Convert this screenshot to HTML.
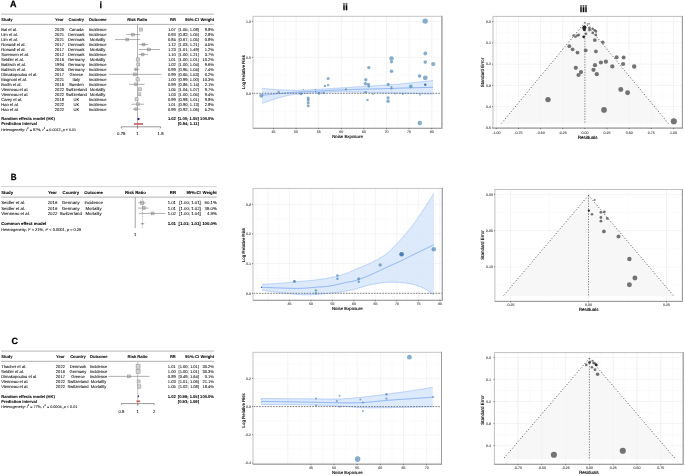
<!DOCTYPE html>
<html><head><meta charset="utf-8"><style>
html,body{margin:0;padding:0;background:#fff;}
svg{display:block;font-family:"Liberation Sans",sans-serif;will-change:transform;text-rendering:geometricPrecision;}
</style></head><body>
<svg width="685" height="476" viewBox="0 0 685 476">
<rect width="685" height="476" fill="#fff"/>
<line x1="1" y1="14.2" x2="214" y2="14.2" stroke="#b0b0b0" stroke-width="0.9" />
<line x1="1" y1="24.4" x2="214" y2="24.4" stroke="#a8a8a8" stroke-width="0.9" />
<text x="1.2" y="21.08" font-size="4.1" text-anchor="start" font-weight="bold" fill="#000"  stroke="#000" stroke-width="0.05">Study</text>
<text x="59.4" y="21.08" font-size="4.1" text-anchor="middle" font-weight="bold" fill="#000"  stroke="#000" stroke-width="0.05">Year</text>
<text x="76.3" y="21.08" font-size="4.1" text-anchor="middle" font-weight="bold" fill="#000"  stroke="#000" stroke-width="0.05">Country</text>
<text x="97.7" y="21.08" font-size="4.1" text-anchor="middle" font-weight="bold" fill="#000"  stroke="#000" stroke-width="0.05">Outcome</text>
<text x="137.2" y="21.08" font-size="4.1" text-anchor="middle" font-weight="bold" fill="#000"  stroke="#000" stroke-width="0.05">Risk Ratio</text>
<text x="175.9" y="21.08" font-size="4.1" text-anchor="end" font-weight="bold" fill="#000"  stroke="#000" stroke-width="0.05">RR</text>
<text x="198.9" y="21.08" font-size="4.1" text-anchor="end" font-weight="bold" fill="#000"  stroke="#000" stroke-width="0.05">95%-CI</text>
<text x="214" y="21.08" font-size="4.1" text-anchor="end" font-weight="bold" fill="#000"  stroke="#000" stroke-width="0.05">Weight</text>
<line x1="137.5" y1="24.4" x2="137.5" y2="128.6" stroke="#ababab" stroke-width="0.9" />
<text x="1.2" y="31.08" font-size="4.1" text-anchor="start" font-weight="normal" fill="#000"  stroke="#000" stroke-width="0.05">Bai et al.</text>
<text x="59.4" y="31.08" font-size="4.1" text-anchor="middle" font-weight="normal" fill="#000"  stroke="#000" stroke-width="0.05">2020</text>
<text x="76.3" y="31.08" font-size="4.1" text-anchor="middle" font-weight="normal" fill="#000"  stroke="#000" stroke-width="0.05">Canada</text>
<text x="97.7" y="31.08" font-size="4.1" text-anchor="middle" font-weight="normal" fill="#000"  stroke="#000" stroke-width="0.05">Incidence</text>
<text x="175.9" y="31.08" font-size="4.1" text-anchor="end" font-weight="normal" fill="#000"  stroke="#000" stroke-width="0.05">1.07</text>
<text x="198.9" y="31.08" font-size="4.1" text-anchor="end" font-weight="normal" fill="#000"  stroke="#000" stroke-width="0.05">[1.05; 1.08]</text>
<text x="214" y="31.08" font-size="4.1" text-anchor="end" font-weight="normal" fill="#000"  stroke="#000" stroke-width="0.05">9.8%</text>
<rect x="139.5" y="28.1" width="3" height="3" fill="#d2d2d2" stroke="#969696" stroke-width="0.55" />
<text x="1.2" y="36.05" font-size="4.1" text-anchor="start" font-weight="normal" fill="#000"  stroke="#000" stroke-width="0.05">Lim et al.</text>
<text x="59.4" y="36.05" font-size="4.1" text-anchor="middle" font-weight="normal" fill="#000"  stroke="#000" stroke-width="0.05">2021</text>
<text x="76.3" y="36.05" font-size="4.1" text-anchor="middle" font-weight="normal" fill="#000"  stroke="#000" stroke-width="0.05">Denmark</text>
<text x="97.7" y="36.05" font-size="4.1" text-anchor="middle" font-weight="normal" fill="#000"  stroke="#000" stroke-width="0.05">Incidence</text>
<text x="175.9" y="36.05" font-size="4.1" text-anchor="end" font-weight="normal" fill="#000"  stroke="#000" stroke-width="0.05">0.93</text>
<text x="198.9" y="36.05" font-size="4.1" text-anchor="end" font-weight="normal" fill="#000"  stroke="#000" stroke-width="0.05">[0.82; 1.05]</text>
<text x="214" y="36.05" font-size="4.1" text-anchor="end" font-weight="normal" fill="#000"  stroke="#000" stroke-width="0.05">2.8%</text>
<rect x="131.7" y="33.18" width="2.8" height="2.8" fill="#d2d2d2" stroke="#969696" stroke-width="0.55" />
<line x1="126.3" y1="34.58" x2="140.2" y2="34.58" stroke="#7a7a7a" stroke-width="0.6" />
<text x="1.2" y="41.03" font-size="4.1" text-anchor="start" font-weight="normal" fill="#000"  stroke="#000" stroke-width="0.05">Lim et al.</text>
<text x="59.4" y="41.03" font-size="4.1" text-anchor="middle" font-weight="normal" fill="#000"  stroke="#000" stroke-width="0.05">2021</text>
<text x="76.3" y="41.03" font-size="4.1" text-anchor="middle" font-weight="normal" fill="#000"  stroke="#000" stroke-width="0.05">Denmark</text>
<text x="97.7" y="41.03" font-size="4.1" text-anchor="middle" font-weight="normal" fill="#000"  stroke="#000" stroke-width="0.05">Mortality</text>
<text x="175.9" y="41.03" font-size="4.1" text-anchor="end" font-weight="normal" fill="#000"  stroke="#000" stroke-width="0.05">0.84</text>
<text x="198.9" y="41.03" font-size="4.1" text-anchor="end" font-weight="normal" fill="#000"  stroke="#000" stroke-width="0.05">[0.67; 1.05]</text>
<text x="214" y="41.03" font-size="4.1" text-anchor="end" font-weight="normal" fill="#000"  stroke="#000" stroke-width="0.05">0.8%</text>
<rect x="125.9" y="38.15" width="2.8" height="2.8" fill="#d2d2d2" stroke="#969696" stroke-width="0.55" />
<line x1="115" y1="39.55" x2="140.2" y2="39.55" stroke="#7a7a7a" stroke-width="0.6" />
<text x="1.2" y="46" font-size="4.1" text-anchor="start" font-weight="normal" fill="#000"  stroke="#000" stroke-width="0.05">Roswall et al.</text>
<text x="59.4" y="46" font-size="4.1" text-anchor="middle" font-weight="normal" fill="#000"  stroke="#000" stroke-width="0.05">2017</text>
<text x="76.3" y="46" font-size="4.1" text-anchor="middle" font-weight="normal" fill="#000"  stroke="#000" stroke-width="0.05">Denmark</text>
<text x="97.7" y="46" font-size="4.1" text-anchor="middle" font-weight="normal" fill="#000"  stroke="#000" stroke-width="0.05">Incidence</text>
<text x="175.9" y="46" font-size="4.1" text-anchor="end" font-weight="normal" fill="#000"  stroke="#000" stroke-width="0.05">1.12</text>
<text x="198.9" y="46" font-size="4.1" text-anchor="end" font-weight="normal" fill="#000"  stroke="#000" stroke-width="0.05">[1.03; 1.21]</text>
<text x="214" y="46" font-size="4.1" text-anchor="end" font-weight="normal" fill="#000"  stroke="#000" stroke-width="0.05">4.5%</text>
<rect x="142.2" y="43.12" width="2.8" height="2.8" fill="#d2d2d2" stroke="#969696" stroke-width="0.55" />
<line x1="139" y1="44.52" x2="148" y2="44.52" stroke="#7a7a7a" stroke-width="0.6" />
<text x="1.2" y="50.98" font-size="4.1" text-anchor="start" font-weight="normal" fill="#000"  stroke="#000" stroke-width="0.05">Roswall et al.</text>
<text x="59.4" y="50.98" font-size="4.1" text-anchor="middle" font-weight="normal" fill="#000"  stroke="#000" stroke-width="0.05">2017</text>
<text x="76.3" y="50.98" font-size="4.1" text-anchor="middle" font-weight="normal" fill="#000"  stroke="#000" stroke-width="0.05">Denmark</text>
<text x="97.7" y="50.98" font-size="4.1" text-anchor="middle" font-weight="normal" fill="#000"  stroke="#000" stroke-width="0.05">Mortality</text>
<text x="175.9" y="50.98" font-size="4.1" text-anchor="end" font-weight="normal" fill="#000"  stroke="#000" stroke-width="0.05">1.23</text>
<text x="198.9" y="50.98" font-size="4.1" text-anchor="end" font-weight="normal" fill="#000"  stroke="#000" stroke-width="0.05">[1.01; 1.49]</text>
<text x="214" y="50.98" font-size="4.1" text-anchor="end" font-weight="normal" fill="#000"  stroke="#000" stroke-width="0.05">1.2%</text>
<rect x="147.5" y="48.1" width="2.8" height="2.8" fill="#d2d2d2" stroke="#969696" stroke-width="0.55" />
<line x1="138.9" y1="49.5" x2="159.9" y2="49.5" stroke="#7a7a7a" stroke-width="0.6" />
<text x="1.2" y="55.95" font-size="4.1" text-anchor="start" font-weight="normal" fill="#000"  stroke="#000" stroke-width="0.05">Sorensen et al.</text>
<text x="59.4" y="55.95" font-size="4.1" text-anchor="middle" font-weight="normal" fill="#000"  stroke="#000" stroke-width="0.05">2012</text>
<text x="76.3" y="55.95" font-size="4.1" text-anchor="middle" font-weight="normal" fill="#000"  stroke="#000" stroke-width="0.05">Denmark</text>
<text x="97.7" y="55.95" font-size="4.1" text-anchor="middle" font-weight="normal" fill="#000"  stroke="#000" stroke-width="0.05">Incidence</text>
<text x="175.9" y="55.95" font-size="4.1" text-anchor="end" font-weight="normal" fill="#000"  stroke="#000" stroke-width="0.05">1.10</text>
<text x="198.9" y="55.95" font-size="4.1" text-anchor="end" font-weight="normal" fill="#000"  stroke="#000" stroke-width="0.05">[1.00; 1.21]</text>
<text x="214" y="55.95" font-size="4.1" text-anchor="end" font-weight="normal" fill="#000"  stroke="#000" stroke-width="0.05">3.7%</text>
<rect x="141.2" y="53.08" width="2.8" height="2.8" fill="#d2d2d2" stroke="#969696" stroke-width="0.55" />
<line x1="138.5" y1="54.48" x2="148" y2="54.48" stroke="#7a7a7a" stroke-width="0.6" />
<text x="1.2" y="60.93" font-size="4.1" text-anchor="start" font-weight="normal" fill="#000"  stroke="#000" stroke-width="0.05">Seidler et al.</text>
<text x="59.4" y="60.93" font-size="4.1" text-anchor="middle" font-weight="normal" fill="#000"  stroke="#000" stroke-width="0.05">2016</text>
<text x="76.3" y="60.93" font-size="4.1" text-anchor="middle" font-weight="normal" fill="#000"  stroke="#000" stroke-width="0.05">Germany</text>
<text x="97.7" y="60.93" font-size="4.1" text-anchor="middle" font-weight="normal" fill="#000"  stroke="#000" stroke-width="0.05">Mortality</text>
<text x="175.9" y="60.93" font-size="4.1" text-anchor="end" font-weight="normal" fill="#000"  stroke="#000" stroke-width="0.05">1.01</text>
<text x="198.9" y="60.93" font-size="4.1" text-anchor="end" font-weight="normal" fill="#000"  stroke="#000" stroke-width="0.05">[1.00; 1.01]</text>
<text x="214" y="60.93" font-size="4.1" text-anchor="end" font-weight="normal" fill="#000"  stroke="#000" stroke-width="0.05">10.2%</text>
<rect x="136.2" y="57.85" width="3.2" height="3.2" fill="#d2d2d2" stroke="#969696" stroke-width="0.55" />
<text x="1.2" y="65.9" font-size="4.1" text-anchor="start" font-weight="normal" fill="#000"  stroke="#000" stroke-width="0.05">Babisch et al.</text>
<text x="59.4" y="65.9" font-size="4.1" text-anchor="middle" font-weight="normal" fill="#000"  stroke="#000" stroke-width="0.05">1994</text>
<text x="76.3" y="65.9" font-size="4.1" text-anchor="middle" font-weight="normal" fill="#000"  stroke="#000" stroke-width="0.05">Germany</text>
<text x="97.7" y="65.9" font-size="4.1" text-anchor="middle" font-weight="normal" fill="#000"  stroke="#000" stroke-width="0.05">Incidence</text>
<text x="175.9" y="65.9" font-size="4.1" text-anchor="end" font-weight="normal" fill="#000"  stroke="#000" stroke-width="0.05">1.02</text>
<text x="198.9" y="65.9" font-size="4.1" text-anchor="end" font-weight="normal" fill="#000"  stroke="#000" stroke-width="0.05">[1.00; 1.04]</text>
<text x="214" y="65.9" font-size="4.1" text-anchor="end" font-weight="normal" fill="#000"  stroke="#000" stroke-width="0.05">9.6%</text>
<rect x="136.8" y="62.92" width="3" height="3" fill="#d2d2d2" stroke="#969696" stroke-width="0.55" />
<text x="1.2" y="70.88" font-size="4.1" text-anchor="start" font-weight="normal" fill="#000"  stroke="#000" stroke-width="0.05">Babisch et al.</text>
<text x="59.4" y="70.88" font-size="4.1" text-anchor="middle" font-weight="normal" fill="#000"  stroke="#000" stroke-width="0.05">2005</text>
<text x="76.3" y="70.88" font-size="4.1" text-anchor="middle" font-weight="normal" fill="#000"  stroke="#000" stroke-width="0.05">Germany</text>
<text x="97.7" y="70.88" font-size="4.1" text-anchor="middle" font-weight="normal" fill="#000"  stroke="#000" stroke-width="0.05">Incidence</text>
<text x="175.9" y="70.88" font-size="4.1" text-anchor="end" font-weight="normal" fill="#000"  stroke="#000" stroke-width="0.05">0.99</text>
<text x="198.9" y="70.88" font-size="4.1" text-anchor="end" font-weight="normal" fill="#000"  stroke="#000" stroke-width="0.05">[0.95; 1.04]</text>
<text x="214" y="70.88" font-size="4.1" text-anchor="end" font-weight="normal" fill="#000"  stroke="#000" stroke-width="0.05">7.4%</text>
<rect x="134.9" y="68" width="2.8" height="2.8" fill="#d2d2d2" stroke="#969696" stroke-width="0.55" />
<line x1="134.2" y1="69.4" x2="139.4" y2="69.4" stroke="#7a7a7a" stroke-width="0.6" />
<text x="1.2" y="75.85" font-size="4.1" text-anchor="start" font-weight="normal" fill="#000"  stroke="#000" stroke-width="0.05">Dimakopoulou et al.</text>
<text x="59.4" y="75.85" font-size="4.1" text-anchor="middle" font-weight="normal" fill="#000"  stroke="#000" stroke-width="0.05">2017</text>
<text x="76.3" y="75.85" font-size="4.1" text-anchor="middle" font-weight="normal" fill="#000"  stroke="#000" stroke-width="0.05">Greece</text>
<text x="97.7" y="75.85" font-size="4.1" text-anchor="middle" font-weight="normal" fill="#000"  stroke="#000" stroke-width="0.05">Incidence</text>
<text x="175.9" y="75.85" font-size="4.1" text-anchor="end" font-weight="normal" fill="#000"  stroke="#000" stroke-width="0.05">0.99</text>
<text x="198.9" y="75.85" font-size="4.1" text-anchor="end" font-weight="normal" fill="#000"  stroke="#000" stroke-width="0.05">[0.65; 1.53]</text>
<text x="214" y="75.85" font-size="4.1" text-anchor="end" font-weight="normal" fill="#000"  stroke="#000" stroke-width="0.05">0.2%</text>
<rect x="133.6" y="72.97" width="2.8" height="2.8" fill="#d2d2d2" stroke="#969696" stroke-width="0.55" />
<line x1="108.8" y1="74.38" x2="161.5" y2="74.38" stroke="#7a7a7a" stroke-width="0.6" />
<text x="1.2" y="80.83" font-size="4.1" text-anchor="start" font-weight="normal" fill="#000"  stroke="#000" stroke-width="0.05">Magnoni et al.</text>
<text x="59.4" y="80.83" font-size="4.1" text-anchor="middle" font-weight="normal" fill="#000"  stroke="#000" stroke-width="0.05">2021</text>
<text x="76.3" y="80.83" font-size="4.1" text-anchor="middle" font-weight="normal" fill="#000"  stroke="#000" stroke-width="0.05">Italy</text>
<text x="97.7" y="80.83" font-size="4.1" text-anchor="middle" font-weight="normal" fill="#000"  stroke="#000" stroke-width="0.05">Incidence</text>
<text x="175.9" y="80.83" font-size="4.1" text-anchor="end" font-weight="normal" fill="#000"  stroke="#000" stroke-width="0.05">1.00</text>
<text x="198.9" y="80.83" font-size="4.1" text-anchor="end" font-weight="normal" fill="#000"  stroke="#000" stroke-width="0.05">[0.99; 1.00]</text>
<text x="214" y="80.83" font-size="4.1" text-anchor="end" font-weight="normal" fill="#000"  stroke="#000" stroke-width="0.05">10.3%</text>
<rect x="136" y="77.75" width="3.2" height="3.2" fill="#d2d2d2" stroke="#969696" stroke-width="0.55" />
<text x="1.2" y="85.8" font-size="4.1" text-anchor="start" font-weight="normal" fill="#000"  stroke="#000" stroke-width="0.05">Bodin et al.</text>
<text x="59.4" y="85.8" font-size="4.1" text-anchor="middle" font-weight="normal" fill="#000"  stroke="#000" stroke-width="0.05">2016</text>
<text x="76.3" y="85.8" font-size="4.1" text-anchor="middle" font-weight="normal" fill="#000"  stroke="#000" stroke-width="0.05">Sweden</text>
<text x="97.7" y="85.8" font-size="4.1" text-anchor="middle" font-weight="normal" fill="#000"  stroke="#000" stroke-width="0.05">Incidence</text>
<text x="175.9" y="85.8" font-size="4.1" text-anchor="end" font-weight="normal" fill="#000"  stroke="#000" stroke-width="0.05">0.99</text>
<text x="198.9" y="85.8" font-size="4.1" text-anchor="end" font-weight="normal" fill="#000"  stroke="#000" stroke-width="0.05">[0.86; 1.14]</text>
<text x="214" y="85.8" font-size="4.1" text-anchor="end" font-weight="normal" fill="#000"  stroke="#000" stroke-width="0.05">2.1%</text>
<rect x="134.7" y="82.92" width="2.8" height="2.8" fill="#d2d2d2" stroke="#969696" stroke-width="0.55" />
<line x1="129" y1="84.32" x2="144.6" y2="84.32" stroke="#7a7a7a" stroke-width="0.6" />
<text x="1.2" y="90.78" font-size="4.1" text-anchor="start" font-weight="normal" fill="#000"  stroke="#000" stroke-width="0.05">Vienneau et al.</text>
<text x="59.4" y="90.78" font-size="4.1" text-anchor="middle" font-weight="normal" fill="#000"  stroke="#000" stroke-width="0.05">2022</text>
<text x="76.3" y="90.78" font-size="4.1" text-anchor="middle" font-weight="normal" fill="#000"  stroke="#000" stroke-width="0.05">Switzerland</text>
<text x="97.7" y="90.78" font-size="4.1" text-anchor="middle" font-weight="normal" fill="#000"  stroke="#000" stroke-width="0.05">Mortality</text>
<text x="175.9" y="90.78" font-size="4.1" text-anchor="end" font-weight="normal" fill="#000"  stroke="#000" stroke-width="0.05">1.05</text>
<text x="198.9" y="90.78" font-size="4.1" text-anchor="end" font-weight="normal" fill="#000"  stroke="#000" stroke-width="0.05">[1.04; 1.07]</text>
<text x="214" y="90.78" font-size="4.1" text-anchor="end" font-weight="normal" fill="#000"  stroke="#000" stroke-width="0.05">9.7%</text>
<rect x="138.6" y="87.8" width="3" height="3" fill="#d2d2d2" stroke="#969696" stroke-width="0.55" />
<text x="1.2" y="95.75" font-size="4.1" text-anchor="start" font-weight="normal" fill="#000"  stroke="#000" stroke-width="0.05">Vienneau et al.</text>
<text x="59.4" y="95.75" font-size="4.1" text-anchor="middle" font-weight="normal" fill="#000"  stroke="#000" stroke-width="0.05">2022</text>
<text x="76.3" y="95.75" font-size="4.1" text-anchor="middle" font-weight="normal" fill="#000"  stroke="#000" stroke-width="0.05">Switzerland</text>
<text x="97.7" y="95.75" font-size="4.1" text-anchor="middle" font-weight="normal" fill="#000"  stroke="#000" stroke-width="0.05">Mortality</text>
<text x="175.9" y="95.75" font-size="4.1" text-anchor="end" font-weight="normal" fill="#000"  stroke="#000" stroke-width="0.05">1.03</text>
<text x="198.9" y="95.75" font-size="4.1" text-anchor="end" font-weight="normal" fill="#000"  stroke="#000" stroke-width="0.05">[1.00; 1.05]</text>
<text x="214" y="95.75" font-size="4.1" text-anchor="end" font-weight="normal" fill="#000"  stroke="#000" stroke-width="0.05">9.4%</text>
<rect x="137.8" y="92.78" width="3" height="3" fill="#d2d2d2" stroke="#969696" stroke-width="0.55" />
<text x="1.2" y="100.73" font-size="4.1" text-anchor="start" font-weight="normal" fill="#000"  stroke="#000" stroke-width="0.05">Carey et al.</text>
<text x="59.4" y="100.73" font-size="4.1" text-anchor="middle" font-weight="normal" fill="#000"  stroke="#000" stroke-width="0.05">2018</text>
<text x="76.3" y="100.73" font-size="4.1" text-anchor="middle" font-weight="normal" fill="#000"  stroke="#000" stroke-width="0.05">UK</text>
<text x="97.7" y="100.73" font-size="4.1" text-anchor="middle" font-weight="normal" fill="#000"  stroke="#000" stroke-width="0.05">Incidence</text>
<text x="175.9" y="100.73" font-size="4.1" text-anchor="end" font-weight="normal" fill="#000"  stroke="#000" stroke-width="0.05">0.99</text>
<text x="198.9" y="100.73" font-size="4.1" text-anchor="end" font-weight="normal" fill="#000"  stroke="#000" stroke-width="0.05">[0.98; 1.01]</text>
<text x="214" y="100.73" font-size="4.1" text-anchor="end" font-weight="normal" fill="#000"  stroke="#000" stroke-width="0.05">9.8%</text>
<rect x="135.1" y="97.75" width="3" height="3" fill="#d2d2d2" stroke="#969696" stroke-width="0.55" />
<text x="1.2" y="105.7" font-size="4.1" text-anchor="start" font-weight="normal" fill="#000"  stroke="#000" stroke-width="0.05">Hao et al.</text>
<text x="59.4" y="105.7" font-size="4.1" text-anchor="middle" font-weight="normal" fill="#000"  stroke="#000" stroke-width="0.05">2022</text>
<text x="76.3" y="105.7" font-size="4.1" text-anchor="middle" font-weight="normal" fill="#000"  stroke="#000" stroke-width="0.05">UK</text>
<text x="97.7" y="105.7" font-size="4.1" text-anchor="middle" font-weight="normal" fill="#000"  stroke="#000" stroke-width="0.05">Incidence</text>
<text x="175.9" y="105.7" font-size="4.1" text-anchor="end" font-weight="normal" fill="#000"  stroke="#000" stroke-width="0.05">1.01</text>
<text x="198.9" y="105.7" font-size="4.1" text-anchor="end" font-weight="normal" fill="#000"  stroke="#000" stroke-width="0.05">[0.90; 1.13]</text>
<text x="214" y="105.7" font-size="4.1" text-anchor="end" font-weight="normal" fill="#000"  stroke="#000" stroke-width="0.05">2.8%</text>
<rect x="136.6" y="102.82" width="2.8" height="2.8" fill="#d2d2d2" stroke="#969696" stroke-width="0.55" />
<line x1="131.3" y1="104.22" x2="144" y2="104.22" stroke="#7a7a7a" stroke-width="0.6" />
<text x="1.2" y="110.68" font-size="4.1" text-anchor="start" font-weight="normal" fill="#000"  stroke="#000" stroke-width="0.05">Hao et al.</text>
<text x="59.4" y="110.68" font-size="4.1" text-anchor="middle" font-weight="normal" fill="#000"  stroke="#000" stroke-width="0.05">2022</text>
<text x="76.3" y="110.68" font-size="4.1" text-anchor="middle" font-weight="normal" fill="#000"  stroke="#000" stroke-width="0.05">UK</text>
<text x="97.7" y="110.68" font-size="4.1" text-anchor="middle" font-weight="normal" fill="#000"  stroke="#000" stroke-width="0.05">Incidence</text>
<text x="175.9" y="110.68" font-size="4.1" text-anchor="end" font-weight="normal" fill="#000"  stroke="#000" stroke-width="0.05">0.99</text>
<text x="198.9" y="110.68" font-size="4.1" text-anchor="end" font-weight="normal" fill="#000"  stroke="#000" stroke-width="0.05">[0.92; 1.06]</text>
<text x="214" y="110.68" font-size="4.1" text-anchor="end" font-weight="normal" fill="#000"  stroke="#000" stroke-width="0.05">5.2%</text>
<rect x="134.8" y="107.8" width="2.8" height="2.8" fill="#d2d2d2" stroke="#969696" stroke-width="0.55" />
<line x1="133" y1="109.2" x2="140.4" y2="109.2" stroke="#7a7a7a" stroke-width="0.6" />
<text x="1.2" y="120.48" font-size="4.1" text-anchor="start" font-weight="bold" fill="#000"  stroke="#000" stroke-width="0.05">Random effects model (HK)</text>
<text x="175.9" y="120.48" font-size="4.1" text-anchor="end" font-weight="bold" fill="#000"  stroke="#000" stroke-width="0.05">1.02</text>
<text x="198.9" y="120.48" font-size="4.1" text-anchor="end" font-weight="bold" fill="#000"  stroke="#000" stroke-width="0.05">[1.00; 1.05]</text>
<text x="214" y="120.48" font-size="4.1" text-anchor="end" font-weight="bold" fill="#000"  stroke="#000" stroke-width="0.05">100.0%</text>
<text x="1.2" y="125.38" font-size="4.1" text-anchor="start" font-weight="bold" fill="#000"  stroke="#000" stroke-width="0.05">Prediction interval</text>
<text x="198.9" y="125.38" font-size="4.1" text-anchor="end" font-weight="bold" fill="#000"  stroke="#000" stroke-width="0.05">[0.94; 1.11]</text>
<text x="1.2" y="130.63" font-size="3.7" stroke="#000" stroke-width="0.06">Heterogeneity: <tspan font-style="italic">I</tspan><tspan dy="-1.6" font-size="2.6">2</tspan><tspan dy="1.6"> = 87%, </tspan><tspan font-style="italic">τ</tspan><tspan dy="-1.6" font-size="2.6">2</tspan><tspan dy="1.6"> = 0.0013, </tspan><tspan font-style="italic">p</tspan> &lt; 0.01</text>
<polygon points="137,119 138.5,117.7 140,119 138.5,120.3" fill="#1a1a86" stroke="none" stroke-width="1" />
<rect x="134" y="123.2" width="9" height="1.6" fill="#c65a5a" stroke="none" stroke-width="1" />
<line x1="121.3" y1="126.8" x2="160.6" y2="126.8" stroke="#555" stroke-width="0.6" />
<line x1="121.3" y1="126.8" x2="121.3" y2="128.4" stroke="#555" stroke-width="0.6" />
<text x="121.3" y="135.25" font-size="4.3" text-anchor="middle" font-weight="normal" fill="#000"  stroke="#000" stroke-width="0.05">0.75</text>
<line x1="137.5" y1="126.8" x2="137.5" y2="128.4" stroke="#555" stroke-width="0.6" />
<text x="137.5" y="135.25" font-size="4.3" text-anchor="middle" font-weight="normal" fill="#000"  stroke="#000" stroke-width="0.05">1</text>
<line x1="160.6" y1="126.8" x2="160.6" y2="128.4" stroke="#555" stroke-width="0.6" />
<text x="160.6" y="135.25" font-size="4.3" text-anchor="middle" font-weight="normal" fill="#000"  stroke="#000" stroke-width="0.05">1.5</text>
<text x="9.9" y="6.9" font-size="9" text-anchor="start" font-weight="bold" fill="#000" stroke="#000" stroke-width="0.25">A</text>
<text x="99.6" y="8.4" font-size="9" text-anchor="start" font-weight="bold" fill="#000" stroke="#000" stroke-width="0.25">i</text>
<line x1="1" y1="186.6" x2="216.8" y2="186.6" stroke="#cfcfcf" stroke-width="0.9" />
<line x1="1" y1="197.1" x2="216.8" y2="197.1" stroke="#a8a8a8" stroke-width="0.9" />
<text x="1.2" y="193.85" font-size="4.3" text-anchor="start" font-weight="bold" fill="#000"  stroke="#000" stroke-width="0.05">Study</text>
<text x="52.5" y="193.85" font-size="4.3" text-anchor="middle" font-weight="bold" fill="#000"  stroke="#000" stroke-width="0.05">Year</text>
<text x="70.8" y="193.85" font-size="4.3" text-anchor="middle" font-weight="bold" fill="#000"  stroke="#000" stroke-width="0.05">Country</text>
<text x="93.6" y="193.85" font-size="4.3" text-anchor="middle" font-weight="bold" fill="#000"  stroke="#000" stroke-width="0.05">Outcome</text>
<text x="135.4" y="193.85" font-size="4.3" text-anchor="middle" font-weight="bold" fill="#000"  stroke="#000" stroke-width="0.05">Risk Ratio</text>
<text x="176" y="193.85" font-size="4.3" text-anchor="end" font-weight="bold" fill="#000"  stroke="#000" stroke-width="0.05">RR</text>
<text x="200.8" y="193.85" font-size="4.3" text-anchor="end" font-weight="bold" fill="#000"  stroke="#000" stroke-width="0.05">95%-CI</text>
<text x="216.8" y="193.85" font-size="4.3" text-anchor="end" font-weight="bold" fill="#000"  stroke="#000" stroke-width="0.05">Weight</text>
<line x1="135.2" y1="197.1" x2="135.2" y2="228.2" stroke="#7a7a7a" stroke-width="0.7" />
<line x1="142.6" y1="197.1" x2="142.6" y2="228.2" stroke="#7a7a7a" stroke-width="0.5" stroke-dasharray="1.2,0.9"/>
<text x="1.2" y="204.35" font-size="4.3" text-anchor="start" font-weight="normal" fill="#000"  stroke="#000" stroke-width="0.05">Seidler et al.</text>
<text x="52.5" y="204.35" font-size="4.3" text-anchor="middle" font-weight="normal" fill="#000"  stroke="#000" stroke-width="0.05">2016</text>
<text x="70.8" y="204.35" font-size="4.3" text-anchor="middle" font-weight="normal" fill="#000"  stroke="#000" stroke-width="0.05">Germany</text>
<text x="93.6" y="204.35" font-size="4.3" text-anchor="middle" font-weight="normal" fill="#000"  stroke="#000" stroke-width="0.05">Incidence</text>
<text x="176" y="204.35" font-size="4.3" text-anchor="end" font-weight="normal" fill="#000"  stroke="#000" stroke-width="0.05">1.01</text>
<text x="200.8" y="204.35" font-size="4.3" text-anchor="end" font-weight="normal" fill="#000"  stroke="#000" stroke-width="0.05">[1.00; 1.01]</text>
<text x="216.8" y="204.35" font-size="4.3" text-anchor="end" font-weight="normal" fill="#000"  stroke="#000" stroke-width="0.05">60.1%</text>
<rect x="140.4" y="201.1" width="3.4" height="3.4" fill="#d2d2d2" stroke="#969696" stroke-width="0.55" />
<line x1="138.1" y1="202.8" x2="145.7" y2="202.8" stroke="#7a7a7a" stroke-width="0.6" />
<text x="1.2" y="209.65" font-size="4.3" text-anchor="start" font-weight="normal" fill="#000"  stroke="#000" stroke-width="0.05">Seidler et al.</text>
<text x="52.5" y="209.65" font-size="4.3" text-anchor="middle" font-weight="normal" fill="#000"  stroke="#000" stroke-width="0.05">2016</text>
<text x="70.8" y="209.65" font-size="4.3" text-anchor="middle" font-weight="normal" fill="#000"  stroke="#000" stroke-width="0.05">Germany</text>
<text x="93.6" y="209.65" font-size="4.3" text-anchor="middle" font-weight="normal" fill="#000"  stroke="#000" stroke-width="0.05">Mortality</text>
<text x="176" y="209.65" font-size="4.3" text-anchor="end" font-weight="normal" fill="#000"  stroke="#000" stroke-width="0.05">1.01</text>
<text x="200.8" y="209.65" font-size="4.3" text-anchor="end" font-weight="normal" fill="#000"  stroke="#000" stroke-width="0.05">[1.00; 1.02]</text>
<text x="216.8" y="209.65" font-size="4.3" text-anchor="end" font-weight="normal" fill="#000"  stroke="#000" stroke-width="0.05">35.0%</text>
<rect x="142.25" y="206.65" width="2.9" height="2.9" fill="#d2d2d2" stroke="#969696" stroke-width="0.55" />
<line x1="138" y1="208.1" x2="148.5" y2="208.1" stroke="#7a7a7a" stroke-width="0.6" />
<text x="1.2" y="214.95" font-size="4.3" text-anchor="start" font-weight="normal" fill="#000"  stroke="#000" stroke-width="0.05">Vienneau et al.</text>
<text x="52.5" y="214.95" font-size="4.3" text-anchor="middle" font-weight="normal" fill="#000"  stroke="#000" stroke-width="0.05">2022</text>
<text x="70.8" y="214.95" font-size="4.3" text-anchor="middle" font-weight="normal" fill="#000"  stroke="#000" stroke-width="0.05">Switzerland</text>
<text x="93.6" y="214.95" font-size="4.3" text-anchor="middle" font-weight="normal" fill="#000"  stroke="#000" stroke-width="0.05">Mortality</text>
<text x="176" y="214.95" font-size="4.3" text-anchor="end" font-weight="normal" fill="#000"  stroke="#000" stroke-width="0.05">1.02</text>
<text x="200.8" y="214.95" font-size="4.3" text-anchor="end" font-weight="normal" fill="#000"  stroke="#000" stroke-width="0.05">[1.00; 1.04]</text>
<text x="216.8" y="214.95" font-size="4.3" text-anchor="end" font-weight="normal" fill="#000"  stroke="#000" stroke-width="0.05">4.9%</text>
<rect x="151.2" y="212" width="2.8" height="2.8" fill="#d2d2d2" stroke="#969696" stroke-width="0.55" />
<line x1="138.9" y1="213.4" x2="165.4" y2="213.4" stroke="#7a7a7a" stroke-width="0.6" />
<text x="1.2" y="225.45" font-size="4.3" text-anchor="start" font-weight="bold" fill="#000"  stroke="#000" stroke-width="0.05">Common effect model</text>
<text x="176" y="225.45" font-size="4.3" text-anchor="end" font-weight="bold" fill="#000"  stroke="#000" stroke-width="0.05">1.01</text>
<text x="200.8" y="225.45" font-size="4.3" text-anchor="end" font-weight="bold" fill="#000"  stroke="#000" stroke-width="0.05">[1.01; 1.01]</text>
<text x="216.8" y="225.45" font-size="4.3" text-anchor="end" font-weight="bold" fill="#000"  stroke="#000" stroke-width="0.05">100.0%</text>
<text x="1.2" y="231.32" font-size="3.95" stroke="#000" stroke-width="0.06">Heterogeneity: <tspan font-style="italic">I</tspan><tspan dy="-1.3" font-size="2.8">2</tspan><tspan dy="1.3"> = 21%, </tspan><tspan font-style="italic">τ</tspan><tspan dy="-1.3" font-size="2.8">2</tspan><tspan dy="1.3"> &lt; 0.0001, </tspan><tspan font-style="italic">p</tspan> = 0.28</text>
<polygon points="140.4,223.8 142.5,222.8 144.6,223.8 142.5,224.8" fill="#9a9a9a" stroke="none" stroke-width="1" />
<text x="135.2" y="236.1" font-size="4.3" text-anchor="middle" font-weight="normal" fill="#000"  stroke="#000" stroke-width="0.05">1</text>
<g transform="translate(10.8,0) scale(0.9,1)">
<text x="0" y="179.9" font-size="9" text-anchor="start" font-weight="bold" fill="#000" stroke="#000" stroke-width="0.25">B</text>
</g>
<line x1="1" y1="351.1" x2="214" y2="351.1" stroke="#b0b0b0" stroke-width="0.9" />
<line x1="1" y1="361.3" x2="214" y2="361.3" stroke="#a8a8a8" stroke-width="0.9" />
<text x="1.2" y="357.78" font-size="4.1" text-anchor="start" font-weight="bold" fill="#000"  stroke="#000" stroke-width="0.05">Study</text>
<text x="60.4" y="357.78" font-size="4.1" text-anchor="middle" font-weight="bold" fill="#000"  stroke="#000" stroke-width="0.05">Year</text>
<text x="78" y="357.78" font-size="4.1" text-anchor="middle" font-weight="bold" fill="#000"  stroke="#000" stroke-width="0.05">Country</text>
<text x="98.6" y="357.78" font-size="4.1" text-anchor="middle" font-weight="bold" fill="#000"  stroke="#000" stroke-width="0.05">Outcome</text>
<text x="137.6" y="357.78" font-size="4.1" text-anchor="middle" font-weight="bold" fill="#000"  stroke="#000" stroke-width="0.05">Risk Ratio</text>
<text x="175.8" y="357.78" font-size="4.1" text-anchor="end" font-weight="bold" fill="#000"  stroke="#000" stroke-width="0.05">RR</text>
<text x="199" y="357.78" font-size="4.1" text-anchor="end" font-weight="bold" fill="#000"  stroke="#000" stroke-width="0.05">95%-CI</text>
<text x="214" y="357.78" font-size="4.1" text-anchor="end" font-weight="bold" fill="#000"  stroke="#000" stroke-width="0.05">Weight</text>
<line x1="137.7" y1="361.3" x2="137.7" y2="406" stroke="#bdbdbd" stroke-width="0.9" />
<text x="1.2" y="367.68" font-size="4.1" text-anchor="start" font-weight="normal" fill="#000"  stroke="#000" stroke-width="0.05">Thacher et al.</text>
<text x="60.4" y="367.68" font-size="4.1" text-anchor="middle" font-weight="normal" fill="#000"  stroke="#000" stroke-width="0.05">2022</text>
<text x="78" y="367.68" font-size="4.1" text-anchor="middle" font-weight="normal" fill="#000"  stroke="#000" stroke-width="0.05">Denmark</text>
<text x="98.6" y="367.68" font-size="4.1" text-anchor="middle" font-weight="normal" fill="#000"  stroke="#000" stroke-width="0.05">Incidence</text>
<text x="175.8" y="367.68" font-size="4.1" text-anchor="end" font-weight="normal" fill="#000"  stroke="#000" stroke-width="0.05">1.01</text>
<text x="199" y="367.68" font-size="4.1" text-anchor="end" font-weight="normal" fill="#000"  stroke="#000" stroke-width="0.05">[1.00; 1.01]</text>
<text x="214" y="367.68" font-size="4.1" text-anchor="end" font-weight="normal" fill="#000"  stroke="#000" stroke-width="0.05">30.2%</text>
<rect x="136.1" y="364.2" width="4" height="4" fill="#d2d2d2" stroke="#969696" stroke-width="0.55" />
<text x="1.2" y="372.76" font-size="4.1" text-anchor="start" font-weight="normal" fill="#000"  stroke="#000" stroke-width="0.05">Seidler et al.</text>
<text x="60.4" y="372.76" font-size="4.1" text-anchor="middle" font-weight="normal" fill="#000"  stroke="#000" stroke-width="0.05">2016</text>
<text x="78" y="372.76" font-size="4.1" text-anchor="middle" font-weight="normal" fill="#000"  stroke="#000" stroke-width="0.05">Germany</text>
<text x="98.6" y="372.76" font-size="4.1" text-anchor="middle" font-weight="normal" fill="#000"  stroke="#000" stroke-width="0.05">Incidence</text>
<text x="175.8" y="372.76" font-size="4.1" text-anchor="end" font-weight="normal" fill="#000"  stroke="#000" stroke-width="0.05">1.00</text>
<text x="199" y="372.76" font-size="4.1" text-anchor="end" font-weight="normal" fill="#000"  stroke="#000" stroke-width="0.05">[1.00; 1.01]</text>
<text x="214" y="372.76" font-size="4.1" text-anchor="end" font-weight="normal" fill="#000"  stroke="#000" stroke-width="0.05">30.3%</text>
<rect x="136.1" y="369.28" width="4" height="4" fill="#d2d2d2" stroke="#969696" stroke-width="0.55" />
<text x="1.2" y="377.84" font-size="4.1" text-anchor="start" font-weight="normal" fill="#000"  stroke="#000" stroke-width="0.05">Dimakopoulou et al.</text>
<text x="60.4" y="377.84" font-size="4.1" text-anchor="middle" font-weight="normal" fill="#000"  stroke="#000" stroke-width="0.05">2017</text>
<text x="78" y="377.84" font-size="4.1" text-anchor="middle" font-weight="normal" fill="#000"  stroke="#000" stroke-width="0.05">Greece</text>
<text x="98.6" y="377.84" font-size="4.1" text-anchor="middle" font-weight="normal" fill="#000"  stroke="#000" stroke-width="0.05">Incidence</text>
<text x="175.8" y="377.84" font-size="4.1" text-anchor="end" font-weight="normal" fill="#000"  stroke="#000" stroke-width="0.05">0.89</text>
<text x="199" y="377.84" font-size="4.1" text-anchor="end" font-weight="normal" fill="#000"  stroke="#000" stroke-width="0.05">[0.49; 1.64]</text>
<text x="214" y="377.84" font-size="4.1" text-anchor="end" font-weight="normal" fill="#000"  stroke="#000" stroke-width="0.05">0.1%</text>
<rect x="127.6" y="374.96" width="2.8" height="2.8" fill="#d2d2d2" stroke="#969696" stroke-width="0.55" />
<line x1="108.5" y1="376.36" x2="149.5" y2="376.36" stroke="#7a7a7a" stroke-width="0.6" />
<text x="1.2" y="382.92" font-size="4.1" text-anchor="start" font-weight="normal" fill="#000"  stroke="#000" stroke-width="0.05">Vienneau et al.</text>
<text x="60.4" y="382.92" font-size="4.1" text-anchor="middle" font-weight="normal" fill="#000"  stroke="#000" stroke-width="0.05">2022</text>
<text x="78" y="382.92" font-size="4.1" text-anchor="middle" font-weight="normal" fill="#000"  stroke="#000" stroke-width="0.05">Switzerland</text>
<text x="98.6" y="382.92" font-size="4.1" text-anchor="middle" font-weight="normal" fill="#000"  stroke="#000" stroke-width="0.05">Mortality</text>
<text x="175.8" y="382.92" font-size="4.1" text-anchor="end" font-weight="normal" fill="#000"  stroke="#000" stroke-width="0.05">1.03</text>
<text x="199" y="382.92" font-size="4.1" text-anchor="end" font-weight="normal" fill="#000"  stroke="#000" stroke-width="0.05">[1.01; 1.06]</text>
<text x="214" y="382.92" font-size="4.1" text-anchor="end" font-weight="normal" fill="#000"  stroke="#000" stroke-width="0.05">21.1%</text>
<rect x="137.1" y="379.94" width="3" height="3" fill="#d2d2d2" stroke="#969696" stroke-width="0.55" />
<text x="1.2" y="388" font-size="4.1" text-anchor="start" font-weight="normal" fill="#000"  stroke="#000" stroke-width="0.05">Vienneau et al.</text>
<text x="60.4" y="388" font-size="4.1" text-anchor="middle" font-weight="normal" fill="#000"  stroke="#000" stroke-width="0.05">2022</text>
<text x="78" y="388" font-size="4.1" text-anchor="middle" font-weight="normal" fill="#000"  stroke="#000" stroke-width="0.05">Switzerland</text>
<text x="98.6" y="388" font-size="4.1" text-anchor="middle" font-weight="normal" fill="#000"  stroke="#000" stroke-width="0.05">Mortality</text>
<text x="175.8" y="388" font-size="4.1" text-anchor="end" font-weight="normal" fill="#000"  stroke="#000" stroke-width="0.05">1.05</text>
<text x="199" y="388" font-size="4.1" text-anchor="end" font-weight="normal" fill="#000"  stroke="#000" stroke-width="0.05">[1.02; 1.08]</text>
<text x="214" y="388" font-size="4.1" text-anchor="end" font-weight="normal" fill="#000"  stroke="#000" stroke-width="0.05">18.4%</text>
<rect x="137.4" y="384.82" width="3.4" height="3.4" fill="#d2d2d2" stroke="#969696" stroke-width="0.55" />
<text x="1.2" y="397.88" font-size="4.1" text-anchor="start" font-weight="bold" fill="#000"  stroke="#000" stroke-width="0.05">Random effects model (HK)</text>
<text x="175.8" y="397.88" font-size="4.1" text-anchor="end" font-weight="bold" fill="#000"  stroke="#000" stroke-width="0.05">1.02</text>
<text x="199" y="397.88" font-size="4.1" text-anchor="end" font-weight="bold" fill="#000"  stroke="#000" stroke-width="0.05">[0.99; 1.05]</text>
<text x="214" y="397.88" font-size="4.1" text-anchor="end" font-weight="bold" fill="#000"  stroke="#000" stroke-width="0.05">100.0%</text>
<text x="1.2" y="402.78" font-size="4.1" text-anchor="start" font-weight="bold" fill="#000"  stroke="#000" stroke-width="0.05">Prediction interval</text>
<text x="199" y="402.78" font-size="4.1" text-anchor="end" font-weight="bold" fill="#000"  stroke="#000" stroke-width="0.05">[0.93; 1.09]</text>
<text x="1.2" y="407.55" font-size="3.75" stroke="#000" stroke-width="0.06">Heterogeneity: <tspan font-style="italic">I</tspan><tspan dy="-1.2" font-size="2.6">2</tspan><tspan dy="1.2"> = 77%, </tspan><tspan font-style="italic">τ</tspan><tspan dy="-1.2" font-size="2.6">2</tspan><tspan dy="1.2"> = 0.0004, </tspan><tspan font-style="italic">p</tspan> &lt; 0.01</text>
<polygon points="137.6,396.2 138.4,394.9 139.2,396.2 138.4,397.5" fill="#1a1a86" stroke="none" stroke-width="1" />
<rect x="136.5" y="400.5" width="3.6" height="1.6" fill="#c65a5a" stroke="none" stroke-width="1" />
<line x1="121.4" y1="403.6" x2="154.1" y2="403.6" stroke="#555" stroke-width="0.6" />
<line x1="121.4" y1="403.6" x2="121.4" y2="405.2" stroke="#555" stroke-width="0.6" />
<text x="121.4" y="412.95" font-size="4.3" text-anchor="middle" font-weight="normal" fill="#000"  stroke="#000" stroke-width="0.05">0.5</text>
<line x1="137.8" y1="403.6" x2="137.8" y2="405.2" stroke="#555" stroke-width="0.6" />
<text x="137.8" y="412.95" font-size="4.3" text-anchor="middle" font-weight="normal" fill="#000"  stroke="#000" stroke-width="0.05">1</text>
<line x1="154.1" y1="403.6" x2="154.1" y2="405.2" stroke="#555" stroke-width="0.6" />
<text x="154.1" y="412.95" font-size="4.3" text-anchor="middle" font-weight="normal" fill="#000"  stroke="#000" stroke-width="0.05">2</text>
<text x="11.6" y="344.1" font-size="9" text-anchor="start" font-weight="bold" fill="#000" stroke="#000" stroke-width="0.25">C</text>
<rect x="253" y="16.3" width="188.5" height="112" fill="#fff" stroke="none" stroke-width="1" />
<line x1="262.2" y1="16.3" x2="262.2" y2="128.3" stroke="#f6f6f6" stroke-width="0.5" />
<line x1="284.8" y1="16.3" x2="284.8" y2="128.3" stroke="#f6f6f6" stroke-width="0.5" />
<line x1="307.4" y1="16.3" x2="307.4" y2="128.3" stroke="#f6f6f6" stroke-width="0.5" />
<line x1="330" y1="16.3" x2="330" y2="128.3" stroke="#f6f6f6" stroke-width="0.5" />
<line x1="352.6" y1="16.3" x2="352.6" y2="128.3" stroke="#f6f6f6" stroke-width="0.5" />
<line x1="375.2" y1="16.3" x2="375.2" y2="128.3" stroke="#f6f6f6" stroke-width="0.5" />
<line x1="397.8" y1="16.3" x2="397.8" y2="128.3" stroke="#f6f6f6" stroke-width="0.5" />
<line x1="420.4" y1="16.3" x2="420.4" y2="128.3" stroke="#f6f6f6" stroke-width="0.5" />
<line x1="253" y1="111.3" x2="441.5" y2="111.3" stroke="#f6f6f6" stroke-width="0.5" />
<line x1="253" y1="75.3" x2="441.5" y2="75.3" stroke="#f6f6f6" stroke-width="0.5" />
<line x1="253" y1="39.3" x2="441.5" y2="39.3" stroke="#f6f6f6" stroke-width="0.5" />
<line x1="273.5" y1="16.3" x2="273.5" y2="128.3" stroke="#ededed" stroke-width="0.6" />
<line x1="296.1" y1="16.3" x2="296.1" y2="128.3" stroke="#ededed" stroke-width="0.6" />
<line x1="318.7" y1="16.3" x2="318.7" y2="128.3" stroke="#ededed" stroke-width="0.6" />
<line x1="341.3" y1="16.3" x2="341.3" y2="128.3" stroke="#ededed" stroke-width="0.6" />
<line x1="363.9" y1="16.3" x2="363.9" y2="128.3" stroke="#ededed" stroke-width="0.6" />
<line x1="386.5" y1="16.3" x2="386.5" y2="128.3" stroke="#ededed" stroke-width="0.6" />
<line x1="409.1" y1="16.3" x2="409.1" y2="128.3" stroke="#ededed" stroke-width="0.6" />
<line x1="431.7" y1="16.3" x2="431.7" y2="128.3" stroke="#ededed" stroke-width="0.6" />
<line x1="253" y1="93.3" x2="441.5" y2="93.3" stroke="#ededed" stroke-width="0.6" />
<line x1="253" y1="57.3" x2="441.5" y2="57.3" stroke="#ededed" stroke-width="0.6" />
<line x1="253" y1="21.3" x2="441.5" y2="21.3" stroke="#ededed" stroke-width="0.6" />
<polygon points="262,88.3 262.32,88.33 262.65,88.36 262.98,88.39 263.3,88.42 263.62,88.45 263.95,88.49 264.27,88.52 264.6,88.55 264.93,88.58 265.25,88.61 265.57,88.65 265.9,88.68 266.23,88.71 266.55,88.75 266.88,88.78 267.2,88.81 267.52,88.84 267.85,88.88 268.18,88.91 268.5,88.94 268.82,88.97 269.15,89 269.48,89.03 269.8,89.07 270.12,89.1 270.45,89.13 270.77,89.16 271.1,89.19 271.43,89.22 271.75,89.24 272.07,89.27 272.4,89.3 272.73,89.33 273.05,89.35 273.38,89.38 273.7,89.41 274.02,89.43 274.35,89.45 274.68,89.48 275,89.5 275.38,89.53 275.75,89.55 276.12,89.57 276.5,89.6 276.88,89.62 277.25,89.64 277.62,89.67 278,89.69 278.38,89.71 278.75,89.73 279.12,89.75 279.5,89.77 279.88,89.79 280.25,89.81 280.62,89.83 281,89.85 281.38,89.87 281.75,89.88 282.12,89.9 282.5,89.92 282.88,89.93 283.25,89.95 283.62,89.97 284,89.98 284.38,90 284.75,90.01 285.12,90.03 285.5,90.04 285.88,90.06 286.25,90.07 286.62,90.08 287,90.1 287.38,90.11 287.75,90.12 288.12,90.14 288.5,90.15 288.88,90.16 289.25,90.18 289.62,90.19 290,90.2 290.25,90.21 290.5,90.22 290.75,90.22 291,90.23 291.25,90.24 291.5,90.25 291.75,90.25 292,90.26 292.25,90.27 292.5,90.27 292.75,90.28 293,90.29 293.25,90.29 293.5,90.3 293.75,90.3 294,90.31 294.25,90.31 294.5,90.32 294.75,90.32 295,90.32 295.25,90.33 295.5,90.33 295.75,90.33 296,90.34 296.25,90.34 296.5,90.34 296.75,90.34 297,90.34 297.25,90.34 297.5,90.34 297.75,90.34 298,90.34 298.25,90.33 298.5,90.33 298.75,90.33 299,90.32 299.25,90.32 299.5,90.31 299.75,90.31 300,90.3 300.38,90.29 300.75,90.28 301.12,90.26 301.5,90.25 301.88,90.24 302.25,90.22 302.62,90.21 303,90.19 303.38,90.17 303.75,90.16 304.12,90.14 304.5,90.12 304.88,90.1 305.25,90.08 305.62,90.06 306,90.04 306.38,90.02 306.75,90 307.12,89.98 307.5,89.96 307.88,89.93 308.25,89.91 308.62,89.89 309,89.87 309.38,89.84 309.75,89.82 310.12,89.8 310.5,89.77 310.88,89.75 311.25,89.73 311.62,89.7 312,89.68 312.38,89.66 312.75,89.63 313.12,89.61 313.5,89.59 313.88,89.57 314.25,89.54 314.62,89.52 315,89.5 315.62,89.46 316.25,89.43 316.88,89.39 317.5,89.36 318.12,89.32 318.75,89.28 319.38,89.25 320,89.21 320.62,89.17 321.25,89.14 321.88,89.1 322.5,89.06 323.12,89.03 323.75,88.99 324.38,88.95 325,88.92 325.62,88.88 326.25,88.84 326.88,88.8 327.5,88.77 328.12,88.73 328.75,88.69 329.38,88.65 330,88.61 330.62,88.58 331.25,88.54 331.88,88.5 332.5,88.46 333.12,88.42 333.75,88.39 334.38,88.35 335,88.31 335.62,88.27 336.25,88.23 336.88,88.19 337.5,88.16 338.12,88.12 338.75,88.08 339.38,88.04 340,88 340.38,87.98 340.75,87.95 341.12,87.93 341.5,87.9 341.88,87.88 342.25,87.86 342.62,87.83 343,87.81 343.38,87.78 343.75,87.76 344.12,87.73 344.5,87.71 344.88,87.68 345.25,87.65 345.62,87.63 346,87.6 346.38,87.58 346.75,87.55 347.12,87.53 347.5,87.5 347.88,87.47 348.25,87.45 348.62,87.42 349,87.4 349.38,87.37 349.75,87.35 350.12,87.32 350.5,87.29 350.88,87.27 351.25,87.24 351.62,87.22 352,87.19 352.38,87.17 352.75,87.14 353.12,87.12 353.5,87.1 353.88,87.07 354.25,87.05 354.62,87.02 355,87 355.62,86.96 356.25,86.92 356.88,86.88 357.5,86.85 358.12,86.81 358.75,86.77 359.38,86.74 360,86.7 360.62,86.66 361.25,86.63 361.88,86.59 362.5,86.56 363.12,86.52 363.75,86.49 364.38,86.45 365,86.42 365.62,86.38 366.25,86.34 366.88,86.31 367.5,86.27 368.12,86.24 368.75,86.2 369.38,86.17 370,86.13 370.62,86.09 371.25,86.06 371.88,86.02 372.5,85.98 373.12,85.95 373.75,85.91 374.38,85.87 375,85.83 375.62,85.79 376.25,85.75 376.88,85.71 377.5,85.67 378.12,85.63 378.75,85.59 379.38,85.54 380,85.5 380.62,85.46 381.25,85.41 381.88,85.37 382.5,85.32 383.12,85.28 383.75,85.23 384.38,85.19 385,85.14 385.62,85.1 386.25,85.05 386.88,85.01 387.5,84.96 388.12,84.91 388.75,84.87 389.38,84.82 390,84.77 390.62,84.72 391.25,84.67 391.88,84.63 392.5,84.58 393.12,84.53 393.75,84.48 394.38,84.43 395,84.38 395.62,84.32 396.25,84.27 396.88,84.22 397.5,84.17 398.12,84.12 398.75,84.06 399.38,84.01 400,83.95 400.62,83.9 401.25,83.84 401.88,83.79 402.5,83.73 403.12,83.67 403.75,83.62 404.38,83.56 405,83.5 405.7,83.43 406.4,83.37 407.1,83.3 407.8,83.23 408.5,83.16 409.2,83.09 409.9,83.02 410.6,82.95 411.3,82.87 412,82.8 412.7,82.73 413.4,82.65 414.1,82.58 414.8,82.5 415.5,82.43 416.2,82.35 416.9,82.28 417.6,82.2 418.3,82.12 419,82.04 419.7,81.97 420.4,81.89 421.1,81.81 421.8,81.73 422.5,81.66 423.2,81.58 423.9,81.5 424.6,81.42 425.3,81.34 426,81.27 426.7,81.19 427.4,81.11 428.1,81.03 428.8,80.96 429.5,80.88 430.2,80.8 430.9,80.73 431.6,80.65 432.3,80.58 433,80.5 433,94.2 432.3,94.18 431.6,94.15 430.9,94.13 430.2,94.11 429.5,94.09 428.8,94.06 428.1,94.04 427.4,94.02 426.7,94 426,93.97 425.3,93.95 424.6,93.93 423.9,93.9 423.2,93.88 422.5,93.86 421.8,93.83 421.1,93.81 420.4,93.79 419.7,93.77 419,93.74 418.3,93.72 417.6,93.7 416.9,93.67 416.2,93.65 415.5,93.63 414.8,93.61 414.1,93.58 413.4,93.56 412.7,93.54 412,93.52 411.3,93.5 410.6,93.47 409.9,93.45 409.2,93.43 408.5,93.41 407.8,93.39 407.1,93.36 406.4,93.34 405.7,93.32 405,93.3 404.38,93.28 403.75,93.26 403.12,93.24 402.5,93.23 401.88,93.21 401.25,93.19 400.62,93.17 400,93.15 399.38,93.13 398.75,93.11 398.12,93.1 397.5,93.08 396.88,93.06 396.25,93.04 395.62,93.03 395,93.01 394.38,92.99 393.75,92.97 393.12,92.95 392.5,92.94 391.88,92.92 391.25,92.9 390.62,92.88 390,92.87 389.38,92.85 388.75,92.83 388.12,92.82 387.5,92.8 386.88,92.78 386.25,92.77 385.62,92.75 385,92.73 384.38,92.72 383.75,92.7 383.12,92.68 382.5,92.67 381.88,92.65 381.25,92.63 380.62,92.62 380,92.6 379.38,92.58 378.75,92.57 378.12,92.55 377.5,92.54 376.88,92.52 376.25,92.5 375.62,92.49 375,92.47 374.38,92.45 373.75,92.44 373.12,92.42 372.5,92.41 371.88,92.39 371.25,92.37 370.62,92.36 370,92.34 369.38,92.33 368.75,92.31 368.12,92.3 367.5,92.28 366.88,92.27 366.25,92.25 365.62,92.24 365,92.22 364.38,92.21 363.75,92.19 363.12,92.18 362.5,92.16 361.88,92.15 361.25,92.13 360.62,92.12 360,92.11 359.38,92.09 358.75,92.08 358.12,92.06 357.5,92.05 356.88,92.04 356.25,92.03 355.62,92.01 355,92 354.62,91.99 354.25,91.98 353.88,91.98 353.5,91.97 353.12,91.96 352.75,91.95 352.38,91.94 352,91.93 351.62,91.92 351.25,91.92 350.88,91.91 350.5,91.9 350.12,91.89 349.75,91.88 349.38,91.87 349,91.86 348.62,91.86 348.25,91.85 347.88,91.84 347.5,91.83 347.12,91.83 346.75,91.82 346.38,91.81 346,91.81 345.62,91.8 345.25,91.8 344.88,91.79 344.5,91.79 344.12,91.79 343.75,91.79 343.38,91.78 343,91.78 342.62,91.78 342.25,91.78 341.88,91.78 341.5,91.78 341.12,91.79 340.75,91.79 340.38,91.79 340,91.8 339.38,91.81 338.75,91.82 338.12,91.83 337.5,91.84 336.88,91.85 336.25,91.86 335.62,91.87 335,91.89 334.38,91.9 333.75,91.91 333.12,91.93 332.5,91.94 331.88,91.96 331.25,91.97 330.62,91.99 330,92 329.38,92.02 328.75,92.04 328.12,92.06 327.5,92.07 326.88,92.09 326.25,92.11 325.62,92.14 325,92.16 324.38,92.18 323.75,92.2 323.12,92.22 322.5,92.25 321.88,92.27 321.25,92.3 320.62,92.33 320,92.35 319.38,92.38 318.75,92.41 318.12,92.44 317.5,92.47 316.88,92.5 316.25,92.53 315.62,92.57 315,92.6 314.62,92.62 314.25,92.64 313.88,92.67 313.5,92.69 313.12,92.72 312.75,92.75 312.38,92.78 312,92.81 311.62,92.84 311.25,92.87 310.88,92.9 310.5,92.93 310.12,92.97 309.75,93 309.38,93.04 309,93.07 308.62,93.11 308.25,93.15 307.88,93.18 307.5,93.22 307.12,93.26 306.75,93.3 306.38,93.34 306,93.38 305.62,93.42 305.25,93.46 304.88,93.5 304.5,93.54 304.12,93.58 303.75,93.62 303.38,93.66 303,93.7 302.62,93.74 302.25,93.77 301.88,93.81 301.5,93.85 301.12,93.89 300.75,93.93 300.38,93.96 300,94 299.75,94.02 299.5,94.05 299.25,94.07 299,94.09 298.75,94.11 298.5,94.13 298.25,94.14 298,94.16 297.75,94.18 297.5,94.2 297.25,94.21 297,94.23 296.75,94.25 296.5,94.26 296.25,94.28 296,94.3 295.75,94.32 295.5,94.33 295.25,94.35 295,94.37 294.75,94.39 294.5,94.41 294.25,94.43 294,94.45 293.75,94.47 293.5,94.5 293.25,94.52 293,94.55 292.75,94.58 292.5,94.61 292.25,94.64 292,94.67 291.75,94.7 291.5,94.74 291.25,94.78 291,94.82 290.75,94.86 290.5,94.9 290.25,94.95 290,95 289.62,95.08 289.25,95.15 288.88,95.23 288.5,95.31 288.12,95.4 287.75,95.48 287.38,95.57 287,95.66 286.62,95.75 286.25,95.84 285.88,95.93 285.5,96.02 285.12,96.12 284.75,96.21 284.38,96.31 284,96.41 283.62,96.51 283.25,96.61 282.88,96.71 282.5,96.81 282.12,96.92 281.75,97.02 281.38,97.13 281,97.23 280.62,97.34 280.25,97.45 279.88,97.55 279.5,97.66 279.12,97.77 278.75,97.88 278.38,97.99 278,98.1 277.62,98.22 277.25,98.33 276.88,98.44 276.5,98.55 276.12,98.66 275.75,98.78 275.38,98.89 275,99 274.68,99.1 274.35,99.2 274.02,99.3 273.7,99.4 273.38,99.5 273.05,99.61 272.73,99.71 272.4,99.82 272.07,99.92 271.75,100.03 271.43,100.14 271.1,100.25 270.77,100.36 270.45,100.47 270.12,100.58 269.8,100.69 269.48,100.8 269.15,100.91 268.82,101.02 268.5,101.14 268.18,101.25 267.85,101.36 267.52,101.48 267.2,101.59 266.88,101.71 266.55,101.82 266.23,101.93 265.9,102.05 265.57,102.16 265.25,102.28 264.93,102.39 264.6,102.5 264.27,102.62 263.95,102.73 263.62,102.84 263.3,102.96 262.98,103.07 262.65,103.18 262.32,103.29 262,103.4" fill="rgb(212,229,251)" stroke="none" stroke-width="1" fill-opacity="0.8"/>
<polyline points="262,88.3 262.32,88.33 262.65,88.36 262.98,88.39 263.3,88.42 263.62,88.45 263.95,88.49 264.27,88.52 264.6,88.55 264.93,88.58 265.25,88.61 265.57,88.65 265.9,88.68 266.23,88.71 266.55,88.75 266.88,88.78 267.2,88.81 267.52,88.84 267.85,88.88 268.18,88.91 268.5,88.94 268.82,88.97 269.15,89 269.48,89.03 269.8,89.07 270.12,89.1 270.45,89.13 270.77,89.16 271.1,89.19 271.43,89.22 271.75,89.24 272.07,89.27 272.4,89.3 272.73,89.33 273.05,89.35 273.38,89.38 273.7,89.41 274.02,89.43 274.35,89.45 274.68,89.48 275,89.5 275.38,89.53 275.75,89.55 276.12,89.57 276.5,89.6 276.88,89.62 277.25,89.64 277.62,89.67 278,89.69 278.38,89.71 278.75,89.73 279.12,89.75 279.5,89.77 279.88,89.79 280.25,89.81 280.62,89.83 281,89.85 281.38,89.87 281.75,89.88 282.12,89.9 282.5,89.92 282.88,89.93 283.25,89.95 283.62,89.97 284,89.98 284.38,90 284.75,90.01 285.12,90.03 285.5,90.04 285.88,90.06 286.25,90.07 286.62,90.08 287,90.1 287.38,90.11 287.75,90.12 288.12,90.14 288.5,90.15 288.88,90.16 289.25,90.18 289.62,90.19 290,90.2 290.25,90.21 290.5,90.22 290.75,90.22 291,90.23 291.25,90.24 291.5,90.25 291.75,90.25 292,90.26 292.25,90.27 292.5,90.27 292.75,90.28 293,90.29 293.25,90.29 293.5,90.3 293.75,90.3 294,90.31 294.25,90.31 294.5,90.32 294.75,90.32 295,90.32 295.25,90.33 295.5,90.33 295.75,90.33 296,90.34 296.25,90.34 296.5,90.34 296.75,90.34 297,90.34 297.25,90.34 297.5,90.34 297.75,90.34 298,90.34 298.25,90.33 298.5,90.33 298.75,90.33 299,90.32 299.25,90.32 299.5,90.31 299.75,90.31 300,90.3 300.38,90.29 300.75,90.28 301.12,90.26 301.5,90.25 301.88,90.24 302.25,90.22 302.62,90.21 303,90.19 303.38,90.17 303.75,90.16 304.12,90.14 304.5,90.12 304.88,90.1 305.25,90.08 305.62,90.06 306,90.04 306.38,90.02 306.75,90 307.12,89.98 307.5,89.96 307.88,89.93 308.25,89.91 308.62,89.89 309,89.87 309.38,89.84 309.75,89.82 310.12,89.8 310.5,89.77 310.88,89.75 311.25,89.73 311.62,89.7 312,89.68 312.38,89.66 312.75,89.63 313.12,89.61 313.5,89.59 313.88,89.57 314.25,89.54 314.62,89.52 315,89.5 315.62,89.46 316.25,89.43 316.88,89.39 317.5,89.36 318.12,89.32 318.75,89.28 319.38,89.25 320,89.21 320.62,89.17 321.25,89.14 321.88,89.1 322.5,89.06 323.12,89.03 323.75,88.99 324.38,88.95 325,88.92 325.62,88.88 326.25,88.84 326.88,88.8 327.5,88.77 328.12,88.73 328.75,88.69 329.38,88.65 330,88.61 330.62,88.58 331.25,88.54 331.88,88.5 332.5,88.46 333.12,88.42 333.75,88.39 334.38,88.35 335,88.31 335.62,88.27 336.25,88.23 336.88,88.19 337.5,88.16 338.12,88.12 338.75,88.08 339.38,88.04 340,88 340.38,87.98 340.75,87.95 341.12,87.93 341.5,87.9 341.88,87.88 342.25,87.86 342.62,87.83 343,87.81 343.38,87.78 343.75,87.76 344.12,87.73 344.5,87.71 344.88,87.68 345.25,87.65 345.62,87.63 346,87.6 346.38,87.58 346.75,87.55 347.12,87.53 347.5,87.5 347.88,87.47 348.25,87.45 348.62,87.42 349,87.4 349.38,87.37 349.75,87.35 350.12,87.32 350.5,87.29 350.88,87.27 351.25,87.24 351.62,87.22 352,87.19 352.38,87.17 352.75,87.14 353.12,87.12 353.5,87.1 353.88,87.07 354.25,87.05 354.62,87.02 355,87 355.62,86.96 356.25,86.92 356.88,86.88 357.5,86.85 358.12,86.81 358.75,86.77 359.38,86.74 360,86.7 360.62,86.66 361.25,86.63 361.88,86.59 362.5,86.56 363.12,86.52 363.75,86.49 364.38,86.45 365,86.42 365.62,86.38 366.25,86.34 366.88,86.31 367.5,86.27 368.12,86.24 368.75,86.2 369.38,86.17 370,86.13 370.62,86.09 371.25,86.06 371.88,86.02 372.5,85.98 373.12,85.95 373.75,85.91 374.38,85.87 375,85.83 375.62,85.79 376.25,85.75 376.88,85.71 377.5,85.67 378.12,85.63 378.75,85.59 379.38,85.54 380,85.5 380.62,85.46 381.25,85.41 381.88,85.37 382.5,85.32 383.12,85.28 383.75,85.23 384.38,85.19 385,85.14 385.62,85.1 386.25,85.05 386.88,85.01 387.5,84.96 388.12,84.91 388.75,84.87 389.38,84.82 390,84.77 390.62,84.72 391.25,84.67 391.88,84.63 392.5,84.58 393.12,84.53 393.75,84.48 394.38,84.43 395,84.38 395.62,84.32 396.25,84.27 396.88,84.22 397.5,84.17 398.12,84.12 398.75,84.06 399.38,84.01 400,83.95 400.62,83.9 401.25,83.84 401.88,83.79 402.5,83.73 403.12,83.67 403.75,83.62 404.38,83.56 405,83.5 405.7,83.43 406.4,83.37 407.1,83.3 407.8,83.23 408.5,83.16 409.2,83.09 409.9,83.02 410.6,82.95 411.3,82.87 412,82.8 412.7,82.73 413.4,82.65 414.1,82.58 414.8,82.5 415.5,82.43 416.2,82.35 416.9,82.28 417.6,82.2 418.3,82.12 419,82.04 419.7,81.97 420.4,81.89 421.1,81.81 421.8,81.73 422.5,81.66 423.2,81.58 423.9,81.5 424.6,81.42 425.3,81.34 426,81.27 426.7,81.19 427.4,81.11 428.1,81.03 428.8,80.96 429.5,80.88 430.2,80.8 430.9,80.73 431.6,80.65 432.3,80.58 433,80.5" fill="none" stroke="rgb(135,175,242)" stroke-width="0.55" />
<polyline points="262,103.4 262.32,103.29 262.65,103.18 262.98,103.07 263.3,102.96 263.62,102.84 263.95,102.73 264.27,102.62 264.6,102.5 264.93,102.39 265.25,102.28 265.57,102.16 265.9,102.05 266.23,101.93 266.55,101.82 266.88,101.71 267.2,101.59 267.52,101.48 267.85,101.36 268.18,101.25 268.5,101.14 268.82,101.02 269.15,100.91 269.48,100.8 269.8,100.69 270.12,100.58 270.45,100.47 270.77,100.36 271.1,100.25 271.43,100.14 271.75,100.03 272.07,99.92 272.4,99.82 272.73,99.71 273.05,99.61 273.38,99.5 273.7,99.4 274.02,99.3 274.35,99.2 274.68,99.1 275,99 275.38,98.89 275.75,98.78 276.12,98.66 276.5,98.55 276.88,98.44 277.25,98.33 277.62,98.22 278,98.1 278.38,97.99 278.75,97.88 279.12,97.77 279.5,97.66 279.88,97.55 280.25,97.45 280.62,97.34 281,97.23 281.38,97.13 281.75,97.02 282.12,96.92 282.5,96.81 282.88,96.71 283.25,96.61 283.62,96.51 284,96.41 284.38,96.31 284.75,96.21 285.12,96.12 285.5,96.02 285.88,95.93 286.25,95.84 286.62,95.75 287,95.66 287.38,95.57 287.75,95.48 288.12,95.4 288.5,95.31 288.88,95.23 289.25,95.15 289.62,95.08 290,95 290.25,94.95 290.5,94.9 290.75,94.86 291,94.82 291.25,94.78 291.5,94.74 291.75,94.7 292,94.67 292.25,94.64 292.5,94.61 292.75,94.58 293,94.55 293.25,94.52 293.5,94.5 293.75,94.47 294,94.45 294.25,94.43 294.5,94.41 294.75,94.39 295,94.37 295.25,94.35 295.5,94.33 295.75,94.32 296,94.3 296.25,94.28 296.5,94.26 296.75,94.25 297,94.23 297.25,94.21 297.5,94.2 297.75,94.18 298,94.16 298.25,94.14 298.5,94.13 298.75,94.11 299,94.09 299.25,94.07 299.5,94.05 299.75,94.02 300,94 300.38,93.96 300.75,93.93 301.12,93.89 301.5,93.85 301.88,93.81 302.25,93.77 302.62,93.74 303,93.7 303.38,93.66 303.75,93.62 304.12,93.58 304.5,93.54 304.88,93.5 305.25,93.46 305.62,93.42 306,93.38 306.38,93.34 306.75,93.3 307.12,93.26 307.5,93.22 307.88,93.18 308.25,93.15 308.62,93.11 309,93.07 309.38,93.04 309.75,93 310.12,92.97 310.5,92.93 310.88,92.9 311.25,92.87 311.62,92.84 312,92.81 312.38,92.78 312.75,92.75 313.12,92.72 313.5,92.69 313.88,92.67 314.25,92.64 314.62,92.62 315,92.6 315.62,92.57 316.25,92.53 316.88,92.5 317.5,92.47 318.12,92.44 318.75,92.41 319.38,92.38 320,92.35 320.62,92.33 321.25,92.3 321.88,92.27 322.5,92.25 323.12,92.22 323.75,92.2 324.38,92.18 325,92.16 325.62,92.14 326.25,92.11 326.88,92.09 327.5,92.07 328.12,92.06 328.75,92.04 329.38,92.02 330,92 330.62,91.99 331.25,91.97 331.88,91.96 332.5,91.94 333.12,91.93 333.75,91.91 334.38,91.9 335,91.89 335.62,91.87 336.25,91.86 336.88,91.85 337.5,91.84 338.12,91.83 338.75,91.82 339.38,91.81 340,91.8 340.38,91.79 340.75,91.79 341.12,91.79 341.5,91.78 341.88,91.78 342.25,91.78 342.62,91.78 343,91.78 343.38,91.78 343.75,91.79 344.12,91.79 344.5,91.79 344.88,91.79 345.25,91.8 345.62,91.8 346,91.81 346.38,91.81 346.75,91.82 347.12,91.83 347.5,91.83 347.88,91.84 348.25,91.85 348.62,91.86 349,91.86 349.38,91.87 349.75,91.88 350.12,91.89 350.5,91.9 350.88,91.91 351.25,91.92 351.62,91.92 352,91.93 352.38,91.94 352.75,91.95 353.12,91.96 353.5,91.97 353.88,91.98 354.25,91.98 354.62,91.99 355,92 355.62,92.01 356.25,92.03 356.88,92.04 357.5,92.05 358.12,92.06 358.75,92.08 359.38,92.09 360,92.11 360.62,92.12 361.25,92.13 361.88,92.15 362.5,92.16 363.12,92.18 363.75,92.19 364.38,92.21 365,92.22 365.62,92.24 366.25,92.25 366.88,92.27 367.5,92.28 368.12,92.3 368.75,92.31 369.38,92.33 370,92.34 370.62,92.36 371.25,92.37 371.88,92.39 372.5,92.41 373.12,92.42 373.75,92.44 374.38,92.45 375,92.47 375.62,92.49 376.25,92.5 376.88,92.52 377.5,92.54 378.12,92.55 378.75,92.57 379.38,92.58 380,92.6 380.62,92.62 381.25,92.63 381.88,92.65 382.5,92.67 383.12,92.68 383.75,92.7 384.38,92.72 385,92.73 385.62,92.75 386.25,92.77 386.88,92.78 387.5,92.8 388.12,92.82 388.75,92.83 389.38,92.85 390,92.87 390.62,92.88 391.25,92.9 391.88,92.92 392.5,92.94 393.12,92.95 393.75,92.97 394.38,92.99 395,93.01 395.62,93.03 396.25,93.04 396.88,93.06 397.5,93.08 398.12,93.1 398.75,93.11 399.38,93.13 400,93.15 400.62,93.17 401.25,93.19 401.88,93.21 402.5,93.23 403.12,93.24 403.75,93.26 404.38,93.28 405,93.3 405.7,93.32 406.4,93.34 407.1,93.36 407.8,93.39 408.5,93.41 409.2,93.43 409.9,93.45 410.6,93.47 411.3,93.5 412,93.52 412.7,93.54 413.4,93.56 414.1,93.58 414.8,93.61 415.5,93.63 416.2,93.65 416.9,93.67 417.6,93.7 418.3,93.72 419,93.74 419.7,93.77 420.4,93.79 421.1,93.81 421.8,93.83 422.5,93.86 423.2,93.88 423.9,93.9 424.6,93.93 425.3,93.95 426,93.97 426.7,94 427.4,94.02 428.1,94.04 428.8,94.06 429.5,94.09 430.2,94.11 430.9,94.13 431.6,94.15 432.3,94.18 433,94.2" fill="none" stroke="rgb(135,175,242)" stroke-width="0.55" />
<polyline points="262,95.3 262.32,95.27 262.65,95.23 262.98,95.2 263.3,95.17 263.62,95.14 263.95,95.1 264.27,95.07 264.6,95.04 264.93,95.01 265.25,94.97 265.57,94.94 265.9,94.91 266.23,94.87 266.55,94.84 266.88,94.81 267.2,94.78 267.52,94.74 267.85,94.71 268.18,94.68 268.5,94.64 268.82,94.61 269.15,94.58 269.48,94.55 269.8,94.51 270.12,94.48 270.45,94.45 270.77,94.42 271.1,94.38 271.43,94.35 271.75,94.32 272.07,94.29 272.4,94.25 272.73,94.22 273.05,94.19 273.38,94.16 273.7,94.13 274.02,94.09 274.35,94.06 274.68,94.03 275,94 275.38,93.96 275.75,93.93 276.12,93.89 276.5,93.85 276.88,93.82 277.25,93.78 277.62,93.74 278,93.71 278.38,93.67 278.75,93.63 279.12,93.6 279.5,93.56 279.88,93.52 280.25,93.49 280.62,93.45 281,93.41 281.38,93.38 281.75,93.34 282.12,93.31 282.5,93.27 282.88,93.23 283.25,93.2 283.62,93.16 284,93.13 284.38,93.09 284.75,93.06 285.12,93.02 285.5,92.99 285.88,92.95 286.25,92.92 286.62,92.89 287,92.85 287.38,92.82 287.75,92.79 288.12,92.76 288.5,92.72 288.88,92.69 289.25,92.66 289.62,92.63 290,92.6 290.25,92.58 290.5,92.56 290.75,92.54 291,92.52 291.25,92.51 291.5,92.49 291.75,92.47 292,92.45 292.25,92.44 292.5,92.42 292.75,92.4 293,92.39 293.25,92.37 293.5,92.36 293.75,92.34 294,92.33 294.25,92.31 294.5,92.3 294.75,92.28 295,92.27 295.25,92.26 295.5,92.24 295.75,92.23 296,92.22 296.25,92.2 296.5,92.19 296.75,92.17 297,92.16 297.25,92.15 297.5,92.14 297.75,92.12 298,92.11 298.25,92.1 298.5,92.08 298.75,92.07 299,92.05 299.25,92.04 299.5,92.03 299.75,92.01 300,92 300.38,91.98 300.75,91.96 301.12,91.94 301.5,91.92 301.88,91.9 302.25,91.87 302.62,91.85 303,91.83 303.38,91.81 303.75,91.79 304.12,91.77 304.5,91.75 304.88,91.73 305.25,91.71 305.62,91.69 306,91.67 306.38,91.65 306.75,91.63 307.12,91.61 307.5,91.59 307.88,91.57 308.25,91.55 308.62,91.53 309,91.51 309.38,91.49 309.75,91.47 310.12,91.45 310.5,91.43 310.88,91.41 311.25,91.39 311.62,91.37 312,91.35 312.38,91.33 312.75,91.31 313.12,91.29 313.5,91.28 313.88,91.26 314.25,91.24 314.62,91.22 315,91.2 315.62,91.17 316.25,91.14 316.88,91.11 317.5,91.08 318.12,91.04 318.75,91.01 319.38,90.98 320,90.95 320.62,90.92 321.25,90.89 321.88,90.86 322.5,90.83 323.12,90.8 323.75,90.77 324.38,90.74 325,90.71 325.62,90.68 326.25,90.64 326.88,90.61 327.5,90.58 328.12,90.55 328.75,90.52 329.38,90.49 330,90.46 330.62,90.43 331.25,90.4 331.88,90.38 332.5,90.35 333.12,90.32 333.75,90.29 334.38,90.26 335,90.23 335.62,90.2 336.25,90.17 336.88,90.14 337.5,90.11 338.12,90.08 338.75,90.06 339.38,90.03 340,90 340.38,89.98 340.75,89.97 341.12,89.95 341.5,89.93 341.88,89.92 342.25,89.9 342.62,89.88 343,89.87 343.38,89.85 343.75,89.83 344.12,89.82 344.5,89.8 344.88,89.78 345.25,89.77 345.62,89.75 346,89.73 346.38,89.72 346.75,89.7 347.12,89.69 347.5,89.67 347.88,89.66 348.25,89.64 348.62,89.63 349,89.61 349.38,89.6 349.75,89.58 350.12,89.57 350.5,89.55 350.88,89.54 351.25,89.53 351.62,89.51 352,89.5 352.38,89.49 352.75,89.47 353.12,89.46 353.5,89.45 353.88,89.43 354.25,89.42 354.62,89.41 355,89.4 355.62,89.38 356.25,89.36 356.88,89.35 357.5,89.33 358.12,89.31 358.75,89.3 359.38,89.28 360,89.26 360.62,89.25 361.25,89.23 361.88,89.22 362.5,89.2 363.12,89.19 363.75,89.18 364.38,89.16 365,89.15 365.62,89.13 366.25,89.12 366.88,89.11 367.5,89.09 368.12,89.08 368.75,89.07 369.38,89.05 370,89.04 370.62,89.03 371.25,89.01 371.88,89 372.5,88.99 373.12,88.97 373.75,88.96 374.38,88.94 375,88.93 375.62,88.91 376.25,88.9 376.88,88.88 377.5,88.87 378.12,88.85 378.75,88.83 379.38,88.82 380,88.8 380.62,88.78 381.25,88.76 381.88,88.75 382.5,88.73 383.12,88.71 383.75,88.69 384.38,88.67 385,88.65 385.62,88.63 386.25,88.61 386.88,88.59 387.5,88.57 388.12,88.55 388.75,88.53 389.38,88.51 390,88.49 390.62,88.46 391.25,88.44 391.88,88.42 392.5,88.4 393.12,88.38 393.75,88.36 394.38,88.34 395,88.32 395.62,88.3 396.25,88.27 396.88,88.25 397.5,88.23 398.12,88.21 398.75,88.19 399.38,88.17 400,88.15 400.62,88.13 401.25,88.11 401.88,88.09 402.5,88.07 403.12,88.05 403.75,88.04 404.38,88.02 405,88 405.7,87.98 406.4,87.96 407.1,87.94 407.8,87.92 408.5,87.9 409.2,87.88 409.9,87.87 410.6,87.85 411.3,87.83 412,87.81 412.7,87.79 413.4,87.78 414.1,87.76 414.8,87.74 415.5,87.72 416.2,87.71 416.9,87.69 417.6,87.67 418.3,87.66 419,87.64 419.7,87.62 420.4,87.6 421.1,87.59 421.8,87.57 422.5,87.55 423.2,87.54 423.9,87.52 424.6,87.5 425.3,87.49 426,87.47 426.7,87.45 427.4,87.44 428.1,87.42 428.8,87.4 429.5,87.39 430.2,87.37 430.9,87.35 431.6,87.33 432.3,87.32 433,87.3" fill="none" stroke="rgb(100,150,235)" stroke-width="0.7" />
<line x1="253.5" y1="93.3" x2="441" y2="93.3" stroke="#333" stroke-width="0.6" stroke-dasharray="1.6,1.2"/>
<circle cx="425.2" cy="21.1" r="2.7" fill="rgb(70,130,180)" fill-opacity="0.66"/>
<circle cx="425.3" cy="53.5" r="1.9" fill="rgb(70,130,180)" fill-opacity="0.66"/>
<circle cx="425.3" cy="62.1" r="1.8" fill="rgb(70,130,180)" fill-opacity="0.66"/>
<circle cx="433.2" cy="64.1" r="2.1" fill="rgb(70,130,180)" fill-opacity="0.66"/>
<circle cx="391.5" cy="58.4" r="2.2" fill="rgb(70,130,180)" fill-opacity="0.66"/>
<circle cx="391.5" cy="61.8" r="1.6" fill="rgb(70,130,180)" fill-opacity="0.66"/>
<circle cx="368.8" cy="67.6" r="1.7" fill="rgb(70,130,180)" fill-opacity="0.66"/>
<circle cx="391.5" cy="71.3" r="1.8" fill="rgb(70,130,180)" fill-opacity="0.66"/>
<circle cx="419.6" cy="76.1" r="1.8" fill="rgb(70,130,180)" fill-opacity="0.66"/>
<circle cx="425.3" cy="77.8" r="2.4" fill="rgb(70,130,180)" fill-opacity="0.66"/>
<circle cx="365.8" cy="79.8" r="1.7" fill="rgb(70,130,180)" fill-opacity="0.66"/>
<circle cx="365.5" cy="83.8" r="1.8" fill="rgb(70,130,180)" fill-opacity="0.66"/>
<circle cx="368.5" cy="84.4" r="1.6" fill="rgb(70,130,180)" fill-opacity="0.66"/>
<circle cx="368.8" cy="86.4" r="1.2" fill="rgb(70,130,180)" fill-opacity="0.66"/>
<circle cx="388.2" cy="84.4" r="1.6" fill="rgb(70,130,180)" fill-opacity="0.66"/>
<circle cx="391.5" cy="87" r="1.1" fill="rgb(70,130,180)" fill-opacity="0.66"/>
<circle cx="391.5" cy="88.8" r="1" fill="rgb(70,130,180)" fill-opacity="0.66"/>
<circle cx="410.8" cy="86.4" r="1.8" fill="rgb(70,130,180)" fill-opacity="0.66"/>
<circle cx="425.3" cy="84.8" r="1.2" fill="rgb(40,100,160)" fill-opacity="0.9"/>
<circle cx="365.5" cy="92.3" r="1.3" fill="rgb(70,130,180)" fill-opacity="0.66"/>
<circle cx="373" cy="93.9" r="0.9" fill="rgb(70,130,180)" fill-opacity="0.66"/>
<circle cx="395.3" cy="93.9" r="0.7" fill="rgb(70,130,180)" fill-opacity="0.66"/>
<circle cx="402.6" cy="93.9" r="1" fill="rgb(70,130,180)" fill-opacity="0.66"/>
<circle cx="420" cy="94.9" r="0.8" fill="rgb(70,130,180)" fill-opacity="0.66"/>
<circle cx="367.5" cy="99.9" r="1.2" fill="rgb(70,130,180)" fill-opacity="0.66"/>
<circle cx="388.1" cy="97.8" r="1.6" fill="rgb(70,130,180)" fill-opacity="0.66"/>
<circle cx="388.1" cy="101.2" r="1.7" fill="rgb(70,130,180)" fill-opacity="0.66"/>
<circle cx="419.8" cy="123" r="2.2" fill="rgb(70,130,180)" fill-opacity="0.66"/>
<circle cx="261.3" cy="95.7" r="2" fill="rgb(70,130,180)" fill-opacity="0.66"/>
<circle cx="278.6" cy="91.9" r="1.2" fill="rgb(70,130,180)" fill-opacity="0.66"/>
<circle cx="303.3" cy="89.4" r="0.6" fill="rgb(70,130,180)" fill-opacity="0.66"/>
<circle cx="301" cy="93.7" r="1.5" fill="rgb(70,130,180)" fill-opacity="0.66"/>
<circle cx="308.2" cy="98.1" r="1.5" fill="rgb(70,130,180)" fill-opacity="0.66"/>
<circle cx="308.2" cy="100.1" r="1.5" fill="rgb(70,130,180)" fill-opacity="0.66"/>
<circle cx="308.2" cy="102.7" r="1.5" fill="rgb(70,130,180)" fill-opacity="0.66"/>
<circle cx="308.2" cy="105.8" r="1.5" fill="rgb(70,130,180)" fill-opacity="0.66"/>
<circle cx="315.5" cy="89.4" r="0.6" fill="rgb(70,130,180)" fill-opacity="0.66"/>
<circle cx="315.5" cy="91.5" r="0.7" fill="rgb(70,130,180)" fill-opacity="0.66"/>
<circle cx="318.9" cy="93.3" r="1.5" fill="rgb(70,130,180)" fill-opacity="0.66"/>
<circle cx="323.7" cy="93" r="1.2" fill="rgb(70,130,180)" fill-opacity="0.66"/>
<circle cx="324.9" cy="86" r="1.2" fill="rgb(70,130,180)" fill-opacity="0.66"/>
<circle cx="328.1" cy="85.1" r="1.2" fill="rgb(70,130,180)" fill-opacity="0.66"/>
<circle cx="328.1" cy="78.5" r="1.5" fill="rgb(70,130,180)" fill-opacity="0.66"/>
<circle cx="346" cy="89.4" r="1.1" fill="rgb(70,130,180)" fill-opacity="0.66"/>
<rect x="253" y="16.3" width="188.5" height="112" fill="none" stroke="#c4c4c4" stroke-width="1" />
<line x1="442.1" y1="15.8" x2="442.1" y2="128.8" stroke="#9a9a9a" stroke-width="1" />
<line x1="253" y1="128.3" x2="441.5" y2="128.3" stroke="#9a9a9a" stroke-width="1" />
<line x1="273.5" y1="128.3" x2="273.5" y2="129.3" stroke="#333" stroke-width="0.6" />
<text x="273.5" y="132.8" font-size="3.6" text-anchor="middle" font-weight="normal" fill="#1e1e1e"  stroke="#1e1e1e" stroke-width="0.05">45</text>
<line x1="296.1" y1="128.3" x2="296.1" y2="129.3" stroke="#333" stroke-width="0.6" />
<text x="296.1" y="132.8" font-size="3.6" text-anchor="middle" font-weight="normal" fill="#1e1e1e"  stroke="#1e1e1e" stroke-width="0.05">50</text>
<line x1="318.7" y1="128.3" x2="318.7" y2="129.3" stroke="#333" stroke-width="0.6" />
<text x="318.7" y="132.8" font-size="3.6" text-anchor="middle" font-weight="normal" fill="#1e1e1e"  stroke="#1e1e1e" stroke-width="0.05">55</text>
<line x1="341.3" y1="128.3" x2="341.3" y2="129.3" stroke="#333" stroke-width="0.6" />
<text x="341.3" y="132.8" font-size="3.6" text-anchor="middle" font-weight="normal" fill="#1e1e1e"  stroke="#1e1e1e" stroke-width="0.05">60</text>
<line x1="363.9" y1="128.3" x2="363.9" y2="129.3" stroke="#333" stroke-width="0.6" />
<text x="363.9" y="132.8" font-size="3.6" text-anchor="middle" font-weight="normal" fill="#1e1e1e"  stroke="#1e1e1e" stroke-width="0.05">65</text>
<line x1="386.5" y1="128.3" x2="386.5" y2="129.3" stroke="#333" stroke-width="0.6" />
<text x="386.5" y="132.8" font-size="3.6" text-anchor="middle" font-weight="normal" fill="#1e1e1e"  stroke="#1e1e1e" stroke-width="0.05">70</text>
<line x1="409.1" y1="128.3" x2="409.1" y2="129.3" stroke="#333" stroke-width="0.6" />
<text x="409.1" y="132.8" font-size="3.6" text-anchor="middle" font-weight="normal" fill="#1e1e1e"  stroke="#1e1e1e" stroke-width="0.05">75</text>
<line x1="431.7" y1="128.3" x2="431.7" y2="129.3" stroke="#333" stroke-width="0.6" />
<text x="431.7" y="132.8" font-size="3.6" text-anchor="middle" font-weight="normal" fill="#1e1e1e"  stroke="#1e1e1e" stroke-width="0.05">80</text>
<line x1="252" y1="93.3" x2="253" y2="93.3" stroke="#333" stroke-width="0.6" />
<text x="251" y="94.6" font-size="3.6" text-anchor="end" font-weight="normal" fill="#1e1e1e"  stroke="#1e1e1e" stroke-width="0.05">0.0</text>
<line x1="252" y1="57.3" x2="253" y2="57.3" stroke="#333" stroke-width="0.6" />
<text x="251" y="58.6" font-size="3.6" text-anchor="end" font-weight="normal" fill="#1e1e1e"  stroke="#1e1e1e" stroke-width="0.05">0.5</text>
<line x1="252" y1="21.3" x2="253" y2="21.3" stroke="#333" stroke-width="0.6" />
<text x="251" y="22.6" font-size="3.6" text-anchor="end" font-weight="normal" fill="#1e1e1e"  stroke="#1e1e1e" stroke-width="0.05">1.0</text>
<text x="0" y="0" font-size="4.4" text-anchor="middle" fill="#000" stroke="#000" stroke-width="0.12" transform="translate(244.6,72.2) rotate(-90)">Log Relative Risk</text>
<text x="347.5" y="138.25" font-size="4.35" text-anchor="middle" font-weight="normal" fill="#000" stroke="#000" stroke-width="0.12">Noise Exposure</text>
<text x="342.7" y="9.8" font-size="9" text-anchor="start" font-weight="bold" fill="#000" stroke="#000" stroke-width="0.25">ii</text>
<rect x="253" y="188.4" width="189.3" height="111.9" fill="#fff" stroke="none" stroke-width="1" />
<line x1="257.15" y1="188.4" x2="257.15" y2="300.3" stroke="#f6f6f6" stroke-width="0.5" />
<line x1="278.65" y1="188.4" x2="278.65" y2="300.3" stroke="#f6f6f6" stroke-width="0.5" />
<line x1="300.15" y1="188.4" x2="300.15" y2="300.3" stroke="#f6f6f6" stroke-width="0.5" />
<line x1="321.65" y1="188.4" x2="321.65" y2="300.3" stroke="#f6f6f6" stroke-width="0.5" />
<line x1="343.15" y1="188.4" x2="343.15" y2="300.3" stroke="#f6f6f6" stroke-width="0.5" />
<line x1="364.65" y1="188.4" x2="364.65" y2="300.3" stroke="#f6f6f6" stroke-width="0.5" />
<line x1="386.15" y1="188.4" x2="386.15" y2="300.3" stroke="#f6f6f6" stroke-width="0.5" />
<line x1="407.65" y1="188.4" x2="407.65" y2="300.3" stroke="#f6f6f6" stroke-width="0.5" />
<line x1="429.15" y1="188.4" x2="429.15" y2="300.3" stroke="#f6f6f6" stroke-width="0.5" />
<line x1="253" y1="278.45" x2="442.3" y2="278.45" stroke="#f6f6f6" stroke-width="0.5" />
<line x1="253" y1="248.75" x2="442.3" y2="248.75" stroke="#f6f6f6" stroke-width="0.5" />
<line x1="253" y1="219.05" x2="442.3" y2="219.05" stroke="#f6f6f6" stroke-width="0.5" />
<line x1="253" y1="189.35" x2="442.3" y2="189.35" stroke="#f6f6f6" stroke-width="0.5" />
<line x1="267.9" y1="188.4" x2="267.9" y2="300.3" stroke="#ededed" stroke-width="0.6" />
<line x1="289.4" y1="188.4" x2="289.4" y2="300.3" stroke="#ededed" stroke-width="0.6" />
<line x1="310.9" y1="188.4" x2="310.9" y2="300.3" stroke="#ededed" stroke-width="0.6" />
<line x1="332.4" y1="188.4" x2="332.4" y2="300.3" stroke="#ededed" stroke-width="0.6" />
<line x1="353.9" y1="188.4" x2="353.9" y2="300.3" stroke="#ededed" stroke-width="0.6" />
<line x1="375.4" y1="188.4" x2="375.4" y2="300.3" stroke="#ededed" stroke-width="0.6" />
<line x1="396.9" y1="188.4" x2="396.9" y2="300.3" stroke="#ededed" stroke-width="0.6" />
<line x1="418.4" y1="188.4" x2="418.4" y2="300.3" stroke="#ededed" stroke-width="0.6" />
<line x1="439.9" y1="188.4" x2="439.9" y2="300.3" stroke="#ededed" stroke-width="0.6" />
<line x1="253" y1="293.3" x2="442.3" y2="293.3" stroke="#ededed" stroke-width="0.6" />
<line x1="253" y1="263.6" x2="442.3" y2="263.6" stroke="#ededed" stroke-width="0.6" />
<line x1="253" y1="233.9" x2="442.3" y2="233.9" stroke="#ededed" stroke-width="0.6" />
<line x1="253" y1="204.2" x2="442.3" y2="204.2" stroke="#ededed" stroke-width="0.6" />
<polygon points="262,284.4 262.48,284.37 262.95,284.34 263.43,284.31 263.9,284.28 264.38,284.25 264.85,284.23 265.32,284.2 265.8,284.17 266.27,284.14 266.75,284.11 267.23,284.09 267.7,284.06 268.18,284.03 268.65,284 269.12,283.98 269.6,283.95 270.07,283.92 270.55,283.89 271.02,283.87 271.5,283.84 271.98,283.81 272.45,283.78 272.93,283.75 273.4,283.72 273.88,283.69 274.35,283.66 274.82,283.63 275.3,283.6 275.77,283.57 276.25,283.54 276.73,283.51 277.2,283.48 277.68,283.45 278.15,283.41 278.62,283.38 279.1,283.34 279.57,283.31 280.05,283.27 280.52,283.24 281,283.2 281.48,283.16 281.95,283.12 282.43,283.08 282.9,283.04 283.38,283 283.85,282.96 284.32,282.92 284.8,282.88 285.27,282.83 285.75,282.79 286.23,282.74 286.7,282.7 287.18,282.65 287.65,282.61 288.12,282.56 288.6,282.52 289.07,282.47 289.55,282.42 290.02,282.38 290.5,282.33 290.98,282.28 291.45,282.23 291.93,282.19 292.4,282.14 292.88,282.09 293.35,282.04 293.82,282 294.3,281.95 294.77,281.9 295.25,281.85 295.73,281.81 296.2,281.76 296.68,281.71 297.15,281.67 297.62,281.62 298.1,281.58 298.57,281.53 299.05,281.49 299.52,281.44 300,281.4 300.38,281.37 300.75,281.33 301.12,281.3 301.5,281.27 301.88,281.24 302.25,281.21 302.62,281.18 303,281.15 303.38,281.12 303.75,281.09 304.12,281.06 304.5,281.03 304.88,281.01 305.25,280.98 305.62,280.95 306,280.92 306.38,280.9 306.75,280.87 307.12,280.84 307.5,280.81 307.88,280.78 308.25,280.75 308.62,280.72 309,280.69 309.38,280.66 309.75,280.63 310.12,280.6 310.5,280.57 310.88,280.53 311.25,280.5 311.62,280.46 312,280.43 312.38,280.39 312.75,280.35 313.12,280.31 313.5,280.27 313.88,280.23 314.25,280.19 314.62,280.15 315,280.1 315.38,280.05 315.75,280.01 316.12,279.96 316.5,279.91 316.88,279.86 317.25,279.81 317.62,279.76 318,279.71 318.38,279.66 318.75,279.61 319.12,279.56 319.5,279.5 319.88,279.45 320.25,279.4 320.62,279.34 321,279.29 321.38,279.23 321.75,279.17 322.12,279.11 322.5,279.06 322.88,279 323.25,278.94 323.62,278.88 324,278.81 324.38,278.75 324.75,278.69 325.12,278.62 325.5,278.56 325.88,278.49 326.25,278.42 326.62,278.36 327,278.29 327.38,278.22 327.75,278.15 328.12,278.07 328.5,278 328.88,277.93 329.25,277.85 329.62,277.78 330,277.7 330.38,277.62 330.75,277.54 331.12,277.47 331.5,277.39 331.88,277.31 332.25,277.23 332.62,277.15 333,277.06 333.38,276.98 333.75,276.9 334.12,276.81 334.5,276.73 334.88,276.64 335.25,276.56 335.62,276.47 336,276.38 336.38,276.29 336.75,276.2 337.12,276.11 337.5,276.02 337.88,275.93 338.25,275.83 338.62,275.74 339,275.64 339.38,275.54 339.75,275.44 340.12,275.34 340.5,275.24 340.88,275.14 341.25,275.03 341.62,274.93 342,274.82 342.38,274.71 342.75,274.6 343.12,274.49 343.5,274.37 343.88,274.26 344.25,274.14 344.62,274.02 345,273.9 345.26,273.82 345.51,273.73 345.77,273.64 346.03,273.55 346.29,273.45 346.55,273.35 346.8,273.26 347.06,273.15 347.32,273.05 347.57,272.95 347.83,272.84 348.09,272.73 348.35,272.62 348.61,272.51 348.86,272.4 349.12,272.29 349.38,272.18 349.63,272.06 349.89,271.95 350.15,271.83 350.41,271.71 350.67,271.59 350.92,271.48 351.18,271.36 351.44,271.24 351.69,271.12 351.95,271 352.21,270.88 352.47,270.76 352.73,270.65 352.98,270.53 353.24,270.41 353.5,270.29 353.75,270.18 354.01,270.06 354.27,269.95 354.53,269.83 354.79,269.72 355.04,269.61 355.3,269.5 355.69,269.34 356.07,269.18 356.45,269.02 356.84,268.86 357.23,268.7 357.61,268.54 358,268.39 358.38,268.23 358.76,268.08 359.15,267.93 359.54,267.77 359.92,267.62 360.31,267.47 360.69,267.31 361.07,267.16 361.46,267.01 361.85,266.86 362.23,266.7 362.62,266.55 363,266.39 363.38,266.24 363.77,266.08 364.15,265.92 364.54,265.77 364.93,265.61 365.31,265.45 365.69,265.28 366.08,265.12 366.46,264.96 366.85,264.79 367.24,264.62 367.62,264.45 368,264.28 368.39,264.1 368.77,263.92 369.16,263.74 369.55,263.56 369.93,263.38 370.31,263.19 370.7,263 371.08,262.81 371.46,262.62 371.85,262.43 372.23,262.24 372.61,262.05 373,261.86 373.38,261.67 373.76,261.48 374.14,261.29 374.52,261.09 374.91,260.9 375.29,260.7 375.67,260.51 376.06,260.31 376.44,260.11 376.82,259.91 377.2,259.71 377.58,259.5 377.97,259.3 378.35,259.09 378.73,258.87 379.12,258.66 379.5,258.44 379.88,258.22 380.26,258 380.64,257.78 381.03,257.55 381.41,257.31 381.79,257.08 382.18,256.84 382.56,256.59 382.94,256.35 383.32,256.09 383.7,255.84 384.09,255.58 384.47,255.31 384.85,255.04 385.24,254.77 385.62,254.49 386,254.2 386.31,253.97 386.61,253.73 386.92,253.49 387.22,253.24 387.52,252.99 387.83,252.73 388.13,252.46 388.44,252.2 388.75,251.93 389.05,251.65 389.36,251.37 389.66,251.09 389.96,250.8 390.27,250.51 390.57,250.22 390.88,249.92 391.19,249.62 391.49,249.32 391.8,249.01 392.1,248.71 392.4,248.4 392.71,248.09 393.01,247.77 393.32,247.46 393.62,247.14 393.93,246.82 394.24,246.5 394.54,246.18 394.84,245.86 395.15,245.53 395.45,245.21 395.76,244.89 396.06,244.56 396.37,244.24 396.68,243.91 396.98,243.59 397.28,243.27 397.59,242.94 397.89,242.62 398.2,242.3 398.47,242.02 398.74,241.73 399.01,241.44 399.28,241.15 399.55,240.86 399.82,240.57 400.09,240.28 400.36,239.99 400.63,239.69 400.9,239.4 401.17,239.1 401.44,238.8 401.71,238.5 401.98,238.2 402.25,237.9 402.52,237.59 402.79,237.29 403.06,236.98 403.33,236.68 403.6,236.37 403.87,236.06 404.14,235.75 404.41,235.44 404.68,235.13 404.95,234.82 405.22,234.5 405.49,234.19 405.76,233.87 406.03,233.55 406.3,233.23 406.57,232.92 406.84,232.6 407.11,232.27 407.38,231.95 407.65,231.63 407.92,231.31 408.19,230.98 408.46,230.65 408.73,230.33 409,230 409.19,229.76 409.39,229.52 409.58,229.28 409.78,229.04 409.98,228.8 410.17,228.56 410.37,228.31 410.56,228.07 410.75,227.82 410.95,227.57 411.14,227.32 411.34,227.08 411.54,226.82 411.73,226.57 411.93,226.32 412.12,226.07 412.31,225.81 412.51,225.56 412.7,225.3 412.9,225.04 413.1,224.78 413.29,224.52 413.49,224.26 413.68,224 413.88,223.74 414.07,223.47 414.26,223.21 414.46,222.95 414.66,222.68 414.85,222.41 415.05,222.14 415.24,221.88 415.44,221.61 415.63,221.34 415.82,221.07 416.02,220.79 416.22,220.52 416.41,220.25 416.61,219.97 416.8,219.7 416.98,219.44 417.17,219.18 417.35,218.92 417.53,218.66 417.71,218.4 417.9,218.13 418.08,217.86 418.26,217.6 418.44,217.33 418.62,217.06 418.81,216.79 418.99,216.52 419.17,216.24 419.36,215.97 419.54,215.7 419.72,215.42 419.9,215.14 420.09,214.87 420.27,214.59 420.45,214.31 420.63,214.04 420.81,213.76 421,213.48 421.18,213.2 421.36,212.92 421.55,212.64 421.73,212.36 421.91,212.07 422.09,211.79 422.28,211.51 422.46,211.23 422.64,210.95 422.82,210.67 423,210.39 423.19,210.1 423.37,209.82 423.55,209.54 423.74,209.26 423.92,208.98 424.1,208.7 424.35,208.32 424.6,207.94 424.84,207.56 425.09,207.18 425.34,206.79 425.59,206.41 425.83,206.03 426.08,205.65 426.33,205.26 426.58,204.88 426.82,204.49 427.07,204.11 427.32,203.73 427.56,203.34 427.81,202.95 428.06,202.57 428.31,202.18 428.56,201.8 428.8,201.41 429.05,201.03 429.3,200.64 429.55,200.25 429.79,199.87 430.04,199.48 430.29,199.09 430.54,198.71 430.78,198.32 431.03,197.93 431.28,197.55 431.52,197.16 431.77,196.77 432.02,196.39 432.27,196 432.51,195.61 432.76,195.23 433.01,194.84 433.26,194.46 433.5,194.07 433.75,193.69 434,193.3 434,295.1 433.75,294.93 433.5,294.77 433.26,294.6 433.01,294.43 432.76,294.26 432.51,294.09 432.27,293.92 432.02,293.75 431.77,293.57 431.52,293.4 431.28,293.23 431.03,293.05 430.78,292.88 430.54,292.7 430.29,292.53 430.04,292.36 429.79,292.18 429.55,292.01 429.3,291.84 429.05,291.67 428.8,291.49 428.56,291.32 428.31,291.15 428.06,290.99 427.81,290.82 427.56,290.65 427.32,290.49 427.07,290.32 426.82,290.16 426.58,290 426.33,289.84 426.08,289.68 425.83,289.53 425.59,289.37 425.34,289.22 425.09,289.07 424.84,288.93 424.6,288.78 424.35,288.64 424.1,288.5 423.92,288.4 423.74,288.3 423.55,288.2 423.37,288.11 423.19,288.01 423,287.92 422.82,287.83 422.64,287.74 422.46,287.66 422.28,287.57 422.09,287.49 421.91,287.41 421.73,287.32 421.55,287.24 421.36,287.17 421.18,287.09 421,287.01 420.81,286.94 420.63,286.87 420.45,286.79 420.27,286.72 420.09,286.65 419.9,286.58 419.72,286.51 419.54,286.45 419.36,286.38 419.17,286.31 418.99,286.25 418.81,286.18 418.62,286.12 418.44,286.05 418.26,285.99 418.08,285.93 417.9,285.87 417.71,285.8 417.53,285.74 417.35,285.68 417.17,285.62 416.98,285.56 416.8,285.5 416.61,285.44 416.41,285.37 416.22,285.31 416.02,285.25 415.82,285.18 415.63,285.12 415.44,285.06 415.24,285 415.05,284.94 414.85,284.89 414.66,284.83 414.46,284.77 414.26,284.71 414.07,284.66 413.88,284.6 413.68,284.55 413.49,284.5 413.29,284.44 413.1,284.39 412.9,284.34 412.7,284.29 412.51,284.24 412.31,284.19 412.12,284.14 411.93,284.1 411.73,284.05 411.54,284 411.34,283.96 411.14,283.92 410.95,283.87 410.75,283.83 410.56,283.79 410.37,283.75 410.17,283.71 409.98,283.68 409.78,283.64 409.58,283.6 409.39,283.57 409.19,283.53 409,283.5 408.73,283.46 408.46,283.41 408.19,283.37 407.92,283.33 407.65,283.29 407.38,283.25 407.11,283.21 406.84,283.17 406.57,283.14 406.3,283.1 406.03,283.06 405.76,283.03 405.49,283 405.22,282.97 404.95,282.93 404.68,282.9 404.41,282.87 404.14,282.84 403.87,282.82 403.6,282.79 403.33,282.76 403.06,282.74 402.79,282.71 402.52,282.69 402.25,282.67 401.98,282.64 401.71,282.62 401.44,282.6 401.17,282.58 400.9,282.56 400.63,282.54 400.36,282.52 400.09,282.51 399.82,282.49 399.55,282.47 399.28,282.46 399.01,282.44 398.74,282.43 398.47,282.41 398.2,282.4 397.89,282.39 397.59,282.37 397.28,282.36 396.98,282.34 396.68,282.33 396.37,282.32 396.06,282.3 395.76,282.29 395.45,282.28 395.15,282.27 394.84,282.26 394.54,282.25 394.24,282.24 393.93,282.23 393.62,282.22 393.32,282.22 393.01,282.21 392.71,282.21 392.4,282.2 392.1,282.2 391.8,282.2 391.49,282.2 391.19,282.2 390.88,282.2 390.57,282.2 390.27,282.2 389.96,282.21 389.66,282.21 389.36,282.22 389.05,282.23 388.75,282.24 388.44,282.25 388.13,282.26 387.83,282.28 387.52,282.29 387.22,282.31 386.92,282.33 386.61,282.35 386.31,282.38 386,282.4 385.62,282.43 385.24,282.47 384.85,282.5 384.47,282.54 384.09,282.58 383.7,282.62 383.32,282.66 382.94,282.7 382.56,282.74 382.18,282.79 381.79,282.83 381.41,282.88 381.03,282.93 380.64,282.98 380.26,283.03 379.88,283.08 379.5,283.13 379.12,283.19 378.73,283.24 378.35,283.3 377.97,283.36 377.58,283.42 377.2,283.48 376.82,283.54 376.44,283.6 376.06,283.67 375.67,283.73 375.29,283.8 374.91,283.87 374.52,283.94 374.14,284.01 373.76,284.08 373.38,284.15 373,284.23 372.61,284.3 372.23,284.38 371.85,284.46 371.46,284.54 371.08,284.62 370.7,284.7 370.31,284.78 369.93,284.87 369.55,284.96 369.16,285.05 368.77,285.15 368.39,285.24 368,285.34 367.62,285.44 367.24,285.55 366.85,285.65 366.46,285.76 366.08,285.87 365.69,285.98 365.31,286.09 364.93,286.2 364.54,286.31 364.15,286.42 363.77,286.54 363.38,286.65 363,286.77 362.62,286.89 362.23,287 361.85,287.12 361.46,287.23 361.07,287.35 360.69,287.47 360.31,287.58 359.92,287.7 359.54,287.81 359.15,287.93 358.76,288.04 358.38,288.15 358,288.26 357.61,288.37 357.23,288.48 356.84,288.59 356.45,288.69 356.07,288.8 355.69,288.9 355.3,289 355.04,289.07 354.79,289.13 354.53,289.2 354.27,289.26 354.01,289.33 353.75,289.39 353.5,289.46 353.24,289.52 352.98,289.59 352.73,289.65 352.47,289.71 352.21,289.78 351.95,289.84 351.69,289.9 351.44,289.96 351.18,290.03 350.92,290.09 350.67,290.15 350.41,290.21 350.15,290.27 349.89,290.33 349.63,290.38 349.38,290.44 349.12,290.5 348.86,290.55 348.61,290.61 348.35,290.66 348.09,290.72 347.83,290.77 347.57,290.82 347.32,290.88 347.06,290.93 346.8,290.98 346.55,291.03 346.29,291.07 346.03,291.12 345.77,291.17 345.51,291.21 345.26,291.26 345,291.3 344.62,291.36 344.25,291.42 343.88,291.48 343.5,291.54 343.12,291.6 342.75,291.65 342.38,291.71 342,291.76 341.62,291.82 341.25,291.87 340.88,291.92 340.5,291.97 340.12,292.02 339.75,292.07 339.38,292.12 339,292.17 338.62,292.22 338.25,292.26 337.88,292.31 337.5,292.36 337.12,292.4 336.75,292.44 336.38,292.49 336,292.53 335.62,292.58 335.25,292.62 334.88,292.66 334.5,292.7 334.12,292.75 333.75,292.79 333.38,292.83 333,292.87 332.62,292.91 332.25,292.95 331.88,292.99 331.5,293.04 331.12,293.08 330.75,293.12 330.38,293.16 330,293.2 329.62,293.24 329.25,293.28 328.88,293.32 328.5,293.37 328.12,293.41 327.75,293.45 327.38,293.49 327,293.53 326.62,293.58 326.25,293.62 325.88,293.66 325.5,293.7 325.12,293.74 324.75,293.78 324.38,293.82 324,293.86 323.62,293.9 323.25,293.94 322.88,293.98 322.5,294.02 322.12,294.06 321.75,294.09 321.38,294.13 321,294.16 320.62,294.2 320.25,294.23 319.88,294.27 319.5,294.3 319.12,294.33 318.75,294.36 318.38,294.39 318,294.42 317.62,294.44 317.25,294.47 316.88,294.5 316.5,294.52 316.12,294.54 315.75,294.56 315.38,294.58 315,294.6 314.62,294.62 314.25,294.63 313.88,294.65 313.5,294.66 313.12,294.68 312.75,294.69 312.38,294.71 312,294.72 311.62,294.73 311.25,294.74 310.88,294.75 310.5,294.76 310.12,294.77 309.75,294.77 309.38,294.78 309,294.79 308.62,294.79 308.25,294.79 307.88,294.8 307.5,294.8 307.12,294.8 306.75,294.8 306.38,294.8 306,294.79 305.62,294.79 305.25,294.79 304.88,294.78 304.5,294.77 304.12,294.77 303.75,294.76 303.38,294.75 303,294.74 302.62,294.72 302.25,294.71 301.88,294.69 301.5,294.68 301.12,294.66 300.75,294.64 300.38,294.62 300,294.6 299.52,294.57 299.05,294.54 298.57,294.51 298.1,294.47 297.62,294.44 297.15,294.4 296.68,294.36 296.2,294.32 295.73,294.28 295.25,294.23 294.77,294.19 294.3,294.14 293.82,294.09 293.35,294.05 292.88,294 292.4,293.95 291.93,293.89 291.45,293.84 290.98,293.79 290.5,293.74 290.02,293.68 289.55,293.63 289.07,293.57 288.6,293.51 288.12,293.46 287.65,293.4 287.18,293.34 286.7,293.28 286.23,293.23 285.75,293.17 285.27,293.11 284.8,293.05 284.32,293 283.85,292.94 283.38,292.88 282.9,292.82 282.43,292.77 281.95,292.71 281.48,292.66 281,292.6 280.52,292.54 280.05,292.49 279.57,292.43 279.1,292.38 278.62,292.32 278.15,292.26 277.68,292.2 277.2,292.15 276.73,292.09 276.25,292.03 275.77,291.97 275.3,291.91 274.82,291.85 274.35,291.79 273.88,291.73 273.4,291.67 272.93,291.61 272.45,291.55 271.98,291.49 271.5,291.43 271.02,291.36 270.55,291.3 270.07,291.24 269.6,291.18 269.12,291.12 268.65,291.06 268.18,290.99 267.7,290.93 267.23,290.87 266.75,290.81 266.27,290.75 265.8,290.69 265.32,290.63 264.85,290.56 264.38,290.5 263.9,290.44 263.43,290.38 262.95,290.32 262.48,290.26 262,290.2" fill="rgb(212,229,251)" stroke="none" stroke-width="1" fill-opacity="0.8"/>
<polyline points="262,284.4 262.48,284.37 262.95,284.34 263.43,284.31 263.9,284.28 264.38,284.25 264.85,284.23 265.32,284.2 265.8,284.17 266.27,284.14 266.75,284.11 267.23,284.09 267.7,284.06 268.18,284.03 268.65,284 269.12,283.98 269.6,283.95 270.07,283.92 270.55,283.89 271.02,283.87 271.5,283.84 271.98,283.81 272.45,283.78 272.93,283.75 273.4,283.72 273.88,283.69 274.35,283.66 274.82,283.63 275.3,283.6 275.77,283.57 276.25,283.54 276.73,283.51 277.2,283.48 277.68,283.45 278.15,283.41 278.62,283.38 279.1,283.34 279.57,283.31 280.05,283.27 280.52,283.24 281,283.2 281.48,283.16 281.95,283.12 282.43,283.08 282.9,283.04 283.38,283 283.85,282.96 284.32,282.92 284.8,282.88 285.27,282.83 285.75,282.79 286.23,282.74 286.7,282.7 287.18,282.65 287.65,282.61 288.12,282.56 288.6,282.52 289.07,282.47 289.55,282.42 290.02,282.38 290.5,282.33 290.98,282.28 291.45,282.23 291.93,282.19 292.4,282.14 292.88,282.09 293.35,282.04 293.82,282 294.3,281.95 294.77,281.9 295.25,281.85 295.73,281.81 296.2,281.76 296.68,281.71 297.15,281.67 297.62,281.62 298.1,281.58 298.57,281.53 299.05,281.49 299.52,281.44 300,281.4 300.38,281.37 300.75,281.33 301.12,281.3 301.5,281.27 301.88,281.24 302.25,281.21 302.62,281.18 303,281.15 303.38,281.12 303.75,281.09 304.12,281.06 304.5,281.03 304.88,281.01 305.25,280.98 305.62,280.95 306,280.92 306.38,280.9 306.75,280.87 307.12,280.84 307.5,280.81 307.88,280.78 308.25,280.75 308.62,280.72 309,280.69 309.38,280.66 309.75,280.63 310.12,280.6 310.5,280.57 310.88,280.53 311.25,280.5 311.62,280.46 312,280.43 312.38,280.39 312.75,280.35 313.12,280.31 313.5,280.27 313.88,280.23 314.25,280.19 314.62,280.15 315,280.1 315.38,280.05 315.75,280.01 316.12,279.96 316.5,279.91 316.88,279.86 317.25,279.81 317.62,279.76 318,279.71 318.38,279.66 318.75,279.61 319.12,279.56 319.5,279.5 319.88,279.45 320.25,279.4 320.62,279.34 321,279.29 321.38,279.23 321.75,279.17 322.12,279.11 322.5,279.06 322.88,279 323.25,278.94 323.62,278.88 324,278.81 324.38,278.75 324.75,278.69 325.12,278.62 325.5,278.56 325.88,278.49 326.25,278.42 326.62,278.36 327,278.29 327.38,278.22 327.75,278.15 328.12,278.07 328.5,278 328.88,277.93 329.25,277.85 329.62,277.78 330,277.7 330.38,277.62 330.75,277.54 331.12,277.47 331.5,277.39 331.88,277.31 332.25,277.23 332.62,277.15 333,277.06 333.38,276.98 333.75,276.9 334.12,276.81 334.5,276.73 334.88,276.64 335.25,276.56 335.62,276.47 336,276.38 336.38,276.29 336.75,276.2 337.12,276.11 337.5,276.02 337.88,275.93 338.25,275.83 338.62,275.74 339,275.64 339.38,275.54 339.75,275.44 340.12,275.34 340.5,275.24 340.88,275.14 341.25,275.03 341.62,274.93 342,274.82 342.38,274.71 342.75,274.6 343.12,274.49 343.5,274.37 343.88,274.26 344.25,274.14 344.62,274.02 345,273.9 345.26,273.82 345.51,273.73 345.77,273.64 346.03,273.55 346.29,273.45 346.55,273.35 346.8,273.26 347.06,273.15 347.32,273.05 347.57,272.95 347.83,272.84 348.09,272.73 348.35,272.62 348.61,272.51 348.86,272.4 349.12,272.29 349.38,272.18 349.63,272.06 349.89,271.95 350.15,271.83 350.41,271.71 350.67,271.59 350.92,271.48 351.18,271.36 351.44,271.24 351.69,271.12 351.95,271 352.21,270.88 352.47,270.76 352.73,270.65 352.98,270.53 353.24,270.41 353.5,270.29 353.75,270.18 354.01,270.06 354.27,269.95 354.53,269.83 354.79,269.72 355.04,269.61 355.3,269.5 355.69,269.34 356.07,269.18 356.45,269.02 356.84,268.86 357.23,268.7 357.61,268.54 358,268.39 358.38,268.23 358.76,268.08 359.15,267.93 359.54,267.77 359.92,267.62 360.31,267.47 360.69,267.31 361.07,267.16 361.46,267.01 361.85,266.86 362.23,266.7 362.62,266.55 363,266.39 363.38,266.24 363.77,266.08 364.15,265.92 364.54,265.77 364.93,265.61 365.31,265.45 365.69,265.28 366.08,265.12 366.46,264.96 366.85,264.79 367.24,264.62 367.62,264.45 368,264.28 368.39,264.1 368.77,263.92 369.16,263.74 369.55,263.56 369.93,263.38 370.31,263.19 370.7,263 371.08,262.81 371.46,262.62 371.85,262.43 372.23,262.24 372.61,262.05 373,261.86 373.38,261.67 373.76,261.48 374.14,261.29 374.52,261.09 374.91,260.9 375.29,260.7 375.67,260.51 376.06,260.31 376.44,260.11 376.82,259.91 377.2,259.71 377.58,259.5 377.97,259.3 378.35,259.09 378.73,258.87 379.12,258.66 379.5,258.44 379.88,258.22 380.26,258 380.64,257.78 381.03,257.55 381.41,257.31 381.79,257.08 382.18,256.84 382.56,256.59 382.94,256.35 383.32,256.09 383.7,255.84 384.09,255.58 384.47,255.31 384.85,255.04 385.24,254.77 385.62,254.49 386,254.2 386.31,253.97 386.61,253.73 386.92,253.49 387.22,253.24 387.52,252.99 387.83,252.73 388.13,252.46 388.44,252.2 388.75,251.93 389.05,251.65 389.36,251.37 389.66,251.09 389.96,250.8 390.27,250.51 390.57,250.22 390.88,249.92 391.19,249.62 391.49,249.32 391.8,249.01 392.1,248.71 392.4,248.4 392.71,248.09 393.01,247.77 393.32,247.46 393.62,247.14 393.93,246.82 394.24,246.5 394.54,246.18 394.84,245.86 395.15,245.53 395.45,245.21 395.76,244.89 396.06,244.56 396.37,244.24 396.68,243.91 396.98,243.59 397.28,243.27 397.59,242.94 397.89,242.62 398.2,242.3 398.47,242.02 398.74,241.73 399.01,241.44 399.28,241.15 399.55,240.86 399.82,240.57 400.09,240.28 400.36,239.99 400.63,239.69 400.9,239.4 401.17,239.1 401.44,238.8 401.71,238.5 401.98,238.2 402.25,237.9 402.52,237.59 402.79,237.29 403.06,236.98 403.33,236.68 403.6,236.37 403.87,236.06 404.14,235.75 404.41,235.44 404.68,235.13 404.95,234.82 405.22,234.5 405.49,234.19 405.76,233.87 406.03,233.55 406.3,233.23 406.57,232.92 406.84,232.6 407.11,232.27 407.38,231.95 407.65,231.63 407.92,231.31 408.19,230.98 408.46,230.65 408.73,230.33 409,230 409.19,229.76 409.39,229.52 409.58,229.28 409.78,229.04 409.98,228.8 410.17,228.56 410.37,228.31 410.56,228.07 410.75,227.82 410.95,227.57 411.14,227.32 411.34,227.08 411.54,226.82 411.73,226.57 411.93,226.32 412.12,226.07 412.31,225.81 412.51,225.56 412.7,225.3 412.9,225.04 413.1,224.78 413.29,224.52 413.49,224.26 413.68,224 413.88,223.74 414.07,223.47 414.26,223.21 414.46,222.95 414.66,222.68 414.85,222.41 415.05,222.14 415.24,221.88 415.44,221.61 415.63,221.34 415.82,221.07 416.02,220.79 416.22,220.52 416.41,220.25 416.61,219.97 416.8,219.7 416.98,219.44 417.17,219.18 417.35,218.92 417.53,218.66 417.71,218.4 417.9,218.13 418.08,217.86 418.26,217.6 418.44,217.33 418.62,217.06 418.81,216.79 418.99,216.52 419.17,216.24 419.36,215.97 419.54,215.7 419.72,215.42 419.9,215.14 420.09,214.87 420.27,214.59 420.45,214.31 420.63,214.04 420.81,213.76 421,213.48 421.18,213.2 421.36,212.92 421.55,212.64 421.73,212.36 421.91,212.07 422.09,211.79 422.28,211.51 422.46,211.23 422.64,210.95 422.82,210.67 423,210.39 423.19,210.1 423.37,209.82 423.55,209.54 423.74,209.26 423.92,208.98 424.1,208.7 424.35,208.32 424.6,207.94 424.84,207.56 425.09,207.18 425.34,206.79 425.59,206.41 425.83,206.03 426.08,205.65 426.33,205.26 426.58,204.88 426.82,204.49 427.07,204.11 427.32,203.73 427.56,203.34 427.81,202.95 428.06,202.57 428.31,202.18 428.56,201.8 428.8,201.41 429.05,201.03 429.3,200.64 429.55,200.25 429.79,199.87 430.04,199.48 430.29,199.09 430.54,198.71 430.78,198.32 431.03,197.93 431.28,197.55 431.52,197.16 431.77,196.77 432.02,196.39 432.27,196 432.51,195.61 432.76,195.23 433.01,194.84 433.26,194.46 433.5,194.07 433.75,193.69 434,193.3" fill="none" stroke="rgb(135,175,242)" stroke-width="0.55" />
<polyline points="262,290.2 262.48,290.26 262.95,290.32 263.43,290.38 263.9,290.44 264.38,290.5 264.85,290.56 265.32,290.63 265.8,290.69 266.27,290.75 266.75,290.81 267.23,290.87 267.7,290.93 268.18,290.99 268.65,291.06 269.12,291.12 269.6,291.18 270.07,291.24 270.55,291.3 271.02,291.36 271.5,291.43 271.98,291.49 272.45,291.55 272.93,291.61 273.4,291.67 273.88,291.73 274.35,291.79 274.82,291.85 275.3,291.91 275.77,291.97 276.25,292.03 276.73,292.09 277.2,292.15 277.68,292.2 278.15,292.26 278.62,292.32 279.1,292.38 279.57,292.43 280.05,292.49 280.52,292.54 281,292.6 281.48,292.66 281.95,292.71 282.43,292.77 282.9,292.82 283.38,292.88 283.85,292.94 284.32,293 284.8,293.05 285.27,293.11 285.75,293.17 286.23,293.23 286.7,293.28 287.18,293.34 287.65,293.4 288.12,293.46 288.6,293.51 289.07,293.57 289.55,293.63 290.02,293.68 290.5,293.74 290.98,293.79 291.45,293.84 291.93,293.89 292.4,293.95 292.88,294 293.35,294.05 293.82,294.09 294.3,294.14 294.77,294.19 295.25,294.23 295.73,294.28 296.2,294.32 296.68,294.36 297.15,294.4 297.62,294.44 298.1,294.47 298.57,294.51 299.05,294.54 299.52,294.57 300,294.6 300.38,294.62 300.75,294.64 301.12,294.66 301.5,294.68 301.88,294.69 302.25,294.71 302.62,294.72 303,294.74 303.38,294.75 303.75,294.76 304.12,294.77 304.5,294.77 304.88,294.78 305.25,294.79 305.62,294.79 306,294.79 306.38,294.8 306.75,294.8 307.12,294.8 307.5,294.8 307.88,294.8 308.25,294.79 308.62,294.79 309,294.79 309.38,294.78 309.75,294.77 310.12,294.77 310.5,294.76 310.88,294.75 311.25,294.74 311.62,294.73 312,294.72 312.38,294.71 312.75,294.69 313.12,294.68 313.5,294.66 313.88,294.65 314.25,294.63 314.62,294.62 315,294.6 315.38,294.58 315.75,294.56 316.12,294.54 316.5,294.52 316.88,294.5 317.25,294.47 317.62,294.44 318,294.42 318.38,294.39 318.75,294.36 319.12,294.33 319.5,294.3 319.88,294.27 320.25,294.23 320.62,294.2 321,294.16 321.38,294.13 321.75,294.09 322.12,294.06 322.5,294.02 322.88,293.98 323.25,293.94 323.62,293.9 324,293.86 324.38,293.82 324.75,293.78 325.12,293.74 325.5,293.7 325.88,293.66 326.25,293.62 326.62,293.58 327,293.53 327.38,293.49 327.75,293.45 328.12,293.41 328.5,293.37 328.88,293.32 329.25,293.28 329.62,293.24 330,293.2 330.38,293.16 330.75,293.12 331.12,293.08 331.5,293.04 331.88,292.99 332.25,292.95 332.62,292.91 333,292.87 333.38,292.83 333.75,292.79 334.12,292.75 334.5,292.7 334.88,292.66 335.25,292.62 335.62,292.58 336,292.53 336.38,292.49 336.75,292.44 337.12,292.4 337.5,292.36 337.88,292.31 338.25,292.26 338.62,292.22 339,292.17 339.38,292.12 339.75,292.07 340.12,292.02 340.5,291.97 340.88,291.92 341.25,291.87 341.62,291.82 342,291.76 342.38,291.71 342.75,291.65 343.12,291.6 343.5,291.54 343.88,291.48 344.25,291.42 344.62,291.36 345,291.3 345.26,291.26 345.51,291.21 345.77,291.17 346.03,291.12 346.29,291.07 346.55,291.03 346.8,290.98 347.06,290.93 347.32,290.88 347.57,290.82 347.83,290.77 348.09,290.72 348.35,290.66 348.61,290.61 348.86,290.55 349.12,290.5 349.38,290.44 349.63,290.38 349.89,290.33 350.15,290.27 350.41,290.21 350.67,290.15 350.92,290.09 351.18,290.03 351.44,289.96 351.69,289.9 351.95,289.84 352.21,289.78 352.47,289.71 352.73,289.65 352.98,289.59 353.24,289.52 353.5,289.46 353.75,289.39 354.01,289.33 354.27,289.26 354.53,289.2 354.79,289.13 355.04,289.07 355.3,289 355.69,288.9 356.07,288.8 356.45,288.69 356.84,288.59 357.23,288.48 357.61,288.37 358,288.26 358.38,288.15 358.76,288.04 359.15,287.93 359.54,287.81 359.92,287.7 360.31,287.58 360.69,287.47 361.07,287.35 361.46,287.23 361.85,287.12 362.23,287 362.62,286.89 363,286.77 363.38,286.65 363.77,286.54 364.15,286.42 364.54,286.31 364.93,286.2 365.31,286.09 365.69,285.98 366.08,285.87 366.46,285.76 366.85,285.65 367.24,285.55 367.62,285.44 368,285.34 368.39,285.24 368.77,285.15 369.16,285.05 369.55,284.96 369.93,284.87 370.31,284.78 370.7,284.7 371.08,284.62 371.46,284.54 371.85,284.46 372.23,284.38 372.61,284.3 373,284.23 373.38,284.15 373.76,284.08 374.14,284.01 374.52,283.94 374.91,283.87 375.29,283.8 375.67,283.73 376.06,283.67 376.44,283.6 376.82,283.54 377.2,283.48 377.58,283.42 377.97,283.36 378.35,283.3 378.73,283.24 379.12,283.19 379.5,283.13 379.88,283.08 380.26,283.03 380.64,282.98 381.03,282.93 381.41,282.88 381.79,282.83 382.18,282.79 382.56,282.74 382.94,282.7 383.32,282.66 383.7,282.62 384.09,282.58 384.47,282.54 384.85,282.5 385.24,282.47 385.62,282.43 386,282.4 386.31,282.38 386.61,282.35 386.92,282.33 387.22,282.31 387.52,282.29 387.83,282.28 388.13,282.26 388.44,282.25 388.75,282.24 389.05,282.23 389.36,282.22 389.66,282.21 389.96,282.21 390.27,282.2 390.57,282.2 390.88,282.2 391.19,282.2 391.49,282.2 391.8,282.2 392.1,282.2 392.4,282.2 392.71,282.21 393.01,282.21 393.32,282.22 393.62,282.22 393.93,282.23 394.24,282.24 394.54,282.25 394.84,282.26 395.15,282.27 395.45,282.28 395.76,282.29 396.06,282.3 396.37,282.32 396.68,282.33 396.98,282.34 397.28,282.36 397.59,282.37 397.89,282.39 398.2,282.4 398.47,282.41 398.74,282.43 399.01,282.44 399.28,282.46 399.55,282.47 399.82,282.49 400.09,282.51 400.36,282.52 400.63,282.54 400.9,282.56 401.17,282.58 401.44,282.6 401.71,282.62 401.98,282.64 402.25,282.67 402.52,282.69 402.79,282.71 403.06,282.74 403.33,282.76 403.6,282.79 403.87,282.82 404.14,282.84 404.41,282.87 404.68,282.9 404.95,282.93 405.22,282.97 405.49,283 405.76,283.03 406.03,283.06 406.3,283.1 406.57,283.14 406.84,283.17 407.11,283.21 407.38,283.25 407.65,283.29 407.92,283.33 408.19,283.37 408.46,283.41 408.73,283.46 409,283.5 409.19,283.53 409.39,283.57 409.58,283.6 409.78,283.64 409.98,283.68 410.17,283.71 410.37,283.75 410.56,283.79 410.75,283.83 410.95,283.87 411.14,283.92 411.34,283.96 411.54,284 411.73,284.05 411.93,284.1 412.12,284.14 412.31,284.19 412.51,284.24 412.7,284.29 412.9,284.34 413.1,284.39 413.29,284.44 413.49,284.5 413.68,284.55 413.88,284.6 414.07,284.66 414.26,284.71 414.46,284.77 414.66,284.83 414.85,284.89 415.05,284.94 415.24,285 415.44,285.06 415.63,285.12 415.82,285.18 416.02,285.25 416.22,285.31 416.41,285.37 416.61,285.44 416.8,285.5 416.98,285.56 417.17,285.62 417.35,285.68 417.53,285.74 417.71,285.8 417.9,285.87 418.08,285.93 418.26,285.99 418.44,286.05 418.62,286.12 418.81,286.18 418.99,286.25 419.17,286.31 419.36,286.38 419.54,286.45 419.72,286.51 419.9,286.58 420.09,286.65 420.27,286.72 420.45,286.79 420.63,286.87 420.81,286.94 421,287.01 421.18,287.09 421.36,287.17 421.55,287.24 421.73,287.32 421.91,287.41 422.09,287.49 422.28,287.57 422.46,287.66 422.64,287.74 422.82,287.83 423,287.92 423.19,288.01 423.37,288.11 423.55,288.2 423.74,288.3 423.92,288.4 424.1,288.5 424.35,288.64 424.6,288.78 424.84,288.93 425.09,289.07 425.34,289.22 425.59,289.37 425.83,289.53 426.08,289.68 426.33,289.84 426.58,290 426.82,290.16 427.07,290.32 427.32,290.49 427.56,290.65 427.81,290.82 428.06,290.99 428.31,291.15 428.56,291.32 428.8,291.49 429.05,291.67 429.3,291.84 429.55,292.01 429.79,292.18 430.04,292.36 430.29,292.53 430.54,292.7 430.78,292.88 431.03,293.05 431.28,293.23 431.52,293.4 431.77,293.57 432.02,293.75 432.27,293.92 432.51,294.09 432.76,294.26 433.01,294.43 433.26,294.6 433.5,294.77 433.75,294.93 434,295.1" fill="none" stroke="rgb(135,175,242)" stroke-width="0.55" />
<polyline points="262,287.3 262.48,287.32 262.95,287.34 263.43,287.35 263.9,287.37 264.38,287.39 264.85,287.41 265.32,287.43 265.8,287.44 266.27,287.46 266.75,287.48 267.23,287.5 267.7,287.52 268.18,287.54 268.65,287.56 269.12,287.58 269.6,287.59 270.07,287.61 270.55,287.63 271.02,287.65 271.5,287.67 271.98,287.69 272.45,287.71 272.93,287.72 273.4,287.74 273.88,287.76 274.35,287.78 274.82,287.79 275.3,287.81 275.77,287.83 276.25,287.85 276.73,287.86 277.2,287.88 277.68,287.9 278.15,287.91 278.62,287.93 279.1,287.94 279.57,287.96 280.05,287.97 280.52,287.99 281,288 281.48,288.01 281.95,288.03 282.43,288.04 282.9,288.06 283.38,288.08 283.85,288.09 284.32,288.11 284.8,288.12 285.27,288.14 285.75,288.16 286.23,288.18 286.7,288.19 287.18,288.21 287.65,288.23 288.12,288.24 288.6,288.26 289.07,288.27 289.55,288.29 290.02,288.3 290.5,288.32 290.98,288.33 291.45,288.34 291.93,288.36 292.4,288.37 292.88,288.38 293.35,288.39 293.82,288.4 294.3,288.41 294.77,288.41 295.25,288.42 295.73,288.42 296.2,288.43 296.68,288.43 297.15,288.43 297.62,288.43 298.1,288.43 298.57,288.42 299.05,288.42 299.52,288.41 300,288.4 300.38,288.39 300.75,288.38 301.12,288.37 301.5,288.35 301.88,288.34 302.25,288.32 302.62,288.3 303,288.28 303.38,288.26 303.75,288.24 304.12,288.22 304.5,288.19 304.88,288.17 305.25,288.14 305.62,288.11 306,288.08 306.38,288.05 306.75,288.02 307.12,287.99 307.5,287.96 307.88,287.93 308.25,287.9 308.62,287.86 309,287.83 309.38,287.8 309.75,287.76 310.12,287.73 310.5,287.69 310.88,287.66 311.25,287.63 311.62,287.59 312,287.56 312.38,287.52 312.75,287.49 313.12,287.46 313.5,287.43 313.88,287.39 314.25,287.36 314.62,287.33 315,287.3 315.38,287.27 315.75,287.24 316.12,287.21 316.5,287.19 316.88,287.16 317.25,287.13 317.62,287.11 318,287.08 318.38,287.06 318.75,287.04 319.12,287.01 319.5,286.99 319.88,286.96 320.25,286.94 320.62,286.92 321,286.89 321.38,286.87 321.75,286.84 322.12,286.81 322.5,286.79 322.88,286.76 323.25,286.73 323.62,286.7 324,286.67 324.38,286.64 324.75,286.61 325.12,286.58 325.5,286.54 325.88,286.51 326.25,286.47 326.62,286.43 327,286.39 327.38,286.35 327.75,286.31 328.12,286.26 328.5,286.21 328.88,286.16 329.25,286.11 329.62,286.06 330,286 330.38,285.94 330.75,285.88 331.12,285.82 331.5,285.75 331.88,285.68 332.25,285.61 332.62,285.54 333,285.46 333.38,285.39 333.75,285.31 334.12,285.23 334.5,285.15 334.88,285.07 335.25,284.99 335.62,284.9 336,284.81 336.38,284.73 336.75,284.64 337.12,284.55 337.5,284.46 337.88,284.37 338.25,284.28 338.62,284.19 339,284.1 339.38,284.01 339.75,283.92 340.12,283.83 340.5,283.74 340.88,283.65 341.25,283.56 341.62,283.47 342,283.38 342.38,283.29 342.75,283.2 343.12,283.12 343.5,283.03 343.88,282.95 344.25,282.86 344.62,282.78 345,282.7 345.26,282.65 345.51,282.59 345.77,282.54 346.03,282.49 346.29,282.44 346.55,282.39 346.8,282.35 347.06,282.3 347.32,282.26 347.57,282.21 347.83,282.17 348.09,282.12 348.35,282.08 348.61,282.04 348.86,281.99 349.12,281.95 349.38,281.9 349.63,281.86 349.89,281.82 350.15,281.77 350.41,281.73 350.67,281.68 350.92,281.63 351.18,281.58 351.44,281.54 351.69,281.48 351.95,281.43 352.21,281.38 352.47,281.33 352.73,281.27 352.98,281.21 353.24,281.15 353.5,281.09 353.75,281.03 354.01,280.96 354.27,280.9 354.53,280.83 354.79,280.75 355.04,280.68 355.3,280.6 355.69,280.48 356.07,280.36 356.45,280.24 356.84,280.11 357.23,279.99 357.61,279.86 358,279.73 358.38,279.6 358.76,279.47 359.15,279.33 359.54,279.2 359.92,279.06 360.31,278.92 360.69,278.79 361.07,278.64 361.46,278.5 361.85,278.36 362.23,278.22 362.62,278.07 363,277.92 363.38,277.78 363.77,277.63 364.15,277.48 364.54,277.33 364.93,277.17 365.31,277.02 365.69,276.87 366.08,276.71 366.46,276.56 366.85,276.4 367.24,276.24 367.62,276.09 368,275.93 368.39,275.77 368.77,275.61 369.16,275.45 369.55,275.29 369.93,275.13 370.31,274.96 370.7,274.8 371.08,274.64 371.46,274.47 371.85,274.31 372.23,274.14 372.61,273.97 373,273.79 373.38,273.62 373.76,273.45 374.14,273.27 374.52,273.09 374.91,272.91 375.29,272.73 375.67,272.55 376.06,272.37 376.44,272.19 376.82,272.01 377.2,271.82 377.58,271.64 377.97,271.45 378.35,271.27 378.73,271.08 379.12,270.89 379.5,270.71 379.88,270.52 380.26,270.34 380.64,270.15 381.03,269.96 381.41,269.78 381.79,269.59 382.18,269.41 382.56,269.22 382.94,269.04 383.32,268.86 383.7,268.67 384.09,268.49 384.47,268.31 384.85,268.13 385.24,267.95 385.62,267.78 386,267.6 386.31,267.46 386.61,267.32 386.92,267.18 387.22,267.05 387.52,266.91 387.83,266.77 388.13,266.64 388.44,266.5 388.75,266.37 389.05,266.24 389.36,266.1 389.66,265.97 389.96,265.84 390.27,265.7 390.57,265.57 390.88,265.44 391.19,265.31 391.49,265.17 391.8,265.04 392.1,264.91 392.4,264.78 392.71,264.65 393.01,264.51 393.32,264.38 393.62,264.25 393.93,264.12 394.24,263.98 394.54,263.85 394.84,263.71 395.15,263.58 395.45,263.44 395.76,263.31 396.06,263.17 396.37,263.04 396.68,262.9 396.98,262.76 397.28,262.62 397.59,262.48 397.89,262.34 398.2,262.2 398.47,262.07 398.74,261.95 399.01,261.82 399.28,261.69 399.55,261.56 399.82,261.44 400.09,261.31 400.36,261.18 400.63,261.05 400.9,260.92 401.17,260.78 401.44,260.65 401.71,260.52 401.98,260.39 402.25,260.26 402.52,260.12 402.79,259.99 403.06,259.86 403.33,259.72 403.6,259.59 403.87,259.46 404.14,259.32 404.41,259.19 404.68,259.05 404.95,258.92 405.22,258.78 405.49,258.65 405.76,258.51 406.03,258.38 406.3,258.24 406.57,258.11 406.84,257.97 407.11,257.84 407.38,257.7 407.65,257.57 407.92,257.44 408.19,257.3 408.46,257.17 408.73,257.03 409,256.9 409.19,256.8 409.39,256.71 409.58,256.61 409.78,256.51 409.98,256.42 410.17,256.32 410.37,256.22 410.56,256.12 410.75,256.03 410.95,255.93 411.14,255.83 411.34,255.73 411.54,255.63 411.73,255.54 411.93,255.44 412.12,255.34 412.31,255.24 412.51,255.14 412.7,255.04 412.9,254.95 413.1,254.85 413.29,254.75 413.49,254.65 413.68,254.55 413.88,254.45 414.07,254.36 414.26,254.26 414.46,254.16 414.66,254.06 414.85,253.97 415.05,253.87 415.24,253.77 415.44,253.67 415.63,253.58 415.82,253.48 416.02,253.38 416.22,253.29 416.41,253.19 416.61,253.1 416.8,253 416.98,252.91 417.17,252.82 417.35,252.73 417.53,252.64 417.71,252.56 417.9,252.47 418.08,252.38 418.26,252.29 418.44,252.2 418.62,252.12 418.81,252.03 418.99,251.94 419.17,251.86 419.36,251.77 419.54,251.68 419.72,251.6 419.9,251.51 420.09,251.42 420.27,251.34 420.45,251.25 420.63,251.16 420.81,251.08 421,250.99 421.18,250.9 421.36,250.82 421.55,250.73 421.73,250.64 421.91,250.55 422.09,250.47 422.28,250.38 422.46,250.29 422.64,250.21 422.82,250.12 423,250.03 423.19,249.94 423.37,249.85 423.55,249.77 423.74,249.68 423.92,249.59 424.1,249.5 424.35,249.38 424.6,249.26 424.84,249.14 425.09,249.02 425.34,248.89 425.59,248.77 425.83,248.65 426.08,248.53 426.33,248.41 426.58,248.28 426.82,248.16 427.07,248.04 427.32,247.92 427.56,247.79 427.81,247.67 428.06,247.55 428.31,247.43 428.56,247.3 428.8,247.18 429.05,247.06 429.3,246.94 429.55,246.81 429.79,246.69 430.04,246.57 430.29,246.44 430.54,246.32 430.78,246.2 431.03,246.07 431.28,245.95 431.52,245.83 431.77,245.71 432.02,245.58 432.27,245.46 432.51,245.34 432.76,245.21 433.01,245.09 433.26,244.97 433.5,244.85 433.75,244.72 434,244.6" fill="none" stroke="rgb(100,150,235)" stroke-width="0.7" />
<line x1="253.5" y1="293.3" x2="442" y2="293.3" stroke="#333" stroke-width="0.6" stroke-dasharray="1.6,1.2"/>
<circle cx="261.5" cy="287.2" r="0.7" fill="rgb(40,100,160)" fill-opacity="1"/>
<circle cx="294.4" cy="281.4" r="1.4" fill="rgb(60,120,175)" fill-opacity="0.8"/>
<circle cx="315.9" cy="290.4" r="1.2" fill="rgb(70,130,180)" fill-opacity="0.66"/>
<circle cx="315.9" cy="293.2" r="1.2" fill="rgb(70,130,180)" fill-opacity="0.66"/>
<circle cx="337.4" cy="275.5" r="1.3" fill="rgb(70,130,180)" fill-opacity="0.66"/>
<circle cx="337.4" cy="278.8" r="1.3" fill="rgb(70,130,180)" fill-opacity="0.66"/>
<circle cx="358.7" cy="278.7" r="1.5" fill="rgb(70,130,180)" fill-opacity="0.66"/>
<circle cx="358.7" cy="281.7" r="1.2" fill="rgb(70,130,180)" fill-opacity="0.66"/>
<circle cx="380.2" cy="265" r="1.7" fill="rgb(70,130,180)" fill-opacity="0.66"/>
<circle cx="401.6" cy="254.2" r="2.3" fill="rgb(50,110,170)" fill-opacity="0.85"/>
<circle cx="433.8" cy="249.2" r="2.3" fill="rgb(70,130,180)" fill-opacity="0.66"/>
<rect x="253" y="188.4" width="189.3" height="111.9" fill="none" stroke="#c4c4c4" stroke-width="1" />
<line x1="442.3" y1="187.9" x2="442.3" y2="300.8" stroke="#9a9a9a" stroke-width="1" />
<line x1="253" y1="300.3" x2="442.3" y2="300.3" stroke="#9a9a9a" stroke-width="1" />
<line x1="289.4" y1="300.3" x2="289.4" y2="301.3" stroke="#333" stroke-width="0.6" />
<text x="289.4" y="304.9" font-size="3.6" text-anchor="middle" font-weight="normal" fill="#1e1e1e"  stroke="#1e1e1e" stroke-width="0.05">45</text>
<line x1="310.9" y1="300.3" x2="310.9" y2="301.3" stroke="#333" stroke-width="0.6" />
<text x="310.9" y="304.9" font-size="3.6" text-anchor="middle" font-weight="normal" fill="#1e1e1e"  stroke="#1e1e1e" stroke-width="0.05">50</text>
<line x1="332.4" y1="300.3" x2="332.4" y2="301.3" stroke="#333" stroke-width="0.6" />
<text x="332.4" y="304.9" font-size="3.6" text-anchor="middle" font-weight="normal" fill="#1e1e1e"  stroke="#1e1e1e" stroke-width="0.05">55</text>
<line x1="353.9" y1="300.3" x2="353.9" y2="301.3" stroke="#333" stroke-width="0.6" />
<text x="353.9" y="304.9" font-size="3.6" text-anchor="middle" font-weight="normal" fill="#1e1e1e"  stroke="#1e1e1e" stroke-width="0.05">60</text>
<line x1="375.4" y1="300.3" x2="375.4" y2="301.3" stroke="#333" stroke-width="0.6" />
<text x="375.4" y="304.9" font-size="3.6" text-anchor="middle" font-weight="normal" fill="#1e1e1e"  stroke="#1e1e1e" stroke-width="0.05">65</text>
<line x1="396.9" y1="300.3" x2="396.9" y2="301.3" stroke="#333" stroke-width="0.6" />
<text x="396.9" y="304.9" font-size="3.6" text-anchor="middle" font-weight="normal" fill="#1e1e1e"  stroke="#1e1e1e" stroke-width="0.05">70</text>
<line x1="418.4" y1="300.3" x2="418.4" y2="301.3" stroke="#333" stroke-width="0.6" />
<text x="418.4" y="304.9" font-size="3.6" text-anchor="middle" font-weight="normal" fill="#1e1e1e"  stroke="#1e1e1e" stroke-width="0.05">75</text>
<line x1="439.9" y1="300.3" x2="439.9" y2="301.3" stroke="#333" stroke-width="0.6" />
<text x="439.9" y="304.9" font-size="3.6" text-anchor="middle" font-weight="normal" fill="#1e1e1e"  stroke="#1e1e1e" stroke-width="0.05">80</text>
<line x1="252" y1="293.3" x2="253" y2="293.3" stroke="#333" stroke-width="0.6" />
<text x="251" y="294.6" font-size="3.6" text-anchor="end" font-weight="normal" fill="#1e1e1e"  stroke="#1e1e1e" stroke-width="0.05">0.0</text>
<line x1="252" y1="263.6" x2="253" y2="263.6" stroke="#333" stroke-width="0.6" />
<text x="251" y="264.9" font-size="3.6" text-anchor="end" font-weight="normal" fill="#1e1e1e"  stroke="#1e1e1e" stroke-width="0.05">0.1</text>
<line x1="252" y1="233.9" x2="253" y2="233.9" stroke="#333" stroke-width="0.6" />
<text x="251" y="235.2" font-size="3.6" text-anchor="end" font-weight="normal" fill="#1e1e1e"  stroke="#1e1e1e" stroke-width="0.05">0.2</text>
<line x1="252" y1="204.2" x2="253" y2="204.2" stroke="#333" stroke-width="0.6" />
<text x="251" y="205.5" font-size="3.6" text-anchor="end" font-weight="normal" fill="#1e1e1e"  stroke="#1e1e1e" stroke-width="0.05">0.3</text>
<text x="0" y="0" font-size="4.4" text-anchor="middle" fill="#000" stroke="#000" stroke-width="0.12" transform="translate(245,245) rotate(-90)">Log Relative Risk</text>
<text x="347.3" y="310.15" font-size="4.35" text-anchor="middle" font-weight="normal" fill="#000" stroke="#000" stroke-width="0.12">Noise Exposure</text>
<rect x="253" y="352.3" width="188.5" height="111.9" fill="#fff" stroke="none" stroke-width="1" />
<line x1="299.32" y1="352.3" x2="299.32" y2="464.2" stroke="#f6f6f6" stroke-width="0.5" />
<line x1="322.47" y1="352.3" x2="322.47" y2="464.2" stroke="#f6f6f6" stroke-width="0.5" />
<line x1="345.62" y1="352.3" x2="345.62" y2="464.2" stroke="#f6f6f6" stroke-width="0.5" />
<line x1="368.77" y1="352.3" x2="368.77" y2="464.2" stroke="#f6f6f6" stroke-width="0.5" />
<line x1="391.92" y1="352.3" x2="391.92" y2="464.2" stroke="#f6f6f6" stroke-width="0.5" />
<line x1="415.07" y1="352.3" x2="415.07" y2="464.2" stroke="#f6f6f6" stroke-width="0.5" />
<line x1="438.22" y1="352.3" x2="438.22" y2="464.2" stroke="#f6f6f6" stroke-width="0.5" />
<line x1="253" y1="364.3" x2="441.5" y2="364.3" stroke="#f6f6f6" stroke-width="0.5" />
<line x1="253" y1="392.5" x2="441.5" y2="392.5" stroke="#f6f6f6" stroke-width="0.5" />
<line x1="253" y1="420.7" x2="441.5" y2="420.7" stroke="#f6f6f6" stroke-width="0.5" />
<line x1="253" y1="448.9" x2="441.5" y2="448.9" stroke="#f6f6f6" stroke-width="0.5" />
<line x1="287.75" y1="352.3" x2="287.75" y2="464.2" stroke="#ededed" stroke-width="0.6" />
<line x1="310.9" y1="352.3" x2="310.9" y2="464.2" stroke="#ededed" stroke-width="0.6" />
<line x1="334.05" y1="352.3" x2="334.05" y2="464.2" stroke="#ededed" stroke-width="0.6" />
<line x1="357.2" y1="352.3" x2="357.2" y2="464.2" stroke="#ededed" stroke-width="0.6" />
<line x1="380.35" y1="352.3" x2="380.35" y2="464.2" stroke="#ededed" stroke-width="0.6" />
<line x1="403.5" y1="352.3" x2="403.5" y2="464.2" stroke="#ededed" stroke-width="0.6" />
<line x1="426.65" y1="352.3" x2="426.65" y2="464.2" stroke="#ededed" stroke-width="0.6" />
<line x1="253" y1="378.4" x2="441.5" y2="378.4" stroke="#ededed" stroke-width="0.6" />
<line x1="253" y1="406.6" x2="441.5" y2="406.6" stroke="#ededed" stroke-width="0.6" />
<line x1="253" y1="434.8" x2="441.5" y2="434.8" stroke="#ededed" stroke-width="0.6" />
<line x1="253" y1="463" x2="441.5" y2="463" stroke="#ededed" stroke-width="0.6" />
<polygon points="261.2,398.5 261.92,398.5 262.64,398.51 263.36,398.51 264.08,398.52 264.8,398.52 265.52,398.53 266.24,398.53 266.96,398.54 267.68,398.54 268.4,398.55 269.12,398.55 269.84,398.56 270.56,398.56 271.28,398.57 272,398.57 272.72,398.58 273.44,398.58 274.16,398.59 274.88,398.59 275.6,398.6 276.32,398.6 277.04,398.61 277.76,398.61 278.48,398.62 279.2,398.62 279.92,398.63 280.64,398.63 281.36,398.64 282.08,398.64 282.8,398.65 283.52,398.65 284.24,398.66 284.96,398.66 285.68,398.67 286.4,398.67 287.12,398.68 287.84,398.68 288.56,398.69 289.28,398.69 290,398.7 290.65,398.7 291.3,398.71 291.95,398.71 292.6,398.72 293.25,398.72 293.9,398.73 294.55,398.73 295.2,398.74 295.85,398.75 296.5,398.75 297.15,398.76 297.8,398.76 298.45,398.77 299.1,398.77 299.75,398.78 300.4,398.78 301.05,398.79 301.7,398.79 302.35,398.8 303,398.8 303.65,398.81 304.3,398.81 304.95,398.82 305.6,398.83 306.25,398.83 306.9,398.84 307.55,398.84 308.2,398.85 308.85,398.85 309.5,398.86 310.15,398.86 310.8,398.87 311.45,398.87 312.1,398.87 312.75,398.88 313.4,398.88 314.05,398.89 314.7,398.89 315.35,398.9 316,398.9 316.6,398.9 317.2,398.91 317.8,398.92 318.4,398.92 319,398.93 319.6,398.94 320.2,398.95 320.8,398.96 321.4,398.97 322,398.98 322.6,398.99 323.2,399 323.8,399.01 324.4,399.02 325,399.03 325.6,399.04 326.2,399.05 326.8,399.06 327.4,399.07 328,399.08 328.6,399.09 329.2,399.09 329.8,399.1 330.4,399.11 331,399.11 331.6,399.11 332.2,399.12 332.8,399.12 333.4,399.12 334,399.12 334.6,399.11 335.2,399.11 335.8,399.1 336.4,399.09 337,399.08 337.6,399.07 338.2,399.06 338.8,399.04 339.4,399.02 340,399 340.55,398.98 341.1,398.96 341.65,398.93 342.2,398.9 342.75,398.88 343.3,398.85 343.85,398.81 344.4,398.78 344.95,398.75 345.5,398.71 346.05,398.67 346.6,398.63 347.15,398.59 347.7,398.55 348.25,398.51 348.8,398.47 349.35,398.42 349.9,398.37 350.45,398.33 351,398.28 351.55,398.23 352.1,398.18 352.65,398.13 353.2,398.08 353.75,398.03 354.3,397.97 354.85,397.92 355.4,397.87 355.95,397.81 356.5,397.76 357.05,397.7 357.6,397.65 358.15,397.59 358.7,397.54 359.25,397.48 359.8,397.43 360.35,397.37 360.9,397.31 361.45,397.26 362,397.2 362.62,397.14 363.25,397.07 363.88,397 364.5,396.94 365.12,396.87 365.75,396.8 366.38,396.73 367,396.66 367.62,396.59 368.25,396.52 368.88,396.45 369.5,396.38 370.12,396.31 370.75,396.23 371.38,396.16 372,396.09 372.62,396.01 373.25,395.94 373.88,395.86 374.5,395.78 375.12,395.71 375.75,395.63 376.38,395.55 377,395.48 377.62,395.4 378.25,395.32 378.88,395.24 379.5,395.16 380.12,395.08 380.75,395 381.38,394.92 382,394.84 382.62,394.76 383.25,394.68 383.88,394.6 384.5,394.52 385.12,394.44 385.75,394.36 386.38,394.28 387,394.2 387.57,394.13 388.15,394.05 388.73,393.98 389.3,393.9 389.88,393.83 390.45,393.75 391.02,393.67 391.6,393.6 392.18,393.52 392.75,393.44 393.32,393.37 393.9,393.29 394.48,393.21 395.05,393.13 395.62,393.06 396.2,392.98 396.77,392.9 397.35,392.82 397.93,392.74 398.5,392.66 399.07,392.58 399.65,392.5 400.23,392.42 400.8,392.34 401.38,392.26 401.95,392.18 402.52,392.1 403.1,392.01 403.68,391.93 404.25,391.85 404.82,391.76 405.4,391.68 405.98,391.6 406.55,391.51 407.12,391.43 407.7,391.34 408.27,391.26 408.85,391.17 409.43,391.09 410,391 410.57,390.91 411.14,390.83 411.71,390.74 412.28,390.65 412.85,390.56 413.42,390.47 413.99,390.38 414.56,390.29 415.13,390.2 415.7,390.11 416.27,390.02 416.84,389.93 417.41,389.84 417.98,389.74 418.55,389.65 419.12,389.56 419.69,389.46 420.26,389.37 420.83,389.28 421.4,389.18 421.97,389.09 422.54,388.99 423.11,388.9 423.68,388.81 424.25,388.71 424.82,388.62 425.39,388.52 425.96,388.43 426.53,388.33 427.1,388.24 427.67,388.14 428.24,388.05 428.81,387.95 429.38,387.86 429.95,387.77 430.52,387.67 431.09,387.58 431.66,387.49 432.23,387.39 432.8,387.3 432.8,406.7 432.23,406.71 431.66,406.73 431.09,406.74 430.52,406.75 429.95,406.76 429.38,406.78 428.81,406.79 428.24,406.8 427.67,406.81 427.1,406.83 426.53,406.84 425.96,406.85 425.39,406.86 424.82,406.88 424.25,406.89 423.68,406.9 423.11,406.91 422.54,406.93 421.97,406.94 421.4,406.95 420.83,406.96 420.26,406.98 419.69,406.99 419.12,407 418.55,407.01 417.98,407.03 417.41,407.04 416.84,407.05 416.27,407.06 415.7,407.08 415.13,407.09 414.56,407.1 413.99,407.11 413.42,407.13 412.85,407.14 412.28,407.15 411.71,407.16 411.14,407.18 410.57,407.19 410,407.2 409.43,407.21 408.85,407.23 408.27,407.24 407.7,407.25 407.12,407.27 406.55,407.28 405.98,407.3 405.4,407.31 404.82,407.32 404.25,407.34 403.68,407.35 403.1,407.37 402.52,407.38 401.95,407.4 401.38,407.41 400.8,407.43 400.23,407.44 399.65,407.46 399.07,407.47 398.5,407.49 397.93,407.5 397.35,407.52 396.77,407.53 396.2,407.54 395.62,407.56 395.05,407.57 394.48,407.58 393.9,407.6 393.32,407.61 392.75,407.62 392.18,407.63 391.6,407.64 391.02,407.65 390.45,407.66 389.88,407.67 389.3,407.67 388.73,407.68 388.15,407.69 387.57,407.69 387,407.7 386.38,407.71 385.75,407.71 385.12,407.72 384.5,407.72 383.88,407.73 383.25,407.73 382.62,407.74 382,407.75 381.38,407.75 380.75,407.76 380.12,407.76 379.5,407.77 378.88,407.77 378.25,407.77 377.62,407.78 377,407.78 376.38,407.78 375.75,407.79 375.12,407.79 374.5,407.79 373.88,407.79 373.25,407.79 372.62,407.79 372,407.79 371.38,407.78 370.75,407.78 370.12,407.77 369.5,407.77 368.88,407.76 368.25,407.75 367.62,407.74 367,407.73 366.38,407.72 365.75,407.71 365.12,407.69 364.5,407.68 363.88,407.66 363.25,407.64 362.62,407.62 362,407.6 361.45,407.58 360.9,407.56 360.35,407.53 359.8,407.5 359.25,407.47 358.7,407.44 358.15,407.41 357.6,407.37 357.05,407.33 356.5,407.29 355.95,407.25 355.4,407.21 354.85,407.17 354.3,407.13 353.75,407.08 353.2,407.04 352.65,406.99 352.1,406.94 351.55,406.9 351,406.85 350.45,406.8 349.9,406.75 349.35,406.71 348.8,406.66 348.25,406.61 347.7,406.56 347.15,406.52 346.6,406.47 346.05,406.43 345.5,406.38 344.95,406.34 344.4,406.29 343.85,406.25 343.3,406.21 342.75,406.17 342.2,406.13 341.65,406.1 341.1,406.06 340.55,406.03 340,406 339.4,405.97 338.8,405.94 338.2,405.91 337.6,405.87 337,405.85 336.4,405.82 335.8,405.79 335.2,405.76 334.6,405.73 334,405.71 333.4,405.68 332.8,405.65 332.2,405.63 331.6,405.6 331,405.58 330.4,405.56 329.8,405.53 329.2,405.51 328.6,405.49 328,405.46 327.4,405.44 326.8,405.42 326.2,405.4 325.6,405.38 325,405.36 324.4,405.34 323.8,405.32 323.2,405.3 322.6,405.29 322,405.27 321.4,405.25 320.8,405.23 320.2,405.21 319.6,405.2 319,405.18 318.4,405.16 317.8,405.15 317.2,405.13 316.6,405.12 316,405.1 315.35,405.08 314.7,405.07 314.05,405.05 313.4,405.04 312.75,405.02 312.1,405.01 311.45,405 310.8,404.98 310.15,404.97 309.5,404.96 308.85,404.95 308.2,404.94 307.55,404.92 306.9,404.91 306.25,404.9 305.6,404.89 304.95,404.88 304.3,404.87 303.65,404.87 303,404.86 302.35,404.85 301.7,404.84 301.05,404.83 300.4,404.82 299.75,404.82 299.1,404.81 298.45,404.8 297.8,404.79 297.15,404.79 296.5,404.78 295.85,404.77 295.2,404.76 294.55,404.75 293.9,404.75 293.25,404.74 292.6,404.73 291.95,404.72 291.3,404.72 290.65,404.71 290,404.7 289.28,404.69 288.56,404.68 287.84,404.67 287.12,404.66 286.4,404.66 285.68,404.65 284.96,404.64 284.24,404.63 283.52,404.62 282.8,404.62 282.08,404.61 281.36,404.6 280.64,404.59 279.92,404.58 279.2,404.58 278.48,404.57 277.76,404.56 277.04,404.56 276.32,404.55 275.6,404.54 274.88,404.53 274.16,404.53 273.44,404.52 272.72,404.51 272,404.51 271.28,404.5 270.56,404.49 269.84,404.49 269.12,404.48 268.4,404.47 267.68,404.46 266.96,404.46 266.24,404.45 265.52,404.44 264.8,404.44 264.08,404.43 263.36,404.42 262.64,404.41 261.92,404.41 261.2,404.4" fill="rgb(212,229,251)" stroke="none" stroke-width="1" fill-opacity="0.8"/>
<polyline points="261.2,398.5 261.92,398.5 262.64,398.51 263.36,398.51 264.08,398.52 264.8,398.52 265.52,398.53 266.24,398.53 266.96,398.54 267.68,398.54 268.4,398.55 269.12,398.55 269.84,398.56 270.56,398.56 271.28,398.57 272,398.57 272.72,398.58 273.44,398.58 274.16,398.59 274.88,398.59 275.6,398.6 276.32,398.6 277.04,398.61 277.76,398.61 278.48,398.62 279.2,398.62 279.92,398.63 280.64,398.63 281.36,398.64 282.08,398.64 282.8,398.65 283.52,398.65 284.24,398.66 284.96,398.66 285.68,398.67 286.4,398.67 287.12,398.68 287.84,398.68 288.56,398.69 289.28,398.69 290,398.7 290.65,398.7 291.3,398.71 291.95,398.71 292.6,398.72 293.25,398.72 293.9,398.73 294.55,398.73 295.2,398.74 295.85,398.75 296.5,398.75 297.15,398.76 297.8,398.76 298.45,398.77 299.1,398.77 299.75,398.78 300.4,398.78 301.05,398.79 301.7,398.79 302.35,398.8 303,398.8 303.65,398.81 304.3,398.81 304.95,398.82 305.6,398.83 306.25,398.83 306.9,398.84 307.55,398.84 308.2,398.85 308.85,398.85 309.5,398.86 310.15,398.86 310.8,398.87 311.45,398.87 312.1,398.87 312.75,398.88 313.4,398.88 314.05,398.89 314.7,398.89 315.35,398.9 316,398.9 316.6,398.9 317.2,398.91 317.8,398.92 318.4,398.92 319,398.93 319.6,398.94 320.2,398.95 320.8,398.96 321.4,398.97 322,398.98 322.6,398.99 323.2,399 323.8,399.01 324.4,399.02 325,399.03 325.6,399.04 326.2,399.05 326.8,399.06 327.4,399.07 328,399.08 328.6,399.09 329.2,399.09 329.8,399.1 330.4,399.11 331,399.11 331.6,399.11 332.2,399.12 332.8,399.12 333.4,399.12 334,399.12 334.6,399.11 335.2,399.11 335.8,399.1 336.4,399.09 337,399.08 337.6,399.07 338.2,399.06 338.8,399.04 339.4,399.02 340,399 340.55,398.98 341.1,398.96 341.65,398.93 342.2,398.9 342.75,398.88 343.3,398.85 343.85,398.81 344.4,398.78 344.95,398.75 345.5,398.71 346.05,398.67 346.6,398.63 347.15,398.59 347.7,398.55 348.25,398.51 348.8,398.47 349.35,398.42 349.9,398.37 350.45,398.33 351,398.28 351.55,398.23 352.1,398.18 352.65,398.13 353.2,398.08 353.75,398.03 354.3,397.97 354.85,397.92 355.4,397.87 355.95,397.81 356.5,397.76 357.05,397.7 357.6,397.65 358.15,397.59 358.7,397.54 359.25,397.48 359.8,397.43 360.35,397.37 360.9,397.31 361.45,397.26 362,397.2 362.62,397.14 363.25,397.07 363.88,397 364.5,396.94 365.12,396.87 365.75,396.8 366.38,396.73 367,396.66 367.62,396.59 368.25,396.52 368.88,396.45 369.5,396.38 370.12,396.31 370.75,396.23 371.38,396.16 372,396.09 372.62,396.01 373.25,395.94 373.88,395.86 374.5,395.78 375.12,395.71 375.75,395.63 376.38,395.55 377,395.48 377.62,395.4 378.25,395.32 378.88,395.24 379.5,395.16 380.12,395.08 380.75,395 381.38,394.92 382,394.84 382.62,394.76 383.25,394.68 383.88,394.6 384.5,394.52 385.12,394.44 385.75,394.36 386.38,394.28 387,394.2 387.57,394.13 388.15,394.05 388.73,393.98 389.3,393.9 389.88,393.83 390.45,393.75 391.02,393.67 391.6,393.6 392.18,393.52 392.75,393.44 393.32,393.37 393.9,393.29 394.48,393.21 395.05,393.13 395.62,393.06 396.2,392.98 396.77,392.9 397.35,392.82 397.93,392.74 398.5,392.66 399.07,392.58 399.65,392.5 400.23,392.42 400.8,392.34 401.38,392.26 401.95,392.18 402.52,392.1 403.1,392.01 403.68,391.93 404.25,391.85 404.82,391.76 405.4,391.68 405.98,391.6 406.55,391.51 407.12,391.43 407.7,391.34 408.27,391.26 408.85,391.17 409.43,391.09 410,391 410.57,390.91 411.14,390.83 411.71,390.74 412.28,390.65 412.85,390.56 413.42,390.47 413.99,390.38 414.56,390.29 415.13,390.2 415.7,390.11 416.27,390.02 416.84,389.93 417.41,389.84 417.98,389.74 418.55,389.65 419.12,389.56 419.69,389.46 420.26,389.37 420.83,389.28 421.4,389.18 421.97,389.09 422.54,388.99 423.11,388.9 423.68,388.81 424.25,388.71 424.82,388.62 425.39,388.52 425.96,388.43 426.53,388.33 427.1,388.24 427.67,388.14 428.24,388.05 428.81,387.95 429.38,387.86 429.95,387.77 430.52,387.67 431.09,387.58 431.66,387.49 432.23,387.39 432.8,387.3" fill="none" stroke="rgb(135,175,242)" stroke-width="0.55" />
<polyline points="261.2,404.4 261.92,404.41 262.64,404.41 263.36,404.42 264.08,404.43 264.8,404.44 265.52,404.44 266.24,404.45 266.96,404.46 267.68,404.46 268.4,404.47 269.12,404.48 269.84,404.49 270.56,404.49 271.28,404.5 272,404.51 272.72,404.51 273.44,404.52 274.16,404.53 274.88,404.53 275.6,404.54 276.32,404.55 277.04,404.56 277.76,404.56 278.48,404.57 279.2,404.58 279.92,404.58 280.64,404.59 281.36,404.6 282.08,404.61 282.8,404.62 283.52,404.62 284.24,404.63 284.96,404.64 285.68,404.65 286.4,404.66 287.12,404.66 287.84,404.67 288.56,404.68 289.28,404.69 290,404.7 290.65,404.71 291.3,404.72 291.95,404.72 292.6,404.73 293.25,404.74 293.9,404.75 294.55,404.75 295.2,404.76 295.85,404.77 296.5,404.78 297.15,404.79 297.8,404.79 298.45,404.8 299.1,404.81 299.75,404.82 300.4,404.82 301.05,404.83 301.7,404.84 302.35,404.85 303,404.86 303.65,404.87 304.3,404.87 304.95,404.88 305.6,404.89 306.25,404.9 306.9,404.91 307.55,404.92 308.2,404.94 308.85,404.95 309.5,404.96 310.15,404.97 310.8,404.98 311.45,405 312.1,405.01 312.75,405.02 313.4,405.04 314.05,405.05 314.7,405.07 315.35,405.08 316,405.1 316.6,405.12 317.2,405.13 317.8,405.15 318.4,405.16 319,405.18 319.6,405.2 320.2,405.21 320.8,405.23 321.4,405.25 322,405.27 322.6,405.29 323.2,405.3 323.8,405.32 324.4,405.34 325,405.36 325.6,405.38 326.2,405.4 326.8,405.42 327.4,405.44 328,405.46 328.6,405.49 329.2,405.51 329.8,405.53 330.4,405.56 331,405.58 331.6,405.6 332.2,405.63 332.8,405.65 333.4,405.68 334,405.71 334.6,405.73 335.2,405.76 335.8,405.79 336.4,405.82 337,405.85 337.6,405.87 338.2,405.91 338.8,405.94 339.4,405.97 340,406 340.55,406.03 341.1,406.06 341.65,406.1 342.2,406.13 342.75,406.17 343.3,406.21 343.85,406.25 344.4,406.29 344.95,406.34 345.5,406.38 346.05,406.43 346.6,406.47 347.15,406.52 347.7,406.56 348.25,406.61 348.8,406.66 349.35,406.71 349.9,406.75 350.45,406.8 351,406.85 351.55,406.9 352.1,406.94 352.65,406.99 353.2,407.04 353.75,407.08 354.3,407.13 354.85,407.17 355.4,407.21 355.95,407.25 356.5,407.29 357.05,407.33 357.6,407.37 358.15,407.41 358.7,407.44 359.25,407.47 359.8,407.5 360.35,407.53 360.9,407.56 361.45,407.58 362,407.6 362.62,407.62 363.25,407.64 363.88,407.66 364.5,407.68 365.12,407.69 365.75,407.71 366.38,407.72 367,407.73 367.62,407.74 368.25,407.75 368.88,407.76 369.5,407.77 370.12,407.77 370.75,407.78 371.38,407.78 372,407.79 372.62,407.79 373.25,407.79 373.88,407.79 374.5,407.79 375.12,407.79 375.75,407.79 376.38,407.78 377,407.78 377.62,407.78 378.25,407.77 378.88,407.77 379.5,407.77 380.12,407.76 380.75,407.76 381.38,407.75 382,407.75 382.62,407.74 383.25,407.73 383.88,407.73 384.5,407.72 385.12,407.72 385.75,407.71 386.38,407.71 387,407.7 387.57,407.69 388.15,407.69 388.73,407.68 389.3,407.67 389.88,407.67 390.45,407.66 391.02,407.65 391.6,407.64 392.18,407.63 392.75,407.62 393.32,407.61 393.9,407.6 394.48,407.58 395.05,407.57 395.62,407.56 396.2,407.54 396.77,407.53 397.35,407.52 397.93,407.5 398.5,407.49 399.07,407.47 399.65,407.46 400.23,407.44 400.8,407.43 401.38,407.41 401.95,407.4 402.52,407.38 403.1,407.37 403.68,407.35 404.25,407.34 404.82,407.32 405.4,407.31 405.98,407.3 406.55,407.28 407.12,407.27 407.7,407.25 408.27,407.24 408.85,407.23 409.43,407.21 410,407.2 410.57,407.19 411.14,407.18 411.71,407.16 412.28,407.15 412.85,407.14 413.42,407.13 413.99,407.11 414.56,407.1 415.13,407.09 415.7,407.08 416.27,407.06 416.84,407.05 417.41,407.04 417.98,407.03 418.55,407.01 419.12,407 419.69,406.99 420.26,406.98 420.83,406.96 421.4,406.95 421.97,406.94 422.54,406.93 423.11,406.91 423.68,406.9 424.25,406.89 424.82,406.88 425.39,406.86 425.96,406.85 426.53,406.84 427.1,406.83 427.67,406.81 428.24,406.8 428.81,406.79 429.38,406.78 429.95,406.76 430.52,406.75 431.09,406.74 431.66,406.73 432.23,406.71 432.8,406.7" fill="none" stroke="rgb(135,175,242)" stroke-width="0.55" />
<polyline points="261.2,401.4 261.92,401.41 262.64,401.42 263.36,401.43 264.08,401.44 264.8,401.45 265.52,401.46 266.24,401.47 266.96,401.48 267.68,401.49 268.4,401.5 269.12,401.51 269.84,401.52 270.56,401.52 271.28,401.53 272,401.54 272.72,401.55 273.44,401.56 274.16,401.57 274.88,401.58 275.6,401.59 276.32,401.6 277.04,401.61 277.76,401.62 278.48,401.63 279.2,401.64 279.92,401.65 280.64,401.66 281.36,401.67 282.08,401.68 282.8,401.69 283.52,401.7 284.24,401.71 284.96,401.72 285.68,401.73 286.4,401.74 287.12,401.75 287.84,401.77 288.56,401.78 289.28,401.79 290,401.8 290.65,401.81 291.3,401.82 291.95,401.83 292.6,401.84 293.25,401.86 293.9,401.87 294.55,401.88 295.2,401.89 295.85,401.9 296.5,401.91 297.15,401.93 297.8,401.94 298.45,401.95 299.1,401.96 299.75,401.98 300.4,401.99 301.05,402 301.7,402.01 302.35,402.03 303,402.04 303.65,402.05 304.3,402.06 304.95,402.08 305.6,402.09 306.25,402.1 306.9,402.12 307.55,402.13 308.2,402.14 308.85,402.16 309.5,402.17 310.15,402.18 310.8,402.2 311.45,402.21 312.1,402.22 312.75,402.23 313.4,402.25 314.05,402.26 314.7,402.27 315.35,402.29 316,402.3 316.6,402.31 317.2,402.32 317.8,402.34 318.4,402.35 319,402.37 319.6,402.38 320.2,402.39 320.8,402.41 321.4,402.42 322,402.44 322.6,402.45 323.2,402.47 323.8,402.48 324.4,402.5 325,402.51 325.6,402.53 326.2,402.55 326.8,402.56 327.4,402.58 328,402.59 328.6,402.61 329.2,402.62 329.8,402.63 330.4,402.65 331,402.66 331.6,402.67 332.2,402.69 332.8,402.7 333.4,402.71 334,402.72 334.6,402.73 335.2,402.74 335.8,402.75 336.4,402.76 337,402.77 337.6,402.78 338.2,402.78 338.8,402.79 339.4,402.8 340,402.8 340.55,402.8 341.1,402.81 341.65,402.81 342.2,402.82 342.75,402.82 343.3,402.82 343.85,402.83 344.4,402.83 344.95,402.84 345.5,402.84 346.05,402.85 346.6,402.85 347.15,402.85 347.7,402.85 348.25,402.86 348.8,402.86 349.35,402.86 349.9,402.86 350.45,402.86 351,402.86 351.55,402.86 352.1,402.85 352.65,402.85 353.2,402.85 353.75,402.84 354.3,402.83 354.85,402.83 355.4,402.82 355.95,402.81 356.5,402.8 357.05,402.78 357.6,402.77 358.15,402.75 358.7,402.74 359.25,402.72 359.8,402.7 360.35,402.68 360.9,402.65 361.45,402.63 362,402.6 362.62,402.57 363.25,402.53 363.88,402.49 364.5,402.45 365.12,402.41 365.75,402.37 366.38,402.32 367,402.27 367.62,402.22 368.25,402.17 368.88,402.12 369.5,402.06 370.12,402.01 370.75,401.95 371.38,401.89 372,401.83 372.62,401.77 373.25,401.71 373.88,401.65 374.5,401.59 375.12,401.53 375.75,401.46 376.38,401.4 377,401.34 377.62,401.27 378.25,401.21 378.88,401.15 379.5,401.09 380.12,401.02 380.75,400.96 381.38,400.9 382,400.84 382.62,400.78 383.25,400.72 383.88,400.67 384.5,400.61 385.12,400.56 385.75,400.5 386.38,400.45 387,400.4 387.57,400.35 388.15,400.31 388.73,400.27 389.3,400.22 389.88,400.18 390.45,400.14 391.02,400.09 391.6,400.05 392.18,400.01 392.75,399.97 393.32,399.93 393.9,399.89 394.48,399.85 395.05,399.81 395.62,399.77 396.2,399.73 396.77,399.69 397.35,399.65 397.93,399.61 398.5,399.57 399.07,399.53 399.65,399.5 400.23,399.46 400.8,399.42 401.38,399.38 401.95,399.34 402.52,399.31 403.1,399.27 403.68,399.23 404.25,399.19 404.82,399.15 405.4,399.11 405.98,399.08 406.55,399.04 407.12,399 407.7,398.96 408.27,398.92 408.85,398.88 409.43,398.84 410,398.8 410.57,398.76 411.14,398.72 411.71,398.68 412.28,398.64 412.85,398.6 413.42,398.56 413.99,398.52 414.56,398.48 415.13,398.44 415.7,398.4 416.27,398.36 416.84,398.32 417.41,398.28 417.98,398.24 418.55,398.2 419.12,398.16 419.69,398.12 420.26,398.08 420.83,398.04 421.4,398 421.97,397.96 422.54,397.92 423.11,397.88 423.68,397.84 424.25,397.8 424.82,397.76 425.39,397.72 425.96,397.68 426.53,397.64 427.1,397.6 427.67,397.56 428.24,397.52 428.81,397.48 429.38,397.44 429.95,397.4 430.52,397.36 431.09,397.32 431.66,397.28 432.23,397.24 432.8,397.2" fill="none" stroke="rgb(100,150,235)" stroke-width="0.7" />
<line x1="253.5" y1="406.6" x2="441" y2="406.6" stroke="#333" stroke-width="0.6" stroke-dasharray="1.6,1.2"/>
<circle cx="409.4" cy="357.2" r="2.4" fill="rgb(70,130,180)" fill-opacity="0.66"/>
<circle cx="357.6" cy="459.1" r="2.8" fill="rgb(70,130,180)" fill-opacity="0.66"/>
<circle cx="261.2" cy="399.3" r="0.5" fill="rgb(70,130,180)" fill-opacity="0.66"/>
<circle cx="261.2" cy="402.3" r="0.5" fill="rgb(70,130,180)" fill-opacity="0.66"/>
<circle cx="316" cy="398.5" r="1" fill="rgb(70,130,180)" fill-opacity="0.66"/>
<circle cx="316" cy="405.5" r="1" fill="rgb(70,130,180)" fill-opacity="0.66"/>
<circle cx="339.6" cy="395.8" r="1" fill="rgb(70,130,180)" fill-opacity="0.66"/>
<circle cx="336.8" cy="401" r="1.1" fill="rgb(70,130,180)" fill-opacity="0.66"/>
<circle cx="339.6" cy="406.8" r="0.9" fill="rgb(70,130,180)" fill-opacity="0.66"/>
<circle cx="360.4" cy="399.4" r="1" fill="rgb(70,130,180)" fill-opacity="0.66"/>
<circle cx="362.9" cy="402.6" r="1" fill="rgb(70,130,180)" fill-opacity="0.66"/>
<circle cx="362.9" cy="411.1" r="1" fill="rgb(70,130,180)" fill-opacity="0.66"/>
<circle cx="386.4" cy="394.3" r="1.3" fill="rgb(70,130,180)" fill-opacity="0.66"/>
<circle cx="386.4" cy="398.7" r="1.1" fill="rgb(70,130,180)" fill-opacity="0.66"/>
<circle cx="433" cy="397.1" r="1" fill="rgb(70,130,180)" fill-opacity="0.66"/>
<rect x="253" y="352.3" width="188.5" height="111.9" fill="none" stroke="#c4c4c4" stroke-width="1" />
<line x1="441.5" y1="351.8" x2="441.5" y2="464.7" stroke="#9a9a9a" stroke-width="1" />
<line x1="253" y1="464.2" x2="441.5" y2="464.2" stroke="#9a9a9a" stroke-width="1" />
<line x1="310.9" y1="464.2" x2="310.9" y2="465.2" stroke="#333" stroke-width="0.6" />
<text x="310.9" y="469.2" font-size="3.6" text-anchor="middle" font-weight="normal" fill="#1e1e1e"  stroke="#1e1e1e" stroke-width="0.05">45</text>
<line x1="334.05" y1="464.2" x2="334.05" y2="465.2" stroke="#333" stroke-width="0.6" />
<text x="334.05" y="469.2" font-size="3.6" text-anchor="middle" font-weight="normal" fill="#1e1e1e"  stroke="#1e1e1e" stroke-width="0.05">50</text>
<line x1="357.2" y1="464.2" x2="357.2" y2="465.2" stroke="#333" stroke-width="0.6" />
<text x="357.2" y="469.2" font-size="3.6" text-anchor="middle" font-weight="normal" fill="#1e1e1e"  stroke="#1e1e1e" stroke-width="0.05">55</text>
<line x1="380.35" y1="464.2" x2="380.35" y2="465.2" stroke="#333" stroke-width="0.6" />
<text x="380.35" y="469.2" font-size="3.6" text-anchor="middle" font-weight="normal" fill="#1e1e1e"  stroke="#1e1e1e" stroke-width="0.05">60</text>
<line x1="403.5" y1="464.2" x2="403.5" y2="465.2" stroke="#333" stroke-width="0.6" />
<text x="403.5" y="469.2" font-size="3.6" text-anchor="middle" font-weight="normal" fill="#1e1e1e"  stroke="#1e1e1e" stroke-width="0.05">65</text>
<line x1="426.65" y1="464.2" x2="426.65" y2="465.2" stroke="#333" stroke-width="0.6" />
<text x="426.65" y="469.2" font-size="3.6" text-anchor="middle" font-weight="normal" fill="#1e1e1e"  stroke="#1e1e1e" stroke-width="0.05">70</text>
<line x1="252" y1="378.4" x2="253" y2="378.4" stroke="#333" stroke-width="0.6" />
<text x="251" y="379.7" font-size="3.6" text-anchor="end" font-weight="normal" fill="#1e1e1e"  stroke="#1e1e1e" stroke-width="0.05">0.2</text>
<line x1="252" y1="406.6" x2="253" y2="406.6" stroke="#333" stroke-width="0.6" />
<text x="251" y="407.9" font-size="3.6" text-anchor="end" font-weight="normal" fill="#1e1e1e"  stroke="#1e1e1e" stroke-width="0.05">0.0</text>
<line x1="252" y1="434.8" x2="253" y2="434.8" stroke="#333" stroke-width="0.6" />
<text x="251" y="436.1" font-size="3.6" text-anchor="end" font-weight="normal" fill="#1e1e1e"  stroke="#1e1e1e" stroke-width="0.05">-0.2</text>
<line x1="252" y1="463" x2="253" y2="463" stroke="#333" stroke-width="0.6" />
<text x="251" y="464.3" font-size="3.6" text-anchor="end" font-weight="normal" fill="#1e1e1e"  stroke="#1e1e1e" stroke-width="0.05">-0.4</text>
<text x="0" y="0" font-size="4.4" text-anchor="middle" fill="#000" stroke="#000" stroke-width="0.12" transform="translate(245,410.4) rotate(-90)">Log Relative Risk</text>
<text x="347.3" y="474.35" font-size="4.35" text-anchor="middle" font-weight="normal" fill="#000" stroke="#000" stroke-width="0.12">Noise Exposure</text>
<rect x="493" y="16.4" width="189.4" height="111.7" fill="#fff" stroke="none" stroke-width="1" />
<line x1="507.46" y1="16.4" x2="507.46" y2="128.1" stroke="#f6f6f6" stroke-width="0.5" />
<line x1="529.59" y1="16.4" x2="529.59" y2="128.1" stroke="#f6f6f6" stroke-width="0.5" />
<line x1="551.71" y1="16.4" x2="551.71" y2="128.1" stroke="#f6f6f6" stroke-width="0.5" />
<line x1="573.84" y1="16.4" x2="573.84" y2="128.1" stroke="#f6f6f6" stroke-width="0.5" />
<line x1="595.96" y1="16.4" x2="595.96" y2="128.1" stroke="#f6f6f6" stroke-width="0.5" />
<line x1="618.09" y1="16.4" x2="618.09" y2="128.1" stroke="#f6f6f6" stroke-width="0.5" />
<line x1="640.21" y1="16.4" x2="640.21" y2="128.1" stroke="#f6f6f6" stroke-width="0.5" />
<line x1="662.34" y1="16.4" x2="662.34" y2="128.1" stroke="#f6f6f6" stroke-width="0.5" />
<line x1="493" y1="32.23" x2="682.4" y2="32.23" stroke="#f6f6f6" stroke-width="0.5" />
<line x1="493" y1="53.49" x2="682.4" y2="53.49" stroke="#f6f6f6" stroke-width="0.5" />
<line x1="493" y1="74.75" x2="682.4" y2="74.75" stroke="#f6f6f6" stroke-width="0.5" />
<line x1="493" y1="96.01" x2="682.4" y2="96.01" stroke="#f6f6f6" stroke-width="0.5" />
<line x1="493" y1="117.27" x2="682.4" y2="117.27" stroke="#f6f6f6" stroke-width="0.5" />
<line x1="496.4" y1="16.4" x2="496.4" y2="128.1" stroke="#ededed" stroke-width="0.6" />
<line x1="518.52" y1="16.4" x2="518.52" y2="128.1" stroke="#ededed" stroke-width="0.6" />
<line x1="540.65" y1="16.4" x2="540.65" y2="128.1" stroke="#ededed" stroke-width="0.6" />
<line x1="562.77" y1="16.4" x2="562.77" y2="128.1" stroke="#ededed" stroke-width="0.6" />
<line x1="584.9" y1="16.4" x2="584.9" y2="128.1" stroke="#ededed" stroke-width="0.6" />
<line x1="607.02" y1="16.4" x2="607.02" y2="128.1" stroke="#ededed" stroke-width="0.6" />
<line x1="629.15" y1="16.4" x2="629.15" y2="128.1" stroke="#ededed" stroke-width="0.6" />
<line x1="651.27" y1="16.4" x2="651.27" y2="128.1" stroke="#ededed" stroke-width="0.6" />
<line x1="673.4" y1="16.4" x2="673.4" y2="128.1" stroke="#ededed" stroke-width="0.6" />
<line x1="493" y1="21.6" x2="682.4" y2="21.6" stroke="#ededed" stroke-width="0.6" />
<line x1="493" y1="42.86" x2="682.4" y2="42.86" stroke="#ededed" stroke-width="0.6" />
<line x1="493" y1="64.12" x2="682.4" y2="64.12" stroke="#ededed" stroke-width="0.6" />
<line x1="493" y1="85.38" x2="682.4" y2="85.38" stroke="#ededed" stroke-width="0.6" />
<line x1="493" y1="106.64" x2="682.4" y2="106.64" stroke="#ededed" stroke-width="0.6" />
<line x1="493" y1="127.9" x2="682.4" y2="127.9" stroke="#ededed" stroke-width="0.6" />
<polygon points="584.9,22.5 501.4,123.5 668.4,123.5" fill="rgb(247,247,247)" stroke="none" stroke-width="1" />
<line x1="496.4" y1="22.5" x2="496.4" y2="123.5" stroke="#ededed" stroke-width="0.5" stroke-opacity="0.6"/>
<line x1="518.52" y1="22.5" x2="518.52" y2="123.5" stroke="#ededed" stroke-width="0.5" stroke-opacity="0.6"/>
<line x1="540.65" y1="22.5" x2="540.65" y2="123.5" stroke="#ededed" stroke-width="0.5" stroke-opacity="0.6"/>
<line x1="562.77" y1="22.5" x2="562.77" y2="123.5" stroke="#ededed" stroke-width="0.5" stroke-opacity="0.6"/>
<line x1="584.9" y1="22.5" x2="584.9" y2="123.5" stroke="#ededed" stroke-width="0.5" stroke-opacity="0.6"/>
<line x1="607.02" y1="22.5" x2="607.02" y2="123.5" stroke="#ededed" stroke-width="0.5" stroke-opacity="0.6"/>
<line x1="629.15" y1="22.5" x2="629.15" y2="123.5" stroke="#ededed" stroke-width="0.5" stroke-opacity="0.6"/>
<line x1="651.27" y1="22.5" x2="651.27" y2="123.5" stroke="#ededed" stroke-width="0.5" stroke-opacity="0.6"/>
<line x1="673.4" y1="22.5" x2="673.4" y2="123.5" stroke="#ededed" stroke-width="0.5" stroke-opacity="0.6"/>
<line x1="584.9" y1="22.5" x2="501.4" y2="123.5" stroke="#333" stroke-width="0.85" stroke-dasharray="1.0,2.1"/>
<line x1="584.9" y1="22.5" x2="668.4" y2="123.5" stroke="#333" stroke-width="0.85" stroke-dasharray="1.0,2.1"/>
<line x1="584.9" y1="22.5" x2="584.9" y2="123.5" stroke="#4a4a4a" stroke-width="0.65" stroke-dasharray="1.3,1.3"/>
<circle cx="584.3" cy="27.3" r="1.77" fill="#262626" fill-opacity="1"/>
<circle cx="584.3" cy="29.4" r="1.51" fill="#262626" fill-opacity="1"/>
<circle cx="583.6" cy="28" r="1.3" fill="#262626" fill-opacity="1"/>
<circle cx="585.1" cy="27.6" r="1.3" fill="#262626" fill-opacity="1"/>
<circle cx="587.8" cy="24.1" r="0.76" fill="rgb(92,92,92)" fill-opacity="0.85"/>
<circle cx="589.2" cy="23.8" r="0.76" fill="rgb(92,92,92)" fill-opacity="0.85"/>
<circle cx="589.5" cy="27.9" r="1.3" fill="rgb(92,92,92)" fill-opacity="0.85"/>
<circle cx="589.5" cy="30" r="1.4" fill="rgb(92,92,92)" fill-opacity="0.85"/>
<circle cx="592.7" cy="28.8" r="1.3" fill="rgb(92,92,92)" fill-opacity="0.85"/>
<circle cx="594.8" cy="30.3" r="1.3" fill="rgb(92,92,92)" fill-opacity="0.85"/>
<circle cx="595.9" cy="31.4" r="1.3" fill="rgb(92,92,92)" fill-opacity="0.85"/>
<circle cx="592.7" cy="32.9" r="1.3" fill="rgb(92,92,92)" fill-opacity="0.85"/>
<circle cx="586" cy="33.8" r="1.3" fill="rgb(92,92,92)" fill-opacity="0.85"/>
<circle cx="595.9" cy="34.9" r="1.4" fill="rgb(92,92,92)" fill-opacity="0.85"/>
<circle cx="583.7" cy="36.8" r="1.4" fill="#262626" fill-opacity="1"/>
<circle cx="573.5" cy="35.5" r="1.3" fill="rgb(92,92,92)" fill-opacity="0.85"/>
<circle cx="575.5" cy="36.7" r="1.3" fill="rgb(92,92,92)" fill-opacity="0.85"/>
<circle cx="577.3" cy="35.5" r="1.3" fill="rgb(92,92,92)" fill-opacity="0.85"/>
<circle cx="578.7" cy="34.9" r="1.3" fill="rgb(92,92,92)" fill-opacity="0.85"/>
<circle cx="594.8" cy="40.1" r="1.89" fill="rgb(92,92,92)" fill-opacity="0.85"/>
<circle cx="602.8" cy="42.2" r="1.77" fill="rgb(92,92,92)" fill-opacity="0.85"/>
<circle cx="569.3" cy="46.2" r="1.89" fill="rgb(92,92,92)" fill-opacity="0.85"/>
<circle cx="572.6" cy="49.3" r="1.89" fill="rgb(92,92,92)" fill-opacity="0.85"/>
<circle cx="577.5" cy="52.6" r="1.89" fill="rgb(92,92,92)" fill-opacity="0.85"/>
<circle cx="585.7" cy="50.3" r="1.89" fill="rgb(92,92,92)" fill-opacity="0.85"/>
<circle cx="595.9" cy="51.4" r="1.89" fill="rgb(92,92,92)" fill-opacity="0.85"/>
<circle cx="616.6" cy="57.3" r="2.01" fill="rgb(92,92,92)" fill-opacity="0.85"/>
<circle cx="623.6" cy="57.6" r="2.01" fill="rgb(92,92,92)" fill-opacity="0.85"/>
<circle cx="623.1" cy="64" r="2.12" fill="rgb(92,92,92)" fill-opacity="0.85"/>
<circle cx="634.2" cy="66.4" r="2.24" fill="rgb(92,92,92)" fill-opacity="0.85"/>
<circle cx="612.3" cy="66.4" r="2.12" fill="rgb(92,92,92)" fill-opacity="0.85"/>
<circle cx="605.9" cy="61.7" r="2.12" fill="rgb(92,92,92)" fill-opacity="0.85"/>
<circle cx="600.9" cy="62.5" r="2.12" fill="rgb(92,92,92)" fill-opacity="0.85"/>
<circle cx="595" cy="65.2" r="2.12" fill="rgb(92,92,92)" fill-opacity="0.85"/>
<circle cx="593.5" cy="69.8" r="2.12" fill="rgb(92,92,92)" fill-opacity="0.85"/>
<circle cx="596.8" cy="74.2" r="2.12" fill="rgb(92,92,92)" fill-opacity="0.85"/>
<circle cx="575.8" cy="67.8" r="2.12" fill="rgb(92,92,92)" fill-opacity="0.85"/>
<circle cx="581" cy="72.1" r="2.12" fill="rgb(92,92,92)" fill-opacity="0.85"/>
<circle cx="578.5" cy="75" r="2.12" fill="rgb(92,92,92)" fill-opacity="0.85"/>
<circle cx="620.8" cy="89.5" r="2.48" fill="rgb(92,92,92)" fill-opacity="0.85"/>
<circle cx="627.6" cy="92.8" r="2.48" fill="rgb(92,92,92)" fill-opacity="0.85"/>
<circle cx="548" cy="99.6" r="2.71" fill="rgb(92,92,92)" fill-opacity="0.85"/>
<circle cx="604" cy="109.9" r="2.83" fill="rgb(92,92,92)" fill-opacity="0.85"/>
<circle cx="673.8" cy="121.3" r="3.07" fill="rgb(92,92,92)" fill-opacity="0.85"/>
<rect x="493" y="16.4" width="189.4" height="111.7" fill="none" stroke="#c0c0c0" stroke-width="1" />
<line x1="682.4" y1="15.9" x2="682.4" y2="128.6" stroke="#999" stroke-width="1" />
<line x1="493" y1="128.1" x2="682.4" y2="128.1" stroke="#999" stroke-width="1" />
<line x1="496.4" y1="128.1" x2="496.4" y2="129.1" stroke="#333" stroke-width="0.6" />
<text x="496.4" y="133.8" font-size="3.6" text-anchor="middle" font-weight="normal" fill="#1e1e1e"  stroke="#1e1e1e" stroke-width="0.05">-1.00</text>
<line x1="518.52" y1="128.1" x2="518.52" y2="129.1" stroke="#333" stroke-width="0.6" />
<text x="518.52" y="133.8" font-size="3.6" text-anchor="middle" font-weight="normal" fill="#1e1e1e"  stroke="#1e1e1e" stroke-width="0.05">-0.75</text>
<line x1="540.65" y1="128.1" x2="540.65" y2="129.1" stroke="#333" stroke-width="0.6" />
<text x="540.65" y="133.8" font-size="3.6" text-anchor="middle" font-weight="normal" fill="#1e1e1e"  stroke="#1e1e1e" stroke-width="0.05">-0.50</text>
<line x1="562.77" y1="128.1" x2="562.77" y2="129.1" stroke="#333" stroke-width="0.6" />
<text x="562.77" y="133.8" font-size="3.6" text-anchor="middle" font-weight="normal" fill="#1e1e1e"  stroke="#1e1e1e" stroke-width="0.05">-0.25</text>
<line x1="584.9" y1="128.1" x2="584.9" y2="129.1" stroke="#333" stroke-width="0.6" />
<text x="584.9" y="133.8" font-size="3.6" text-anchor="middle" font-weight="normal" fill="#1e1e1e"  stroke="#1e1e1e" stroke-width="0.05">0.00</text>
<line x1="607.02" y1="128.1" x2="607.02" y2="129.1" stroke="#333" stroke-width="0.6" />
<text x="607.02" y="133.8" font-size="3.6" text-anchor="middle" font-weight="normal" fill="#1e1e1e"  stroke="#1e1e1e" stroke-width="0.05">0.25</text>
<line x1="629.15" y1="128.1" x2="629.15" y2="129.1" stroke="#333" stroke-width="0.6" />
<text x="629.15" y="133.8" font-size="3.6" text-anchor="middle" font-weight="normal" fill="#1e1e1e"  stroke="#1e1e1e" stroke-width="0.05">0.50</text>
<line x1="651.27" y1="128.1" x2="651.27" y2="129.1" stroke="#333" stroke-width="0.6" />
<text x="651.27" y="133.8" font-size="3.6" text-anchor="middle" font-weight="normal" fill="#1e1e1e"  stroke="#1e1e1e" stroke-width="0.05">0.75</text>
<line x1="673.4" y1="128.1" x2="673.4" y2="129.1" stroke="#333" stroke-width="0.6" />
<text x="673.4" y="133.8" font-size="3.6" text-anchor="middle" font-weight="normal" fill="#1e1e1e"  stroke="#1e1e1e" stroke-width="0.05">1.00</text>
<line x1="492" y1="21.6" x2="493" y2="21.6" stroke="#333" stroke-width="0.6" />
<text x="491" y="22.9" font-size="3.6" text-anchor="end" font-weight="normal" fill="#1e1e1e"  stroke="#1e1e1e" stroke-width="0.05">0.0</text>
<line x1="492" y1="42.86" x2="493" y2="42.86" stroke="#333" stroke-width="0.6" />
<text x="491" y="44.16" font-size="3.6" text-anchor="end" font-weight="normal" fill="#1e1e1e"  stroke="#1e1e1e" stroke-width="0.05">0.1</text>
<line x1="492" y1="64.12" x2="493" y2="64.12" stroke="#333" stroke-width="0.6" />
<text x="491" y="65.42" font-size="3.6" text-anchor="end" font-weight="normal" fill="#1e1e1e"  stroke="#1e1e1e" stroke-width="0.05">0.2</text>
<line x1="492" y1="85.38" x2="493" y2="85.38" stroke="#333" stroke-width="0.6" />
<text x="491" y="86.68" font-size="3.6" text-anchor="end" font-weight="normal" fill="#1e1e1e"  stroke="#1e1e1e" stroke-width="0.05">0.3</text>
<line x1="492" y1="106.64" x2="493" y2="106.64" stroke="#333" stroke-width="0.6" />
<text x="491" y="107.94" font-size="3.6" text-anchor="end" font-weight="normal" fill="#1e1e1e"  stroke="#1e1e1e" stroke-width="0.05">0.4</text>
<line x1="492" y1="127.9" x2="493" y2="127.9" stroke="#333" stroke-width="0.6" />
<text x="491" y="129.2" font-size="3.6" text-anchor="end" font-weight="normal" fill="#1e1e1e"  stroke="#1e1e1e" stroke-width="0.05">0.5</text>
<text x="0" y="0" font-size="4.5" text-anchor="middle" fill="#000" stroke="#000" stroke-width="0.12" transform="translate(483.9,72.4) rotate(-90)">Standard Error</text>
<text x="587.7" y="139.2" font-size="4.5" text-anchor="middle" font-weight="normal" fill="#000" stroke="#000" stroke-width="0.12">Residuals</text>
<text x="579.8" y="11.7" font-size="9" text-anchor="start" font-weight="bold" fill="#000" stroke="#000" stroke-width="0.25">iii</text>
<rect x="494.9" y="189.5" width="187.5" height="111.9" fill="#fff" stroke="none" stroke-width="1" />
<line x1="549.5" y1="189.5" x2="549.5" y2="301.4" stroke="#f6f6f6" stroke-width="0.5" />
<line x1="627.5" y1="189.5" x2="627.5" y2="301.4" stroke="#f6f6f6" stroke-width="0.5" />
<line x1="494.9" y1="212.5" x2="682.4" y2="212.5" stroke="#f6f6f6" stroke-width="0.5" />
<line x1="494.9" y1="248.7" x2="682.4" y2="248.7" stroke="#f6f6f6" stroke-width="0.5" />
<line x1="494.9" y1="284.9" x2="682.4" y2="284.9" stroke="#f6f6f6" stroke-width="0.5" />
<line x1="510.5" y1="189.5" x2="510.5" y2="301.4" stroke="#ededed" stroke-width="0.6" />
<line x1="588.5" y1="189.5" x2="588.5" y2="301.4" stroke="#ededed" stroke-width="0.6" />
<line x1="666.5" y1="189.5" x2="666.5" y2="301.4" stroke="#ededed" stroke-width="0.6" />
<line x1="494.9" y1="194.4" x2="682.4" y2="194.4" stroke="#ededed" stroke-width="0.6" />
<line x1="494.9" y1="230.6" x2="682.4" y2="230.6" stroke="#ededed" stroke-width="0.6" />
<line x1="494.9" y1="266.8" x2="682.4" y2="266.8" stroke="#ededed" stroke-width="0.6" />
<polygon points="588.5,195.3 503.2,296 673.8,296" fill="rgb(247,247,247)" stroke="none" stroke-width="1" />
<line x1="510.5" y1="195.3" x2="510.5" y2="296" stroke="#ededed" stroke-width="0.5" stroke-opacity="0.6"/>
<line x1="588.5" y1="195.3" x2="588.5" y2="296" stroke="#ededed" stroke-width="0.5" stroke-opacity="0.6"/>
<line x1="666.5" y1="195.3" x2="666.5" y2="296" stroke="#ededed" stroke-width="0.5" stroke-opacity="0.6"/>
<line x1="588.5" y1="195.3" x2="503.2" y2="296" stroke="#333" stroke-width="0.85" stroke-dasharray="1.0,2.1"/>
<line x1="588.5" y1="195.3" x2="673.8" y2="296" stroke="#333" stroke-width="0.85" stroke-dasharray="1.0,2.1"/>
<line x1="588.5" y1="195.3" x2="588.5" y2="296" stroke="#4a4a4a" stroke-width="0.65" stroke-dasharray="1.3,1.3"/>
<circle cx="594.7" cy="200" r="0.97" fill="rgb(92,92,92)" fill-opacity="0.85"/>
<circle cx="588.9" cy="210.7" r="1.08" fill="#262626" fill-opacity="1"/>
<circle cx="592" cy="214.3" r="1.3" fill="rgb(92,92,92)" fill-opacity="0.85"/>
<circle cx="600.9" cy="212.3" r="1.4" fill="rgb(92,92,92)" fill-opacity="0.85"/>
<circle cx="604.3" cy="212" r="1.4" fill="rgb(92,92,92)" fill-opacity="0.85"/>
<circle cx="600.9" cy="217.5" r="1.4" fill="rgb(92,92,92)" fill-opacity="0.85"/>
<circle cx="607.3" cy="218.4" r="1.4" fill="rgb(92,92,92)" fill-opacity="0.85"/>
<circle cx="600.9" cy="221.2" r="1.4" fill="rgb(92,92,92)" fill-opacity="0.85"/>
<circle cx="603.9" cy="231.4" r="1.89" fill="rgb(92,92,92)" fill-opacity="0.85"/>
<circle cx="618.5" cy="236.6" r="2.01" fill="rgb(92,92,92)" fill-opacity="0.85"/>
<circle cx="629.4" cy="258.9" r="2.24" fill="rgb(92,92,92)" fill-opacity="0.85"/>
<circle cx="634.9" cy="278" r="2.48" fill="rgb(92,92,92)" fill-opacity="0.85"/>
<circle cx="629.4" cy="284.8" r="2.48" fill="rgb(92,92,92)" fill-opacity="0.85"/>
<rect x="494.9" y="189.5" width="187.5" height="111.9" fill="none" stroke="#c0c0c0" stroke-width="1" />
<line x1="682.4" y1="189" x2="682.4" y2="301.9" stroke="#999" stroke-width="1" />
<line x1="494.9" y1="301.4" x2="682.4" y2="301.4" stroke="#999" stroke-width="1" />
<line x1="510.5" y1="301.4" x2="510.5" y2="302.4" stroke="#333" stroke-width="0.6" />
<text x="510.5" y="306.4" font-size="3.6" text-anchor="middle" font-weight="normal" fill="#1e1e1e"  stroke="#1e1e1e" stroke-width="0.05">-0.25</text>
<line x1="588.5" y1="301.4" x2="588.5" y2="302.4" stroke="#333" stroke-width="0.6" />
<text x="588.5" y="306.4" font-size="3.6" text-anchor="middle" font-weight="normal" fill="#1e1e1e"  stroke="#1e1e1e" stroke-width="0.05">0.00</text>
<line x1="666.5" y1="301.4" x2="666.5" y2="302.4" stroke="#333" stroke-width="0.6" />
<text x="666.5" y="306.4" font-size="3.6" text-anchor="middle" font-weight="normal" fill="#1e1e1e"  stroke="#1e1e1e" stroke-width="0.05">0.25</text>
<line x1="493.9" y1="194.4" x2="494.9" y2="194.4" stroke="#333" stroke-width="0.6" />
<text x="493" y="195.7" font-size="3.6" text-anchor="end" font-weight="normal" fill="#1e1e1e"  stroke="#1e1e1e" stroke-width="0.05">0.00</text>
<line x1="493.9" y1="230.6" x2="494.9" y2="230.6" stroke="#333" stroke-width="0.6" />
<text x="493" y="231.9" font-size="3.6" text-anchor="end" font-weight="normal" fill="#1e1e1e"  stroke="#1e1e1e" stroke-width="0.05">0.05</text>
<line x1="493.9" y1="266.8" x2="494.9" y2="266.8" stroke="#333" stroke-width="0.6" />
<text x="493" y="268.1" font-size="3.6" text-anchor="end" font-weight="normal" fill="#1e1e1e"  stroke="#1e1e1e" stroke-width="0.05">0.10</text>
<text x="0" y="0" font-size="4.5" text-anchor="middle" fill="#000" stroke="#000" stroke-width="0.12" transform="translate(483.9,245) rotate(-90)">Standard Error</text>
<text x="588.65" y="310.6" font-size="4.5" text-anchor="middle" font-weight="normal" fill="#000" stroke="#000" stroke-width="0.12">Residuals</text>
<rect x="494.4" y="352.6" width="188.8" height="111.7" fill="#fff" stroke="none" stroke-width="1" />
<line x1="506.1" y1="352.6" x2="506.1" y2="464.3" stroke="#f6f6f6" stroke-width="0.5" />
<line x1="529.9" y1="352.6" x2="529.9" y2="464.3" stroke="#f6f6f6" stroke-width="0.5" />
<line x1="553.7" y1="352.6" x2="553.7" y2="464.3" stroke="#f6f6f6" stroke-width="0.5" />
<line x1="577.5" y1="352.6" x2="577.5" y2="464.3" stroke="#f6f6f6" stroke-width="0.5" />
<line x1="601.3" y1="352.6" x2="601.3" y2="464.3" stroke="#f6f6f6" stroke-width="0.5" />
<line x1="625.1" y1="352.6" x2="625.1" y2="464.3" stroke="#f6f6f6" stroke-width="0.5" />
<line x1="648.9" y1="352.6" x2="648.9" y2="464.3" stroke="#f6f6f6" stroke-width="0.5" />
<line x1="672.7" y1="352.6" x2="672.7" y2="464.3" stroke="#f6f6f6" stroke-width="0.5" />
<line x1="494.4" y1="368.35" x2="683.2" y2="368.35" stroke="#f6f6f6" stroke-width="0.5" />
<line x1="494.4" y1="390.45" x2="683.2" y2="390.45" stroke="#f6f6f6" stroke-width="0.5" />
<line x1="494.4" y1="412.55" x2="683.2" y2="412.55" stroke="#f6f6f6" stroke-width="0.5" />
<line x1="494.4" y1="434.65" x2="683.2" y2="434.65" stroke="#f6f6f6" stroke-width="0.5" />
<line x1="494.4" y1="456.75" x2="683.2" y2="456.75" stroke="#f6f6f6" stroke-width="0.5" />
<line x1="518" y1="352.6" x2="518" y2="464.3" stroke="#ededed" stroke-width="0.6" />
<line x1="541.8" y1="352.6" x2="541.8" y2="464.3" stroke="#ededed" stroke-width="0.6" />
<line x1="565.6" y1="352.6" x2="565.6" y2="464.3" stroke="#ededed" stroke-width="0.6" />
<line x1="589.4" y1="352.6" x2="589.4" y2="464.3" stroke="#ededed" stroke-width="0.6" />
<line x1="613.2" y1="352.6" x2="613.2" y2="464.3" stroke="#ededed" stroke-width="0.6" />
<line x1="637" y1="352.6" x2="637" y2="464.3" stroke="#ededed" stroke-width="0.6" />
<line x1="660.8" y1="352.6" x2="660.8" y2="464.3" stroke="#ededed" stroke-width="0.6" />
<line x1="494.4" y1="357.3" x2="683.2" y2="357.3" stroke="#ededed" stroke-width="0.6" />
<line x1="494.4" y1="379.4" x2="683.2" y2="379.4" stroke="#ededed" stroke-width="0.6" />
<line x1="494.4" y1="401.5" x2="683.2" y2="401.5" stroke="#ededed" stroke-width="0.6" />
<line x1="494.4" y1="423.6" x2="683.2" y2="423.6" stroke="#ededed" stroke-width="0.6" />
<line x1="494.4" y1="445.7" x2="683.2" y2="445.7" stroke="#ededed" stroke-width="0.6" />
<polygon points="589.4,358.2 503.1,459.2 675.7,459.2" fill="rgb(247,247,247)" stroke="none" stroke-width="1" />
<line x1="518" y1="358.2" x2="518" y2="459.2" stroke="#ededed" stroke-width="0.5" stroke-opacity="0.6"/>
<line x1="541.8" y1="358.2" x2="541.8" y2="459.2" stroke="#ededed" stroke-width="0.5" stroke-opacity="0.6"/>
<line x1="565.6" y1="358.2" x2="565.6" y2="459.2" stroke="#ededed" stroke-width="0.5" stroke-opacity="0.6"/>
<line x1="589.4" y1="358.2" x2="589.4" y2="459.2" stroke="#ededed" stroke-width="0.5" stroke-opacity="0.6"/>
<line x1="613.2" y1="358.2" x2="613.2" y2="459.2" stroke="#ededed" stroke-width="0.5" stroke-opacity="0.6"/>
<line x1="637" y1="358.2" x2="637" y2="459.2" stroke="#ededed" stroke-width="0.5" stroke-opacity="0.6"/>
<line x1="660.8" y1="358.2" x2="660.8" y2="459.2" stroke="#ededed" stroke-width="0.5" stroke-opacity="0.6"/>
<line x1="589.4" y1="358.2" x2="503.1" y2="459.2" stroke="#333" stroke-width="0.85" stroke-dasharray="1.0,2.1"/>
<line x1="589.4" y1="358.2" x2="675.7" y2="459.2" stroke="#333" stroke-width="0.85" stroke-dasharray="1.0,2.1"/>
<line x1="589.4" y1="358.2" x2="589.4" y2="459.2" stroke="#4a4a4a" stroke-width="0.65" stroke-dasharray="1.3,1.3"/>
<circle cx="586.3" cy="364.9" r="1.3" fill="rgb(92,92,92)" fill-opacity="0.85"/>
<circle cx="589.5" cy="362.5" r="1.3" fill="#262626" fill-opacity="1"/>
<circle cx="590.2" cy="361.8" r="1.08" fill="rgb(92,92,92)" fill-opacity="0.85"/>
<circle cx="592.8" cy="360.7" r="0.86" fill="rgb(92,92,92)" fill-opacity="0.85"/>
<circle cx="593.5" cy="362.9" r="1.3" fill="rgb(92,92,92)" fill-opacity="0.85"/>
<circle cx="595" cy="363.6" r="1.3" fill="rgb(92,92,92)" fill-opacity="0.85"/>
<circle cx="596.3" cy="364.9" r="1.4" fill="#262626" fill-opacity="1"/>
<circle cx="591.9" cy="367.3" r="1.3" fill="rgb(92,92,92)" fill-opacity="0.85"/>
<circle cx="595" cy="369.7" r="1.4" fill="rgb(92,92,92)" fill-opacity="0.85"/>
<circle cx="597.6" cy="374.3" r="1.77" fill="rgb(92,92,92)" fill-opacity="0.85"/>
<circle cx="553.9" cy="454.7" r="3.07" fill="rgb(92,92,92)" fill-opacity="0.85"/>
<circle cx="622.8" cy="450.7" r="3.07" fill="rgb(92,92,92)" fill-opacity="0.85"/>
<rect x="494.4" y="352.6" width="188.8" height="111.7" fill="none" stroke="#c0c0c0" stroke-width="1" />
<line x1="683.2" y1="352.1" x2="683.2" y2="464.8" stroke="#999" stroke-width="1" />
<line x1="494.4" y1="464.3" x2="683.2" y2="464.3" stroke="#999" stroke-width="1" />
<line x1="518" y1="464.3" x2="518" y2="465.3" stroke="#333" stroke-width="0.6" />
<text x="518" y="469" font-size="3.6" text-anchor="middle" font-weight="normal" fill="#1e1e1e"  stroke="#1e1e1e" stroke-width="0.05">-0.75</text>
<line x1="541.8" y1="464.3" x2="541.8" y2="465.3" stroke="#333" stroke-width="0.6" />
<text x="541.8" y="469" font-size="3.6" text-anchor="middle" font-weight="normal" fill="#1e1e1e"  stroke="#1e1e1e" stroke-width="0.05">-0.50</text>
<line x1="565.6" y1="464.3" x2="565.6" y2="465.3" stroke="#333" stroke-width="0.6" />
<text x="565.6" y="469" font-size="3.6" text-anchor="middle" font-weight="normal" fill="#1e1e1e"  stroke="#1e1e1e" stroke-width="0.05">-0.25</text>
<line x1="589.4" y1="464.3" x2="589.4" y2="465.3" stroke="#333" stroke-width="0.6" />
<text x="589.4" y="469" font-size="3.6" text-anchor="middle" font-weight="normal" fill="#1e1e1e"  stroke="#1e1e1e" stroke-width="0.05">0.00</text>
<line x1="613.2" y1="464.3" x2="613.2" y2="465.3" stroke="#333" stroke-width="0.6" />
<text x="613.2" y="469" font-size="3.6" text-anchor="middle" font-weight="normal" fill="#1e1e1e"  stroke="#1e1e1e" stroke-width="0.05">0.25</text>
<line x1="637" y1="464.3" x2="637" y2="465.3" stroke="#333" stroke-width="0.6" />
<text x="637" y="469" font-size="3.6" text-anchor="middle" font-weight="normal" fill="#1e1e1e"  stroke="#1e1e1e" stroke-width="0.05">0.50</text>
<line x1="660.8" y1="464.3" x2="660.8" y2="465.3" stroke="#333" stroke-width="0.6" />
<text x="660.8" y="469" font-size="3.6" text-anchor="middle" font-weight="normal" fill="#1e1e1e"  stroke="#1e1e1e" stroke-width="0.05">0.75</text>
<line x1="493.4" y1="357.3" x2="494.4" y2="357.3" stroke="#333" stroke-width="0.6" />
<text x="491" y="358.6" font-size="3.6" text-anchor="end" font-weight="normal" fill="#1e1e1e"  stroke="#1e1e1e" stroke-width="0.05">0.0</text>
<line x1="493.4" y1="379.4" x2="494.4" y2="379.4" stroke="#333" stroke-width="0.6" />
<text x="491" y="380.7" font-size="3.6" text-anchor="end" font-weight="normal" fill="#1e1e1e"  stroke="#1e1e1e" stroke-width="0.05">0.1</text>
<line x1="493.4" y1="401.5" x2="494.4" y2="401.5" stroke="#333" stroke-width="0.6" />
<text x="491" y="402.8" font-size="3.6" text-anchor="end" font-weight="normal" fill="#1e1e1e"  stroke="#1e1e1e" stroke-width="0.05">0.2</text>
<line x1="493.4" y1="423.6" x2="494.4" y2="423.6" stroke="#333" stroke-width="0.6" />
<text x="491" y="424.9" font-size="3.6" text-anchor="end" font-weight="normal" fill="#1e1e1e"  stroke="#1e1e1e" stroke-width="0.05">0.3</text>
<line x1="493.4" y1="445.7" x2="494.4" y2="445.7" stroke="#333" stroke-width="0.6" />
<text x="491" y="447" font-size="3.6" text-anchor="end" font-weight="normal" fill="#1e1e1e"  stroke="#1e1e1e" stroke-width="0.05">0.4</text>
<text x="0" y="0" font-size="4.5" text-anchor="middle" fill="#000" stroke="#000" stroke-width="0.12" transform="translate(483.9,410) rotate(-90)">Standard Error</text>
<text x="588.8" y="474.2" font-size="4.5" text-anchor="middle" font-weight="normal" fill="#000" stroke="#000" stroke-width="0.12">Residuals</text>
</svg>
</body></html>
